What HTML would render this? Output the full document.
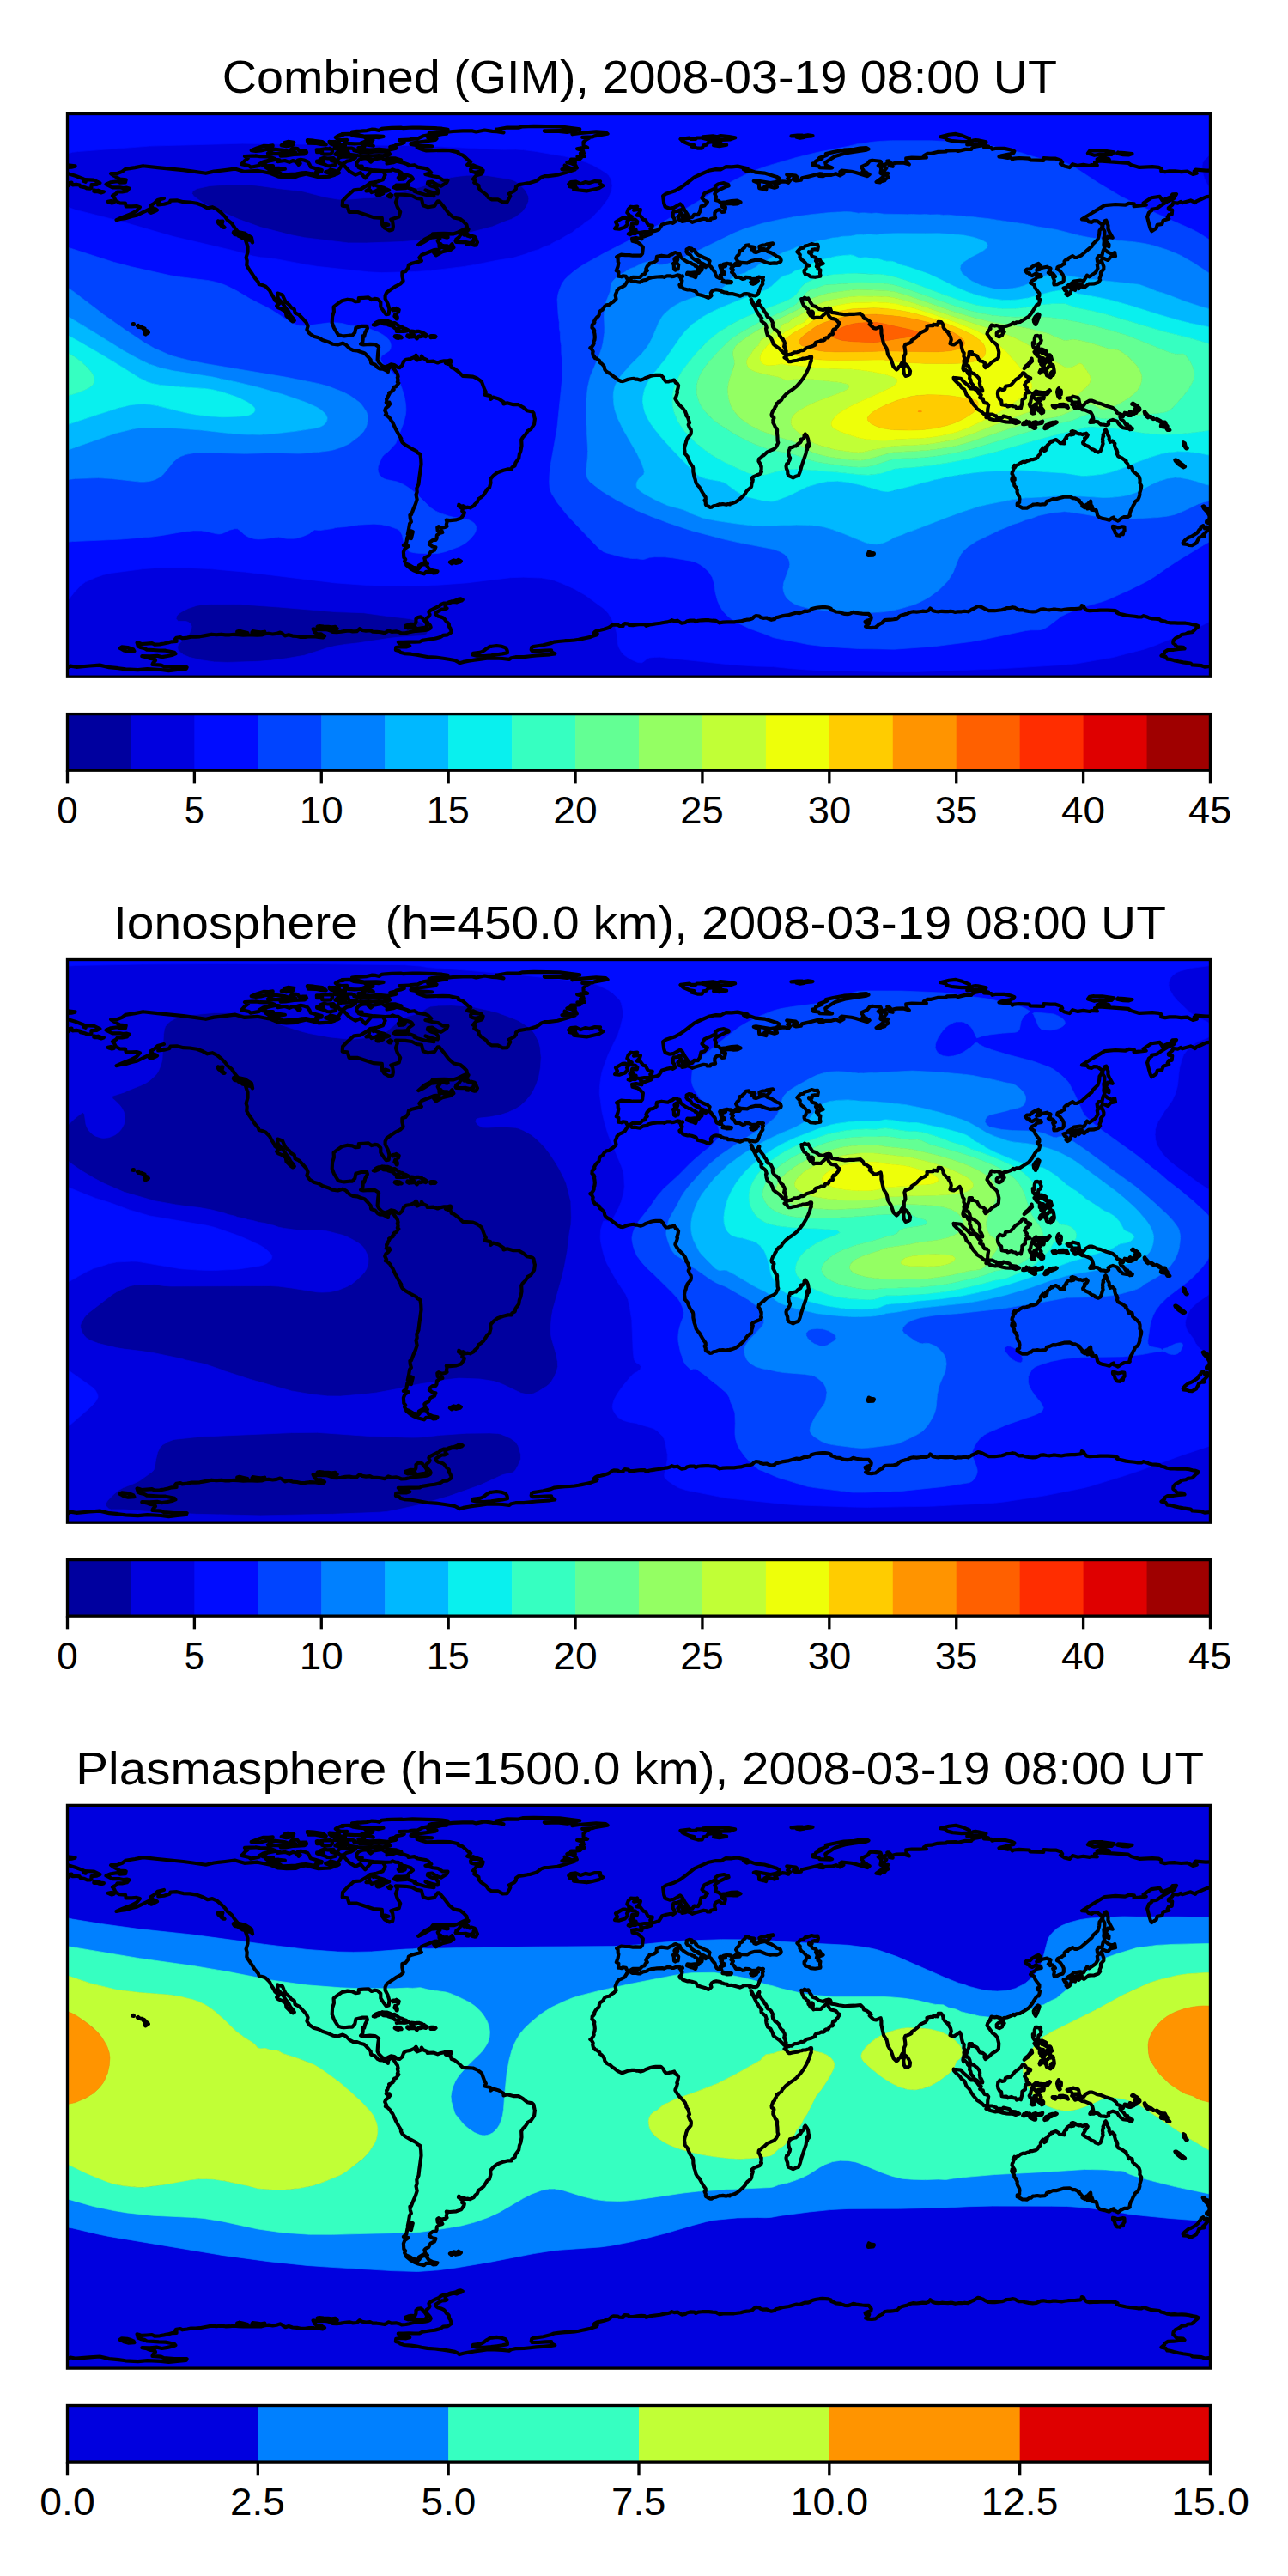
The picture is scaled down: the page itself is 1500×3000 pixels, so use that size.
<!DOCTYPE html><html><head><meta charset="utf-8"><title>TEC maps</title><style>html,body{margin:0;padding:0;background:#fff}svg{display:block}text{font-family:"Liberation Sans",sans-serif;fill:#000;font-kerning:none}</style></head><body>
<svg width="1500" height="3000" viewBox="0 0 1500 3000">
<rect width="1500" height="3000" fill="#fff"/>
<defs><clipPath id="mc"><rect x="0" y="0" width="1331" height="655.7"/></clipPath>
<path id="coast" d="M88.1 60.7L105 62.6L120 64.1L135 65.6L146.2 67.1L161.2 69.3L170.6 67.1L183.7 65.6L195 64.1L206.2 67.4L221.2 66.3L236.2 69.3L245.6 73.1L255 73.8L266.2 73.4L269.9 71.9L277.4 70.1L292.4 73.8L305.6 73.1L311.2 71.2L314.9 67.4L320.6 58.5L328.1 66.7L335.6 71.2L341.2 68.6L346.8 74.9L354.3 66.3L367.4 66.7L370.1 71.2L367.4 76.8L359.9 79.4L352.4 80.6L348.7 83.6L341.2 88.1L333.7 88.8L326.2 95.5L320.6 101.2L320.2 107.2L326.2 107.9L328.1 114.3L337.4 114.3L348.7 118L356.2 120.6L366.3 121.4L366.7 129.3L369.3 133L374.9 136L378.7 134.9L379.4 131.1L378.7 125.5L376.8 122.9L386.2 119.9L387.7 114.3L384.3 108.7L382.4 103L384.3 97.4L382.4 94L393.7 94.4L401.2 95.5L406.8 98.5L412.4 99.3L414.3 106.8L419.9 108.7L427.4 107.5L431.2 101.9L433 101.9L438.7 108.7L444.3 116.2L449.9 121L457.4 122.5L461.2 125.5L464.9 129.3L465.7 133L461.2 134.9L453.7 138.6L449.9 139.8L438.7 139.4L425.5 139.8L423.7 142.4L416.2 146.1L408.7 152.5L414.3 149.9L423.7 144.3L431.2 143.5L433.8 145.4L431.2 148L433 151.7L433 154.7L438.7 156.2L444.3 155.9L448 151.7L449.9 155.9L446.2 158.5L436.8 160.7L429.3 164.9L426.7 161.9L433 158.1L427.4 158.5L423.7 160L416.2 163L412.4 164.5L409.8 167.5L412.4 171.2L408.7 172.4L401.2 174.2L397.4 176.1L396.7 179.8L393.7 183.6L389.9 184.7L389.9 189.2L391.1 194.8L388.1 197.8L382.4 200.8L377.9 203.8L371.9 208L370.1 211.7L370.1 215.4L373.1 221.1L374.9 227.4L374.2 233.1L371.2 233.8L368.6 230.4L364.8 224.8L364.8 219.2L361.1 215.8L358.1 215.4L354.3 216.6L350.6 213.9L344.9 214.3L339.3 214.7L339.3 218.4L335.6 218.8L331.8 216.9L326.2 216.2L319.8 217.7L314.9 221.1L310.1 224.8L310.4 230.4L308.6 236.1L308.2 243.5L310.4 249.2L313.1 253.7L315.3 257.4L319.4 258.5L322.4 258.9L328.1 258.2L331.8 258.2L334.8 254.8L335.9 249.2L343.1 247.3L348.7 247.3L349.4 249.9L346.8 254.8L345.7 259.3L343.8 258.9L344.2 262.3L343.8 266L341.6 268.3L344.9 269L352.4 268.3L358.1 268.6L362.6 271.6L361.8 277.3L361.4 281.8L361.1 286.6L362.6 289.6L366.3 293.4L369.3 294.9L373.1 293.8L376.8 291.9L380.6 292.6L384.7 295.3L386.9 295.6L389.9 293L391.8 288.1L394.4 286.3L399.3 285.5L404.2 283.3L406 281.2L407.5 283.6L405.3 285.1L407.2 287L411.7 285.1L412.4 282.1L414.3 284.8L418.8 286.6L419.2 288.5L426.3 288.1L431.2 290L433.8 288.9L438.7 287.8L442.8 287.8L440.5 290.4L446.2 292.3L447.3 295.6L450.7 296.8L455.5 300.5L460.4 305.4L465.3 305.7L472.4 306.1L476.9 308L480.7 310.6L482.5 312.1L485.5 320.4L487.4 324.1L485.9 327.1L492.7 328.6L493 332.3L495.7 330.1L502.4 332L508 335.7L508 338L512.2 336.8L519.3 338.7L525.3 338.7L530.5 341.7L535.4 345.8L541.4 347L542.9 348.5L544 354.1L544.4 355.2L543.6 361.6L539.9 367.2L536.1 369.4L533.5 373.6L530.5 376.6L528.7 379.6L529 386.7L527.9 392.7L526.4 396.4L525.7 401.3L521.9 406.5L521.2 409.9L517.8 411.8L517.4 413.9L513.3 413.9L507.7 415.2L500.9 417.8L496.4 421.1L493 424.9L492.7 427.5L493 429.8L491.5 435.4L488.9 437.3L484.8 443.9L481.4 447L478.8 448.5L477.3 452.2L474.7 454.5L473.2 456.7L469 458.8L466 458.2L464.2 458.6L460.8 456.7L458.2 457.1L455.9 455.2L455.5 456.7L460.4 460.1L459.7 462.7L462.3 464.2L461.9 466.1L458.5 471L452.9 472.9L445.4 473.6L441.3 473.2L442 475.5L441.3 478.5L442 480.3L439.8 481.5L435.7 482.2L432.3 480.7L430.8 481.8L431.2 485.6L433.8 486.7L435.7 485.2L436.8 487.5L433.4 488.6L430.4 490.8L430 494.6L428.9 496.5L425.5 496.5L422.5 498.7L421.4 501.3L425.2 504L428.9 504.7L427.5 508.1L422.9 510.3L420.7 514.8L417.3 516.3L415.8 517.8L416.9 521.9L419.4 524L414.3 523.2L409.4 526.1L408.7 529.4L402.7 528.3L398.6 525.7L394.1 523.8L392.6 521.2L393.7 518.9L391.8 516.7L391.4 510.3L392.9 506.6L397.1 503.6L391.4 502.5L394.8 499.5L395.9 493.1L400.4 494.6L402.3 486.7L399.7 485.6L398.6 490.5L396.3 489.7L397.4 484.5L398.6 477.3L400.4 475.1L399.3 471.4L398.9 467.2L400.4 466.9L402.7 460.9L405.3 454.9L407.2 449.2L406 443.6L407.2 440.6L406.8 436.1L409 431.3L409.8 424.1L410.9 416.3L412 408L411.7 402L410.9 396.4L407.2 394.5L406.8 393L399.7 389.3L392.9 385.2L389.9 382.6L388.4 379.6L388.8 378.4L385.8 373.6L382.1 366.8L378.7 359.3L377.2 357.5L375.7 354.8L373.1 352.2L370.4 350.7L371.6 349.2L369.7 345.5L370.8 342.8L373.8 340.6L375.7 338L374.9 336.1L373.4 338L371.3 336.1L371.9 335.2L371.6 332L372.7 331.2L373.4 329L374.9 326.4L374.6 324.9L376.8 324.1L379.1 322.6L378.7 321.5L380.2 321.1L379.8 319.2L380.9 318.1L382.8 317.7L384.3 315.5L385.8 313.6L384.3 312.5L385.1 310.2L384.3 306.9L385.1 306.1L384.3 302.7L382.8 300.9L380.9 297.9L378.7 294.9L376.8 294.5L373.8 296.8L373.4 300.5L371.2 299L367.4 297.1L363.7 296.8L361.4 295.6L358.1 291.9L353.6 290.4L353.2 286.6L350.6 283.6L346.8 279.5L345.3 278.4L341.2 277.3L337.4 275.8L332.6 275.4L328.8 273.5L324.3 269L320.6 267.2L314.9 269L309.3 268.3L303.7 265.7L296.9 263.4L292.4 260.8L286.8 259.3L281.9 255.9L278.9 251.4L280.1 247.3L278.2 243.2L274.4 239L269.9 234.2L265.1 231.9L264.3 227.8L260.6 225.6L258.7 222.9L254.2 219.2L252 214.7L250.5 210.9L244.8 209.1L244.5 211.7L245.6 215.4L249.3 219.2L252 222.9L255 227.4L257.6 230.4L259.8 234.9L262.5 237.9L264.3 240.9L262.5 242L259.5 239.8L255 235.3L254.2 230.4L249.3 227.4L245.6 225.9L243.7 223.7L246.7 221.1L241.8 217.3L240 213.6L237.3 209.4L235.5 205.7L231 201.2L228.7 200.1L223.1 198.6L222.3 196L218.2 191.1L215.6 187L213.7 184.3L210.7 179.8L208.8 176.5L209.2 171.2L208.1 167.5L210 161.1L210 154.7L207.3 146.9L213.7 147.3L215.6 149.9L214.5 144.3L211.8 142.4L207 139.4L198.7 137.5L195 133L191.2 127.4L186.3 123.6L183.7 119.9L180 116.2L174.3 111.3L168.7 108.7L163.1 109.8L157.5 106.8L150.7 104.2L142.5 103L135 102.7L127.5 100.8L120 101.2L118.9 103.4L112.5 105.3L105.7 106L106.9 100L112.5 98.5L105 100.4L101.2 104.2L96.7 106.8L99.4 109.4L93.7 112L88.1 114.7L81.4 118L75 119.5L67.5 121.8L61.9 122.5L57 123.6L63.7 120.6L69.4 118.4L75 116.2L80.6 113.2L84.4 108.7L80.6 107.5L75 107.9L68.2 107.9L67.5 104.2L60.7 103.8L56.2 101.2L54.4 97.4L52.5 95.5L57 92.9L58.1 91L63.7 91L69.4 89.9L72 86.9L69.4 86.2L64.9 86.6L61.1 85.8L52.5 85.8L45 82.1L50.6 79.8L58.1 78.7L61.1 80.2L67.5 79.8L68.2 76.8L61.1 76.1L54.4 72.3L50.6 69.7L58.1 69.5L63.7 67.4L67.5 64.4L78.7 62.6L88.1 60.7M417.7 524.9L419 526.8L420.9 529.6L425.7 531.9L431 532.8L429.3 534.7L425.7 534.9L423.8 533.6L421.6 533.4L417.6 533.4L415.4 535.8L408.7 534.1L403.8 532.1L400 530L394.8 525.7L398.2 526.6L403.4 529.1L408.3 530.4L410.2 528.7L411.4 526.2L414.9 524.6L417.7 524.9M445.4 522.1L449.9 519.9L453.1 520.8L455.4 519.3L458.4 521L457.2 522.3L452.2 523.4L450.5 522.1L447.3 523.8L445.4 522.1M499.6 18.2L512.1 16L525.3 16.2L530.1 14.8L543.3 14.4L573.3 14.9L596.7 17.9L589.8 19.3L575.4 19.5L555.3 19.9L557.1 20.5L570.4 20.1L581.7 21.4L589 20.3L592.1 21.6L588 23.8L597.6 22.4L615.7 20.9L627 21.7L629.1 23.3L613.8 25.9L611.7 26.8L599.7 27.4L608.4 27.6L604 30.3L601 32.8L601.1 36.9L605.6 39.4L599.7 39.6L593.6 40.7L600.5 42.7L601.4 45.9L597.4 46.2L602.2 49.5L593.9 49.8L598.3 51.3L597 52.6L591.8 53.2L586.5 53.2L591.2 55.7L591.3 57.4L583.8 55.8L581.9 56.8L587 57.8L591.9 60.1L593.3 63.1L586.6 63.8L583.7 62.3L579.1 60.2L580.4 62.8L576 64.7L585.9 64.9L591.1 65.1L581 68.3L570.8 71.3L559.9 72.6L555.7 72.6L551.9 74L546.6 78L538.6 80.6L536 80.8L531 81.7L525.6 82.6L522.4 84.9L522.4 87.5L520.4 90L514.3 93L515.8 95.9L514.1 99L512.2 102.7L506.9 102.9L501.4 99.9L493.9 99.8L490.3 97.8L487.8 94.1L481.3 89.4L479.4 87L478.9 83.6L473.7 80.2L475 77.4L472.5 76.1L476.2 71.7L481.9 70.3L483.4 68.8L484.1 65.8L479.9 67.2L477.8 67.7L474.4 68.3L469.9 67L469.6 64.5L471.1 62.5L474.5 62.4L482.2 63.4L475.7 61.1L472.4 59.8L468.7 60.3L465.6 59.4L469.7 55.9L467.4 54.5L464.5 51.9L460 47.9L455.2 46.5L455.2 44.9L445.2 42.7L437.2 42.4L427.2 42.6L418 42.9L413.7 41.7L407.2 39.3L417 38.1L424.6 37.9L408.5 36.9L400 35.4L400.6 34L414.8 32.2L428.5 30.4L430 29L419.8 27.7L423.1 26.2L436.1 23.6L441.6 23.2L440 21.5L448.9 20.5L460.4 19.9L471.9 19.9L476 21L485.9 19L494.9 20.4L500.2 20.6L508 21.9L499 19.9L499.6 18.2M620.5 78.8L619.6 81.3L623.8 83.8L619 86.7L608.2 89.3L604.9 89.9L600 89.4L589.5 88.2L593.2 86.6L585 84.7L591.7 84L591.5 82.9L583.7 82L586.2 79.6L591.9 79L597.7 81.6L603.4 79.5L608.1 80.6L614.2 78.6L620.5 78.8M663.6 108.1L659.6 112.2L663.4 111.7L667.5 111.7L666.5 114.8L663.2 118.1L667 118.4L670.7 123.2L673.3 123.8L675.5 128L676.6 129.5L681.2 130.2L680.7 132.6L678.8 133.7L680.3 135.7L676.9 137.6L671.9 137.6L665.5 138.6L663.8 137.9L661.3 139.6L657.9 139.2L655.2 140.7L653.2 139.9L658.7 136L662.1 135.1L656.2 134.5L655.1 133.1L659.1 131.9L657 129.9L657.7 127.4L663.3 127.8L663.8 125.6L661.3 123.2L656.7 122.6L655.8 121.5L657.2 119.9L655.9 118.9L653.9 120.6L653.7 117L651.8 115.1L653.2 111.2L656.1 108.2L659.1 108.5L663.6 108.1M651.6 126L652.3 128.7L649.4 132L642.8 134.2L637.5 133.7L640.5 129.8L638.5 126L643.6 123L646.5 121.3L649.6 121.1L653.7 123.5L651.6 126M860.6 374.6L861.6 376.2L862.6 378.7L863.2 383.2L864.1 384.9L863.8 386.7L863.1 387.8L861.8 385.6L861.1 386.7L861.8 389.5L861.5 391.1L860.5 392L860.2 395.1L858.7 399.5L856.9 404.7L854.6 411.7L853.2 417L851.5 421.3L848.4 422.2L845.1 423.8L843 422.8L840 421.5L838.9 419.5L838.7 416.2L837.4 413.2L837 410.5L837.7 407.8L839.4 407.1L839.5 405.9L841.2 403L841.6 400.7L840.7 398.9L840 396.5L839.7 393.1L841 391L841.5 388.6L843.4 388.5L845.5 387.7L846.9 387L848.5 387L850.6 384.8L853.8 382.5L854.8 380.6L854.4 379L855.9 379.5L858 376.9L858.1 374.6L859.3 373L860.6 374.6M981.5 299.7L981 303.6L979.4 304.6L976.1 305.5L974.3 302.5L973.7 297.1L975.4 291.1L978 293.1L979.7 295.8L981.5 299.7M849.9 160.7L853.6 156.8L857.3 156.2L859 154L862.5 153.2L866.8 151.6L870 152.5L873.7 152.3L874.4 154.6L873.7 158.3L870.5 157.7L867.3 158.3L867.1 161.1L863.5 160.7L863.6 161.9L865.7 162.9L867.4 166.2L871.7 167.5L872.4 168.8L871.5 171.3L871.7 171.3L872.9 173.7L873.3 171L876.3 170L877.4 172.2L880.1 174.4L876.8 175.6L873.3 174.7L872.4 177.9L874.9 178.1L874 180.6L876.9 181.9L876.4 185.8L877 188.5L876.7 189.3L870.8 190.3L865.5 189.7L862.9 187.8L859.3 187L858.1 184.3L858.1 182.4L859.4 181.5L860.1 180.2L860.7 177.3L863.8 177L862.6 176L860.9 175.8L859 173.2L857 171.2L854.8 169.7L852.9 166.8L853.3 164.3L849.9 160.7M641.5 189.2L641.9 184.3L639.3 182.8L641.1 178L641.9 173.5L641.2 172.4L641.1 168.2L639.6 166.7L644.9 164.1L649.6 164.6L654.6 164.6L658.6 165.2L661.8 165L667.7 165.2L669.6 163L670.4 155.5L666.6 151.5L663.8 149.6L658 148.2L657.6 145.4L662.5 144.6L668.9 145.8L667.7 141.3L671.2 142.9L679.7 140.1L680.9 137.1L684.2 136.4L687.2 135.4L689.1 134.5L692.5 128.9L697.7 127.4L701.5 126.6L704.5 126.5L705.2 127.4L707.9 125.5L707.1 124L706.7 121.8L705.2 119.9L705.2 116.2L706 113.9L710.1 113.5L711.6 112.8L714.6 111.7L714.2 113.5L713.3 114.7L713.9 115.8L715.7 116.2L715 117.7L713.9 117.3L710.9 119.9L712 121.8L712 123.3L715.9 124.2L715.9 125.5L719.7 124.8L721.7 123.6L725.9 125.1L727.7 126.4L730.4 125.3L736.4 123.6L740.9 122.3L744.6 122.9L745 124L748.6 124L749.5 122.3L754.6 121.1L753.8 117.9L753.9 115.1L755.8 112.8L759.2 111.5L762.2 114.3L765.2 114.2L766 111.3L766.4 109L765.1 109.6L762.6 108.3L762.2 106L767.1 105L771.8 104.5L775.9 105.1L779.8 105L784 103L780.1 101.2L773.3 101.5L766.7 102.8L760.6 103.6L758.5 101.5L754.7 100.4L755.5 96.7L753.8 93.3L755.5 91L758.9 88.8L767.5 84.7L770.1 83.9L769.7 82.4L764.5 80.6L758.1 81.7L754.4 84.3L755.1 86.6L749.1 89.5L741.8 92.7L739 98.2L741.6 100.8L745.4 102.7L741.9 107L737.9 107.9L736.5 114.1L734.4 117.7L729.9 117.3L727.7 120.3L723.2 120.4L722.1 116.9L719.1 112.8L716.2 107.3L713.7 105L706.3 109.4L701.3 110.2L696.1 108.3L694.7 104.3L693.6 95.7L697 93.3L706.9 90.1L714.2 86.2L721.2 81L730.2 73.8L736.4 71L746.9 66.3L755.1 64.6L761.2 64.8L766.7 61.7L773.7 61.9L780.5 61.1L792.2 63.9L787.4 64.8L791.5 67.2L795.2 65.9L801.6 68.2L811.7 69.1L826 73.4L828.8 75.1L829 77.6L824.9 79.5L818.8 80.6L802 77.7L799.3 78.3L805.3 80.9L805.7 86.6L810.6 87.7L813.6 88.6L814.1 86.9L811.7 85.2L814.3 83.8L823.3 86.2L826.5 85.2L823.9 82.4L832.7 78.8L836.2 79.1L839.7 80.3L841.7 77.7L838.7 75.5L840.6 73.3L837.8 70.9L848.3 72.1L850.4 74.2L845.7 74.7L845.7 76.8L848.7 78L854.4 77.3L855.4 74.9L863.2 73.1L876.3 69.8L879.1 70L875.4 72.3L880.1 72.7L882.7 71.4L889.8 71.3L895.3 69.8L899.6 72L903.9 69.5L899.9 67.4L901.9 66.1L913 67.3L918.2 68.5L931.7 72.7L934.2 70.7L930.4 68.8L930.4 68L925.8 67.6L927.1 65.8L925 62.9L924.9 61.7L931.8 58.3L934.3 54.9L937.1 54.2L947 55.2L947.8 57.3L944.3 60.3L946.6 61.5L947.8 64.1L946.9 69.2L951.1 71.5L949.5 74L942.1 79.4L946.4 79.9L947.9 78.6L952 77.6L953 75.8L956.3 74L954.1 71.8L955.8 69.4L951.7 69.1L950.8 67L953.8 63.2L948.9 60.1L955.7 57.6L954.8 55L956.7 54.9L958.6 57L957.2 60.5L961.2 61.3L959.4 58.6L965.7 57.1L973.5 56.9L980.4 59L977.1 55.9L976.7 51.9L983.3 51.1L992.3 51.3L1000.4 50.8L997.4 48.9L1001.7 46.4L1006 46.3L1013.3 44.4L1023.2 44L1024.4 42.9L1034.3 42.6L1037.4 43.4L1045.8 41.4L1052.7 41.5L1053.7 39.9L1057.3 38.3L1066.1 36.7L1072.6 38L1067.4 38.9L1075.9 39.5L1076.9 41.3L1080.4 40.4L1091.3 40.4L1099.8 42.3L1102.8 43.7L1101.9 45.6L1097.7 46.7L1087.9 48.8L1085 49.9L1089.7 50.4L1095.2 51.4L1098.6 50.7L1100.5 53.1L1102.2 52.1L1108.2 51.5L1120.2 52.1L1121.1 53.9L1136.8 54.4L1137 51.6L1145 52.2L1151 52.2L1157 54.2L1158.7 56.6L1156.5 58.2L1161.2 61.1L1167.1 62.6L1170.7 58.7L1176.8 60.4L1183.1 59.4L1190.4 60.5L1193.1 59.5L1199.3 60L1196.6 56.5L1201.5 54.9L1235.4 57.3L1238.6 59.5L1248.4 62.4L1263.6 61.7L1271 62.3L1274.1 63.9L1273.7 66.6L1278.3 67.7L1283.3 66.9L1289.9 66.8L1297 67.6L1304.2 67.1L1310.7 70.5L1315.3 69.3L1312.3 66.9L1313.9 65.2L1325.9 66.2L1333.7 66L1344.5 67.8L1349.7 69.5M0 69.5L9.2 72.3L19 76L18.7 78.4L21.2 79.3L20.4 76.6L30.5 77.1L37.9 80.6L34.2 82.3L28 82.7L27.9 86.3L26.4 87.1L22.9 87L20.1 85.7L15.1 84.6L14.2 83L10.4 82.4L6.1 82.8L4.1 81.5L4.9 80.1L0.4 81L2.1 82.8L0 84.4M1349.7 84.4L1344.9 86.1L1340 85.8L1343.4 87.8L1345.7 90.9L1347.4 91.9L1347.8 93.4L1346.9 94.4L1339.8 93.6L1329.4 96.4L1326.1 96.9L1320.3 99.5L1314.9 101.8L1313.5 103.5L1308.1 100.9L1298.3 103.8L1296.7 102.4L1293.1 104.1L1288 103.5L1286.8 106L1282.3 109.6L1282.4 111.1L1286.7 112L1286.2 117.4L1282.7 117.6L1281.1 120.7L1282.7 122.3L1276.1 124.2L1274.8 128.5L1269.2 129.4L1268.1 133.2L1262.7 136.7L1261.3 134.1L1259.7 128.7L1257.6 120.3L1259.4 115.1L1262.6 112.9L1262.8 111.2L1268.6 110.3L1275.3 105.6L1281.8 101.8L1288.5 98.8L1291.5 93.5L1287 93.8L1284.7 96.9L1275.2 101L1272.1 96.4L1262.5 97.7L1253.1 103.9L1256.2 106.3L1247.8 107.2L1242 107.6L1242.3 104.9L1236.4 104.3L1231.8 106.2L1220.4 105.5L1208 106.6L1195.9 113.9L1181.5 122.8L1187.4 123.3L1189.2 125.6L1192.9 126.4L1195.3 124.6L1199.4 124.8L1204.8 128.9L1204.9 132.1L1202 135.9L1201.7 140.3L1200 146.3L1194.3 151.7L1193.1 154.3L1188 158.7L1183 163L1180.5 165.2L1175.6 167.4L1173.2 167.5L1170.8 165.7L1165.8 168.4L1165.2 169.7L1163.8 169.4L1162.2 170.7L1161 172L1161.2 174.7L1159.2 175.5L1158.6 176.1L1157.1 177.3L1154.7 177.9L1153 178.9L1152.9 180.5L1152.5 180.9L1154 181.5L1156.1 183.2L1159.3 187.6L1160.3 190L1160.3 194.3L1158.9 196.4L1155.5 197.1L1152.5 198.7L1149.1 199L1148.7 197L1149.4 194.2L1147.7 190.2L1150.5 189.6L1147.9 186.4L1146.1 185.7L1145.7 186.4L1144.6 186.7L1144.4 186L1143.5 185.7L1142.4 185.1L1143.5 183.4L1144.4 183L1144 182.3L1145 180.3L1144.7 179.7L1142.6 179.2L1140.8 178.2L1135.5 179.3L1132.8 181.1L1128.7 182.1L1130.8 180.4L1130 178.9L1132.9 176.4L1130.9 174.4L1127.7 175.8L1123.4 178.4L1121.1 180.8L1117.4 181L1115.5 182.7L1117.5 185.2L1120.6 185.8L1120.7 187.5L1123.7 188.6L1127.9 186L1131.2 187.4L1133.6 187.5L1134.2 189.5L1128.9 190.5L1127.2 192.6L1123.5 194.4L1121.6 197L1125.7 199.1L1127.1 202.8L1129.4 206.2L1131.9 209.1L1131.9 211.9L1129.5 212.9L1130.4 214.9L1132.6 216.1L1132.1 219.1L1131.1 222.1L1129 222.4L1126.3 226.5L1123.3 231.4L1119.8 235.9L1114.6 239.3L1109.4 242.5L1105.1 242.9L1102.9 244.6L1101.6 243.4L1099.4 245.2L1094.2 247.1L1090.3 247.7L1088.9 251.6L1086.9 251.9L1085.9 249.1L1086.8 247.7L1081.7 246.5L1080 247.1L1076.2 246.1L1074.4 249.8L1075 250.3L1071.8 253.8L1071 256.4L1073.9 260.4L1077.4 265.3L1080.8 267.6L1083.1 270.6L1084.8 277.5L1084.3 284.1L1081.2 286.6L1076.9 289L1073.8 292.1L1069.1 295.6L1067.8 293.2L1068.8 290.7L1066 288.5L1062.9 288L1061.4 286.1L1059.5 282.2L1056.1 280.5L1052.9 280.5L1053.5 277.6L1050.2 277.6L1049.9 281.7L1047.9 287.2L1046.6 290.5L1046.9 293.2L1049.3 293.3L1050.9 296.8L1051.5 300L1053.6 302.1L1055.9 302.6L1057.8 304.5L1058.7 304.9L1060.9 307.2L1062.5 309.6L1062.7 312.2L1062.3 313.9L1062.7 315.2L1062.9 317.4L1064.2 318.4L1065.7 321.7L1065.7 323L1063 323.2L1059.4 320.5L1055 317.5L1054.6 315.6L1052.4 313.1L1051.9 310L1050.6 308L1051 305.2L1050.1 303.6L1048.6 302.2L1048 300.3L1046 298.2L1044.2 296.5L1043.6 298.7L1042.9 296.6L1043.3 294.2L1044.4 290.6L1044 287.8L1045.2 285L1043.9 282.8L1044.2 278.7L1042.7 276.7L1041.5 272.2L1040.8 267.5L1039.2 264.4L1036.7 266.3L1032.4 269L1030.3 268.6L1028 267.8L1029.3 263.1L1028.5 259.6L1025.6 255.3L1026 253.9L1023.9 253.4L1021.2 250.4L1020.1 248.5L1019.9 246.5L1019.2 244.7L1017.6 242.5L1014.2 242.4L1014.5 244L1013.3 246L1011.7 245.3L1011.2 245.9L1010.1 245.5L1008.7 245.2L1008.1 246.6L1005.6 246.5L1001 247.3L1001.2 250.1L999.2 252.4L993.8 254.9L989.6 259.3L986.8 261.6L983 264.1L983 265.8L981.2 266.7L977.8 268.1L976 268.3L974.9 271.1L975.7 276L975.9 279.1L974.3 282.7L974.3 289L972.3 289.2L970.7 292.1L971.8 293.3L968.4 294.4L967.1 296.9L965.6 298L962 294.5L960.3 289.3L958.9 285.5L957.6 283.7L955.5 280.1L954.6 275.4L954 273.1L950.6 267.9L949 260.7L947.9 255.9L947.9 251.3L947.2 247.8L941.7 250.1L939.1 249.6L934.2 245.1L936 243.7L934.9 242.3L930.5 239.1L927.7 238.2L926.6 235.5L923.7 232.6L916.8 233.3L910.7 233.4L905.5 233.9L898.4 232.8L894.3 231.9L890.1 231.4L888.5 226.8L886.7 226.2L883.8 226.8L880 228.6L875.4 227.4L871.6 224.5L868 223.4L865.5 219.9L862.8 214.9L860.8 215.5L858.4 214.2L857 215.7L854.7 215.5L855.5 217.2L855.2 218L856.4 220.9L857.9 224.1L859.7 225L860.4 226.3L862.9 227.8L863.1 229.4L862.8 230.7L863.2 231.9L864.3 232.9L864.8 234.2L865.4 235.1L866.1 230.4L867.2 230L868.3 231.2L868.4 233.4L867.5 235.6L868.3 237L868.9 236.8L869 237.9L872 237.3L875.1 237.4L877.4 237.5L879.9 234.9L882.7 232.5L885.1 230.2L886.2 228.9L886.7 229.3L886.3 230.8L885.8 231.5L886.3 234.5L888 237L890.1 238.4L892.9 238.9L895.1 239.5L896.8 241.7L897.8 242.9L899.1 243.4L899.1 244.3L897.7 246.5L897.1 247.6L895.6 248.8L894.2 251.3L892.4 251.1L891.7 252L891.1 253.9L891.5 256.4L891.2 256.9L889.4 256.8L887.1 258.3L886.7 260.1L885.9 260.9L883.6 260.9L882.1 261.8L882.1 263.3L880.3 264.3L878.2 264L875.7 265.2L874 265.5L871.3 266.5L870.5 268.1L870.5 269.4L866.7 271L860.7 272.7L857.4 275.4L855.7 275.6L854.6 275.4L852.4 276.9L850 277.6L846.9 277.8L846 278.1L845.1 279L844.1 279.3L843.6 280.3L841.7 280.2L840.5 280.7L837.9 280.5L836.9 278.3L837 276.3L836.4 275.2L835.7 272.4L834.6 270.9L835.4 270.7L835 268.9L835.4 268.2L835.3 266.6L834.8 265L833.7 263.9L833.4 262.4L831.4 261L829.4 257.9L828.4 254.8L825.8 252.3L824.1 251.6L821.6 248.1L821.2 245.5L821.4 243.2L819.2 239.1L817.4 237.6L815.4 236.8L814.2 234.7L814.4 233.9L813.3 231.9L812.2 231.1L810.8 228.3L808.5 225.3L806.6 222.7L804.7 222.7L805.3 220.7L805.5 219.3L805.9 217.8L805.8 217.3L804.7 218.8L804 221.7L802.9 223.6L802 224.2L800.8 223.1L799.1 221.4L796.4 216L796.1 216.3L797.6 220.3L799.9 224.1L802.7 229.9L804.1 231.9L805.3 234.1L808.7 238.2L807.9 238.9L808.1 241.3L812.4 244.7L813.1 245.4L814.3 249.1L813.5 249.8L814 253.6L815.4 258.1L816.8 259L818.9 260.4L821.1 264.8L822.1 268.2L824.1 270L829.3 273.6L831.3 275.7L833.4 277.9L834.6 279.1L836.4 280.3L837.3 281.4L837.2 283L835 283.9L836.7 284.9L837.9 285.6L838.6 287.2L840.3 288.7L842.1 288.7L845.7 287.8L849.8 287.3L853.1 286.1L854.9 285.9L856.3 285.2L858.4 285.1L859.6 285L861.3 284.5L863.3 284.1L865.1 282.8L866.5 282.8L866.6 283.8L866.2 286L866.3 288L865.4 289.3L864.4 293.4L862.6 297.6L860.3 302.4L857.1 307.8L853.9 312L849.4 317.1L845.7 320.2L840.1 323.9L836.6 326.8L832.5 331.3L831.6 333.3L830.8 334.1L828.1 335.6L827.2 337.2L825.8 337.5L825.3 340.1L824.1 341.6L823.3 344.1L821.8 345.4L820.1 350L820.3 352.1L822.7 353.5L822.9 354.5L821.8 356.7L822 357.9L821.8 359.7L823.1 362L824.7 365.7L826 366.5L826.6 368.2L826.5 371.9L826.9 375.2L827.1 381.1L827.8 382.9L826.6 385.6L825.2 388.2L822.8 390.5L819.4 391.9L815.1 393.8L810.9 397.8L809.5 398.4L806.8 401.1L805.3 402L805 404.7L806.8 407.5L807.5 409.7L807.6 410.8L808.2 410.6L808.1 414.3L807.5 416.1L808.4 416.7L807.8 418.2L806.2 419.6L803.2 420.8L798.6 422.9L797 424.3L797.3 425.8L798.3 426.1L798 428L797 430.8L796.6 433.9L795.6 435.6L793.1 437.5L792.3 438L790.7 439.9L789.7 441.8L787.6 444.5L783.3 448.4L780.7 450.6L777.8 452.4L773.9 453.8L772 454L771.5 455L769.2 454.5L767.4 455.2L763.3 454.5L761.1 454.9L759.5 454.7L755.6 456.2L752.4 456.8L750.1 458.2L748.4 458.3L746.8 457L745.6 456.9L743.9 455.2L743.8 455.8L743.3 454.8L743.3 452.5L742.1 450L743.3 449.4L743.2 446.5L740.7 443L738.8 439.8L736.1 434.9L733.4 432.1L731.9 429.4L731.1 425.7L730.1 423L728.9 417.2L728.8 412.8L728.3 410.7L726.9 409.2L724.9 406L723 401.6L722.2 399.2L719.1 395.6L718.9 392.7L718.5 390.3L719 387L720.3 383.6L720.5 382L721.7 378.6L722.6 377.1L724.8 374.6L726 373L726.4 370.2L726.2 368.1L725.1 366.7L724.1 364.5L723.2 362.2L723.4 361.4L724.5 359.9L723.4 356.3L722.6 353.8L720.7 351.4L721.1 350.7L720.5 349.5L719.5 346.7L716.5 342.8L712.6 339L710.2 335.9L707.9 332L708 330.8L708.8 329.6L709.7 326.8L710.5 324.1L709.8 323.5L711.1 319.3L711.6 316.3L710.1 313.9L708.4 313.2L707.6 311.6L706.7 311L706.7 310L702.8 311.3L701.4 311.1L700 312L697 311.9L695 309.5L693.7 306.8L691.1 304.4L688.3 304.4L685 304.4L681.9 304.8L678.8 305.6L673 307.8L670.9 309.1L667.5 310.2L664.2 309.2L662.5 309.2L659.8 308.4L657.4 308.5L653 309.2L646.7 311.6L646 311.5L645 311.5L641.1 309.8L637.7 306.9L634.5 304.8L632 302.4L631 302.1L628.3 300.6L626.3 298.6L625.7 297.3L625.2 294.5L623.5 292.3L622.1 290.8L621.1 290.3L620.2 289.6L619.8 287.9L619.2 287.1L618.1 286.5L616.2 284.9L614.5 284.7L613.7 283.6L613.7 283L612.6 282.3L612.3 281.5L611.7 278.6L612.2 276.9L610.6 274L608.8 272.7L610.4 271.9L612.3 269.3L613.2 267.4L612.8 265.4L613.9 263.5L614.3 260L613.9 256.3L613.5 254.4L613.8 252.6L612.9 250.8L610.9 249.2L611.1 247.6L611.2 245.8L612.7 244.8L613.9 242.9L613.6 241.6L615 239L617 236.6L618.3 236L619.3 233.8L619.4 231.8L620.7 229.5L623.2 228.1L625.6 224.3L627.6 222.8L631 222.4L634 219.8L635.9 218.8L639 215.7L638.1 211L639.5 207.8L640 205.9L642.4 203.3L646.2 201.6L649 200L651.5 196.1L652.6 193.9L655.4 193.9L657.7 195.5L661.2 195.2L665.1 196L666.7 196.1L670.3 194L674.4 193.4L676.7 191.8L680.4 190.7L686.7 190L692.9 189.7L694.8 190.3L698.3 188.8L702.4 188.8L703.9 189.6L706.4 189.4L710.5 187.9L713.2 188.4L713 190.3L716.2 188.9L716.5 189.6L714.6 191.4L714.6 193.2L715.9 194.1L715.4 197.3L712.9 199.2L713.6 201.2L715.6 201.3L716.5 203.1L718 203.7L722.3 205L723.9 204.7L727.1 205.3L732 206.9L733.8 210.3L737.1 211L742.4 212.6L746.4 214.4L748.2 213.5L750 211.7L749.2 208.9L750.3 207.1L753 205.3L755.6 204.8L760.7 205.6L762 207.2L763.4 207.2L764.6 207.9L768.3 208.3L769.2 209.6L774.2 209.5L777.8 210.5L781.5 211.6L783.3 212.2L786.2 211L787.7 209.9L791 209.6L793.7 210.1L794.7 212L795.6 210.7L798.6 211.6L801.5 211.8L803.4 210.9L804.4 209.6L804.2 209.4L805.2 207.7L805.9 204.8L806.5 203.9L807.9 200.8L809.8 198.2L809.5 195.2L810.4 193.6L809 192L810.4 190.5L808.2 190.8L805 190L802.5 192.1L796.8 192.6L793.7 190.6L789.7 190.4L788.8 192L786.2 192.4L782.6 190.4L778.5 190.5L776.3 186.8L773.6 184.7L775.4 181.8L773 180L777.2 176.4L782.9 176.3L784.5 173.4L791.7 173.9L796.2 171.5L800.5 170.4L806.7 170.3L813.3 173L818.7 174.4L823 173.9L826.2 174.2L830.7 172.2L831.2 170.6L830.3 168L828.1 166.7L826 166.2L824.7 165.1L819.9 161.9L815.6 160.5L812.4 158.3L815.1 157.7L818.2 154.6L816.1 153.1L821.7 151.6L821.5 150.8L818.2 151.4L815.2 151.7L812.7 152.9L809.2 153.1L805.9 154.5L806.2 156.8L808 157.7L811.8 157.5L811.1 158.8L807 159.5L801.9 161.6L799.8 160.9L800.7 159.1L796.5 158L797.2 157.3L800.8 156.1L799.7 155.2L793.9 154.3L793.7 152.8L790.2 153.3L788.8 155.4L785.9 158.2L786 159.1L784.1 159.9L783 159.6L782 164.1L780 165.6L778.6 168.3L779.9 170.4L780.3 171.9L783.6 173.1L782.9 174L778.4 174.2L776.8 175.4L773.7 177.4L772.5 175.7L772.6 174.9L770.3 174.8L768.3 174.4L763.8 175.4L766.4 177.5L764.5 178.1L762.4 178.1L760.4 176.2L759.7 177L760.5 179.2L762.4 181L761 181.8L763.1 183.6L765 184.6L765 186.7L761.6 185.8L762.6 187.7L760.2 188.1L761.7 191.4L759.2 191.4L756.1 189.8L754.7 186.8L754.1 184.3L752.6 182.6L750.7 180.4L750.4 179.4L749.8 179.1L749.7 178.3L747.6 177L747.3 175.2L747.6 172.7L748.1 171.5L747.5 170.9L746.7 170.6L745.7 169.4L744 168.7L740.5 167.3L738.3 165.9L734.9 164.8L731.8 162.1L732.5 161.8L730.8 160.2L730.7 158.9L728.3 158.4L727.2 160L726.1 158.7L726.2 157.4L727.1 157L724.1 156.5L721.1 157.8L721.3 159.7L720.8 160.7L722.1 162.7L725.6 164.5L727.5 167.6L731.6 170.6L734.6 170.6L735.5 171.5L734.4 172.2L737.8 173.6L740.6 174.7L743.8 176.6L744.2 177.3L743.4 178.7L741.4 176.9L738.1 176.3L736.5 178.7L739.2 180.1L738.8 182.1L737.3 182.3L735.2 185.5L733.7 185.8L733.7 184.7L734.4 182.7L735.3 181.9L733.8 179.7L732.6 177.8L731.1 177.3L730 175.7L727.6 175L726 173.5L723.2 173.3L720.3 171.6L716.8 169.1L714.3 167L713.1 163.3L711.2 162.8L708.2 161.6L706.5 162.1L704.3 163.9L702.8 164.1L699.4 166.2L692 165.2L686.5 166.4L686.1 168.7L686.3 170.9L682.7 173.4L677.9 174.2L677.6 175.4L675.3 177.5L673.8 180.6L675.3 182.7L673.1 184.4L672.3 186.8L669.5 187.6L666.8 190.5L658.5 190.4L656.1 191.8L654.7 193.2L652.9 192.9L651.5 191.6L650.4 189.4L646.9 188.8L645.4 189.8L643.5 189.3L641.5 189.2M1213.1 379.4L1214.5 382.4L1216.9 380.9L1218.1 382.5L1219.9 384L1219.5 385.7L1220.4 388.9L1220.9 390.7L1221.9 391.2L1222.9 394.4L1222.5 396.3L1223.7 398.9L1227.8 400.8L1230.4 402.6L1233 404.2L1232.5 405.1L1234.6 407.5L1236.1 411.6L1237.6 410.7L1239.1 412.4L1240 411.8L1240.6 415.8L1243.3 418.1L1245 419.5L1248 422.5L1249 425.5L1249.1 427.7L1248.9 430L1250.7 433.2L1250.4 436.5L1249.8 438.2L1248.8 441.6L1248.9 443.7L1248.1 446.4L1246.5 449.8L1243.7 451.6L1242.3 454.6L1241.1 456.4L1239.9 459.6L1238.5 461.5L1237.6 464.3L1237.1 466.9L1237.3 468.1L1235.1 469.4L1230.9 469.5L1227.4 471.1L1225.7 472.5L1223.5 474.1L1220.4 472.4L1218.1 471.8L1218.6 469.9L1216.6 470.6L1213.3 473.3L1210.1 472.3L1207.9 471.7L1205.8 471.4L1202.2 470.3L1199.7 468L1199.1 465.1L1198.2 461.7L1196.3 461.7L1192.7 461.3L1194 459.5L1193.1 456.7L1191.2 459.3L1187.9 460L1189.8 457.9L1190.4 455.7L1191.9 453.9L1191.6 451.1L1188.5 454.3L1186.2 455.6L1184.7 458.6L1181.8 457L1181.9 455.1L1179.6 452.3L1177.6 450.9L1178.3 450.1L1173.5 447.8L1170.9 447.7L1167.3 445.9L1160.6 446.2L1155.7 447.6L1151.4 448.8L1147.8 448.6L1143.9 450.5L1140.6 451.3L1139.9 453.3L1138.5 454.8L1135.3 454.9L1133 455.2L1129.7 454.6L1127 455L1124.4 455.2L1122.2 457.2L1121.1 457L1119.2 458.1L1117.4 459.2L1114.7 459.1L1112.2 459.1L1108.1 456.7L1106.2 456L1106.2 453.8L1108.1 453.3L1108.7 452.5L1108.6 451.1L1109 448.5L1108.6 446.3L1106.6 442.5L1106 440.4L1106.2 438.2L1104.7 435.8L1104.6 434.7L1102.9 433.2L1102.5 430.3L1100.3 427.3L1099.8 425.7L1101.5 427.3L1100.2 423.8L1102.1 424.9L1103.2 426.4L1103.1 424.5L1101.2 421.5L1100.9 420.3L1100 419.2L1100.4 417.1L1101.2 416.1L1101.7 414.3L1101.3 412.1L1102.9 409.4L1103.2 412.2L1104.7 409.6L1107.8 408.4L1109.6 406.8L1112.5 405.4L1114.2 405.1L1115.2 405.6L1118.2 404.2L1120.4 403.8L1121 402.9L1122 402.6L1124.1 402.7L1128 401.6L1130 399.9L1131 398L1133.2 396L1133.4 394.5L1133.4 392.5L1136.1 389.3L1137.6 392.6L1139.3 391.8L1137.9 390L1139.1 388.2L1140.8 389L1141.2 386.2L1143.3 384.4L1144.2 382.9L1146 382.2L1146.1 381.2L1147.8 381.6L1147.8 380.7L1149.5 380.1L1151.3 379.6L1154 381.4L1156.1 383.6L1158.5 383.6L1160.9 383.9L1160.1 381.9L1161.9 378.9L1163.6 377.9L1163 377L1164.6 374.8L1166.9 373.5L1168.8 373.9L1172 373.2L1171.9 371.3L1169.1 370.1L1171.1 369.6L1173.6 370.5L1175.6 372L1178.7 373L1179.8 372.6L1182.2 373.7L1184.3 372.7L1185.8 373L1186.6 372.3L1188.3 374.1L1187.4 376.1L1185.9 377.6L1184.6 377.8L1185.1 379.3L1184 381.1L1182.6 383L1182.9 384.1L1185.9 386.1L1188.8 387.3L1190.7 388.6L1193.4 390.8L1194.5 390.8L1196.4 391.8L1197 392.9L1200.6 394.2L1203.1 392.9L1203.8 390.9L1204.5 389.3L1205 387.2L1206.1 384.2L1205.6 382.4L1205.9 381.3L1205.5 379.2L1206 376.3L1206.7 375.6L1206.1 374.3L1207 372.4L1207.7 370.3L1207.8 369.2L1209.2 367.8L1210.3 369.7L1210.5 372L1211.5 372.5L1211.6 374L1213 375.9L1213.3 378.1L1213.1 379.4M1220 480.7L1223.6 482L1225.7 481.5L1228.6 480.8L1230.9 481L1231.1 485.4L1229.8 486.8L1229.4 489.8L1228.1 488.7L1225.5 491.3L1224.7 491.1L1222.5 491L1220.1 487.8L1219.6 485.3L1217.5 482.1L1217.5 480.3L1220 480.7M1338.1 478L1336.7 480L1334.8 482.6L1331.9 484.1L1331.3 483.1L1329.7 482.5L1331.9 479.4L1330.6 477.4L1326.6 475.9L1326.7 474.5L1329.4 473.2L1330 470.3L1329.9 467.9L1328.3 465.4L1328.5 464.7L1326.7 463.2L1323.7 459.9L1322.2 457.2L1323.5 456.9L1325.6 459L1328.5 460L1329.5 463.3L1332.3 467.3L1332.3 464.7L1334 465.7L1334.6 468.6L1337.6 469.8L1340.1 470.1L1342.3 468.7L1344.2 469.1L1343.3 472.4L1342.1 474.6L1339.3 474.5L1338.3 475.7L1338.6 477.3L1338.1 478M1311 491.1L1314.2 489.1L1316.5 487.1L1318.1 484.4L1319.6 483.4L1320.1 481.3L1322.8 479.6L1323.6 481.2L1324.4 482.7L1327.1 481.2L1328.2 482.8L1328.2 484.4L1326.8 486.1L1324.3 488.9L1322.4 490.4L1323.8 492.1L1320.9 492.2L1317.7 493.6L1316.7 496.1L1314.6 499.9L1311.6 501.6L1309.7 502.6L1306.3 502.5L1303.9 501.3L1299.8 501L1299.2 499.6L1301.2 496.9L1305.9 493.2L1308.3 492.5L1311 491.1M1177.8 332.2L1178.9 338.2L1182.8 340.5L1185.9 336.5L1190.2 334.2L1193.5 334.2L1196.7 335.5L1199.5 336.9L1203.5 337.6L1210 340.2L1216.9 342.3L1219.5 344.2L1221.6 346.1L1222.2 348.3L1228.5 350.6L1229.4 352.6L1225.9 353L1226.7 355.5L1230.1 358L1232.5 361.9L1234.7 361.8L1234.5 363.5L1237.4 364.1L1236.3 364.8L1240.3 366.4L1239.9 367.5L1237.4 367.8L1236.4 366.8L1233.2 366.4L1229.4 365.8L1226.5 363.4L1224.4 361.3L1222.5 358.1L1217.5 356.4L1214.4 357.5L1212.1 358.8L1212.6 361.5L1209.6 362.8L1207.5 362.2L1203.6 362L1200.3 358.9L1196.5 358.2L1195.6 359.2L1190.8 359.4L1192.4 356.3L1194.8 355.3L1193.8 351.2L1192 348L1184.7 344.9L1181.6 344.6L1176 341.1L1174.9 342.9L1173.5 343.2L1172.6 341.9L1172.6 340.3L1169.7 338.4L1173.8 337.1L1176.5 337.1L1176.2 336.1L1170.6 336.1L1169.2 333.9L1165.8 333.2L1164.2 331.4L1169.3 330.5L1171.2 329.2L1177.2 330.8L1177.8 332.2M1116.8 312.3L1114.7 315.7L1117.5 319.3L1116.8 321L1121 324.5L1116.6 324.9L1115.3 327.5L1115.5 330.8L1111.9 333.4L1111.8 337.1L1110.4 342.9L1109.8 341.6L1105.5 343.2L1104.1 341L1101.4 340.7L1099.5 339.5L1095.1 340.9L1093.7 339.1L1091.2 339.3L1088.1 338.8L1087.6 333.8L1085.7 332.8L1083.9 329.6L1083.4 326.3L1083.8 322.8L1086 320.3L1088.8 321.6L1091.7 320.9L1092.4 317.7L1094 317L1098.5 316.2L1101.2 313.3L1103 310.9L1104.5 309.5L1107.7 307.4L1110.6 304.8L1112.5 301.9L1114 301.9L1115.9 303.8L1116.1 305.4L1118.6 306.5L1121.7 307.6L1121.5 309L1118.9 309.2L1119.6 311.1L1116.8 312.3M1032.1 307.3L1040.4 308.2L1043.7 311.9L1046.6 314.4L1048.6 316L1052.2 320L1056 320.1L1059.2 322.6L1061.4 325.8L1064.2 327.5L1062.7 330.5L1064.8 331.8L1066.2 331.9L1066.8 334.5L1068.1 336.6L1070.9 337L1072.7 339.3L1071.8 344L1071.6 349.8L1067.5 349.8L1064.3 346.7L1059.5 343.7L1057.9 341.4L1055.1 338.3L1053.2 335.5L1050.3 330.3L1047 327.2L1045.9 324L1044.6 321L1041.2 318.7L1039.2 315.4L1036.4 313.3L1032.5 309.2L1032.1 307.3M1069.9 353.5L1072.5 350L1077.1 350.1L1080.1 351.6L1081.6 351.9L1082.1 353.3L1089.3 353.6L1090.1 352.1L1097.1 353.9L1098.5 356.3L1104.1 357L1108.7 359.2L1104.4 360.6L1100.3 359.1L1096.9 359.2L1093 358.9L1089.5 358.3L1085.2 356.9L1082.4 356.5L1080.8 357L1074 355.4L1073.3 353.8L1069.9 353.5M1144.4 322.5L1141.4 326.2L1138.6 327L1135 326.2L1128.8 326.4L1125.5 327L1124.9 329.8L1128.3 333.1L1130.3 331.4L1137.3 330.2L1137 331.9L1135.4 331.3L1133.7 333.5L1130.5 335L1134 339.8L1133.3 341.1L1136.7 345.4L1136.6 347.9L1134.6 348.9L1133.2 347.6L1135 344.6L1131.3 346L1130.4 345L1130.9 343.5L1128.2 341.3L1128.4 337.7L1126 338.8L1126.3 343.2L1126.4 348.6L1124 349.1L1122.4 348L1123.5 344.6L1122.9 340.9L1121.3 340.9L1120.2 338.3L1121.7 335.9L1122.2 332.9L1124.2 327.3L1124.9 325.7L1128.1 322.9L1131.1 324.1L1135.8 324.6L1140.1 324.4L1143.8 321.7L1144.4 322.5M1129.7 258.5L1132.1 259.6L1133.2 258.6L1133.6 259.6L1132.9 261.1L1134.2 263.8L1133.2 266.9L1131 268.2L1130.5 271.2L1131.3 274.2L1133.3 274.6L1134.9 274.1L1139.6 276.2L1139.3 278.2L1140.5 279.1L1140.1 280.9L1137.2 279L1135.8 277.1L1134.8 278.4L1132.4 276.2L1129 276.7L1127.2 275.9L1127.3 274.4L1128.5 273.4L1127.4 272.5L1126.9 273.9L1125.1 271.8L1124.5 270.1L1124.3 266.6L1125.9 267.8L1126.3 261.9L1127.5 258.5L1129.7 258.5M1148.7 296.3L1149.1 298.8L1149.3 300.9L1148 304.4L1146.6 300.5L1144.9 302.4L1146.1 305.2L1145 306.9L1140.6 304.8L1139.6 302L1140.7 300.3L1138.3 298.5L1137.2 300L1135.4 299.9L1132.6 302L1132 300.9L1133.4 297.8L1135.8 296.7L1137.9 295.3L1139.2 297L1142 296L1142.6 294.3L1145.3 294.2L1145.1 291.3L1148.1 293L1148.4 295L1148.7 296.3M1123 285.2L1123.6 288.3L1121.2 290.4L1119.2 292.9L1114.2 296.5L1116 293.9L1118.8 291.6L1121 289L1123 285.2M1145.4 282.3L1146.5 286.4L1143.6 285.5L1143.6 286.7L1144.6 289L1142.8 289.9L1142.6 287.2L1141.5 287L1140.9 284.8L1143.1 285.1L1143.1 283.7L1140.8 280.8L1144.4 280.9L1145.4 282.3M1134.5 290.5L1135.4 289.4L1135.8 287.1L1137.9 286.9L1137.3 289.4L1140.1 285.8L1139.7 289.3L1138.4 290.6L1137.2 292.9L1136 294.1L1133.7 291.5L1134.5 290.5M1131.8 283.3L1134.1 284.5L1136.5 284.5L1136.4 286L1134.7 287.6L1132.3 288.7L1132.2 287L1132.4 285.1L1131.8 283.3M1126 277.4L1129.2 277.5L1130.5 278.9L1129.5 282.1L1127.9 280.3L1126 277.4M1203.4 188.7L1202 191.7L1202.7 193.6L1200.7 196.2L1196 197.9L1189.4 198.2L1184 202.5L1181.5 201L1181.3 198.2L1174.8 199L1170.4 200.8L1166 200.9L1169.8 203.6L1167.3 210L1164.9 211.6L1163 210.1L1164 206.8L1161.6 205.7L1160.1 203.1L1163.6 202L1165.6 199.6L1169.3 197.6L1172.1 195.1L1179.6 194L1183.6 194.7L1187.5 188.1L1190 189.9L1195.5 186.1L1197.6 184.6L1200 180.1L1199.3 175.9L1200.9 173.5L1204.9 172.8L1206.9 178L1206.8 181L1203.4 184.8L1203.4 188.7M1214.4 162.4L1217.1 163.1L1219.7 161.6L1220.5 165.8L1215 166.8L1211.7 170.5L1205.8 167.9L1203.8 172.1L1199.6 172.1L1199.1 168.4L1200.9 165.5L1204.9 165.3L1206 160.1L1207.2 157.2L1211.5 161.1L1214.4 162.4M1179.7 199.9L1180.2 201.2L1178 203.5L1176.5 202.3L1174.6 203.1L1173.6 205.3L1171.1 204.2L1171.2 202.5L1173.2 200.2L1175.4 200.7L1176.9 199.1L1179.7 199.9M1213.5 137.7L1217.2 144.3L1211.7 143.1L1209.4 148.5L1213 152.3L1212.9 155L1210.1 152.7L1207.6 155.6L1206.9 152.5L1207.3 148.8L1206.9 144.8L1207.8 141.9L1207.9 136.9L1205.7 133.2L1206.1 128.1L1209.6 126.4L1208.1 124.7L1209.7 124.1L1210.7 126.6L1212 130.2L1211.9 133.9L1213.5 137.7M1131.5 236.5L1129.2 242.5L1127.6 245.5L1125.6 242.4L1125.2 239.6L1127.4 235.9L1130.4 233.1L1132.1 234.2L1131.5 236.5M1088.6 257.9L1085.3 259.7L1082.3 258.5L1082.2 255.3L1084 253.6L1088.1 252.5L1090.3 252.6L1091.1 254L1089.4 255.7L1088.6 257.9M366.4 241L369.7 241.2L372.6 241.3L376.1 242.5L377.6 243.9L381.1 243.5L382.5 244.4L385.6 246.7L388 248.4L389.2 248.3L391.4 249.1L391.2 250.1L393.9 250.3L396.8 251.9L396.3 252.7L393.8 253.2L391.3 253.4L388.7 253.1L383.3 253.4L385.8 251.4L384.3 250.4L381.9 250.1L380.6 249.1L379.7 246.9L377.6 247.1L374.1 246.1L373 245.3L368.1 244.7L366.8 244L368.2 243L364.5 242.8L361.8 244.8L360.3 244.9L359.7 245.8L357.9 246.2L356.3 245.8L358.2 244.7L359.1 243.3L360.8 242.5L362.7 241.7L365.5 241.4L366.4 241M406 254L406.5 253.4L409.4 253.4L411.6 254.3L412.6 254.2L413.3 255.6L415.3 255.5L415.2 256.6L416.9 256.7L418.7 258.1L417.3 259.6L415.6 258.8L413.8 259L412.6 258.8L411.9 259.5L410.5 259.7L409.9 258.8L408.7 259.4L407.2 261.9L406.2 261.3L406 260.3L403.5 259.6L401.8 259.8L399.5 259.6L397.7 260.3L395.7 259.1L396 257.9L399.5 258.4L402.3 258.7L403.7 257.9L402 256.3L402 254.9L399.6 254.3L400.5 253.2L402.7 253.4L406 254M384 258.6L386.6 258.9L388.5 259.8L389.2 260.8L386.6 260.9L385.4 261.5L383.3 260.9L381.2 259.5L381.6 258.7L383.2 258.5L384 258.6M426.4 258.5L428.3 258.8L429 259.5L428 260.5L425.2 260.5L423 260.6L422.8 259L423.3 258.5L426.4 258.5M443.6 287.5L445.8 287L446.5 287.2L446.4 290L443.3 290.4L442.6 290L443.7 289L443.6 287.5M378.8 227.5L380.5 227.2L383 227.3L383.1 228.3L379 228.9L378.8 227.5M383.2 226.5L386.2 228.2L385.5 230.9L384.8 230.4L384.9 228.4L383.2 227.2L383.2 226.5M381.7 233.4L382.8 233.5L384.2 236.7L384.2 238.8L383.3 239L382.3 236.8L380.9 235.8L381.7 233.4M464.4 137.9L461.9 141.2L464.4 139.9L466.9 140.7L465.6 142L468.9 143.1L470.6 142.2L474.4 143.3L473.2 146.1L475.8 145.4L476.3 147.4L477.5 149.7L475.9 153L474.2 153.2L471.7 152.5L472.6 149.4L471.5 148.9L467.2 152.2L464.9 152L467.6 150.3L464 149.4L459.9 149.6L452.7 149.5L452.1 148.4L454.4 147.1L452.8 146.1L456 143.8L459.8 137.8L462.1 135.7L465.4 134.4L467.1 134.5L466.4 135.6L464.4 137.9M433 141L434.3 140.7L439.2 141.6L443 143.2L443.1 143.8L441.3 143.9L436.5 142.8L433 141M434.9 151.6L436.2 153.4L438.9 153.9L442.4 153.8L440.5 155.4L439.2 155.6L434.4 154L433.5 152.8L434.9 151.6M211.8 146.1L209.9 146.6L203.7 144.9L202.6 143.6L199.3 142.3L198.6 141.2L194.7 140.5L193.3 138.5L193.6 137.6L197.6 138.4L199.8 139L203.4 139.4L204.6 140.7L206.5 142.5L210.3 144L211.8 146.1M175.5 124.9L177.3 125.4L180.9 125.1L179.8 129.3L183 132.3L181.5 132.3L179.3 130.6L177.9 128.9L176 127.7L175.3 126.1L175.5 124.9M100.4 110.6L102.9 110.9L104.5 112.1L101.2 113.8L97.5 115.3L95.5 114.3L95 112.6L98.4 111.2L100.4 110.6M31 88.9L33.3 89.6L35.7 89.2L38.7 90.2L42.4 90.7L42.1 91.1L39.3 91.9L36.4 91.1L35 90.4L31.7 90.6L30.8 90.3L31 88.9M50.7 101.6L53.7 102L54.1 103.4L51.8 104L49.3 103.3L47 102.3L50.7 101.6M733.1 184.6L731.7 187.6L732.3 188.7L731.5 190.6L728.6 189.2L726.7 188.8L721.5 186.9L722 185L726.4 185.4L730.2 184.9L733.1 184.6M709.4 173.4L711.7 176.1L711.1 181L709.4 180.8L707.9 182.1L706.5 181.1L706.3 176.6L705.5 174.4L707.5 174.6L709.4 173.4M710.7 169.9L709.5 172.8L707.8 172.1L706.9 169.5L707.7 168.1L710.1 166.7L710.7 169.9M763.7 194L765.8 195.3L768.7 195.1L771.5 195.4L771.4 196L773.4 195.6L773 196.7L767.6 197L767.6 196.4L763 195.7L763.7 194M797.6 196.2L797.9 196.1L798.4 195.2L801.1 195.3L804.5 194.2L802 195.8L802.2 196.5L802.3 196.8L798.5 198.3L796.7 197.8L795.8 196.3L797.6 196.2M721.3 117.6L722.5 119.5L720.2 122.5L716.3 120.4L715.7 118.9L721.3 117.6M1143.4 361.2L1143.9 360.3L1147.1 359.4L1149.7 359.3L1150.9 358.8L1152.3 359.3L1150.9 360.3L1147 362L1143.9 363L1141.4 365.8L1138.2 366.7L1137.8 366.2L1138.1 364.9L1139.7 362.7L1143.4 361.2M1116.9 358.2L1118.3 359.2L1120.6 358.9L1121.5 360.5L1117.2 361.2L1114.6 361.7L1112.6 361.7L1113.8 359.5L1115.9 359.5L1116.9 358.2M1129.8 359.8L1132.3 359.5L1135.7 358.2L1135.1 360.3L1129.5 361.3L1124.5 360.9L1124.5 359.5L1127.5 358.7L1129.8 359.8M1120.9 363.7L1124.4 362.9L1126.4 364.1L1127.7 365.2L1127.5 366.2L1125.9 366.3L1120.9 363.7M1154.5 319.7L1154.8 321.7L1157 322.1L1157.4 323.6L1157.2 326.9L1155.2 326.5L1154.7 328.8L1156.2 330.8L1155.2 331.2L1153.7 328.9L1152.5 324.1L1153.3 321.1L1154.5 319.7M1164 339.4L1165.4 342.3L1162.2 340.8L1159.1 340.4L1157 340.7L1154.4 340.6L1155.3 338.5L1159.9 338.3L1164 339.4M1150.5 342.1L1148 341.4L1147.2 339.8L1151 339.6L1152 340.8L1150.5 342.1M1242.1 349.7L1240.1 350.6L1238.2 351.5L1236.2 351.5L1233.1 350.4L1231 349.4L1231.3 348.2L1234.6 348.8L1236.7 348.5L1237.3 346.7L1237.8 346.6L1238.2 348.6L1240.3 348.3L1241.4 347L1243.5 345.7L1243 343.5L1245.3 343.4L1246 344L1246 346.1L1244.7 348.4L1242.7 348.7L1242.1 349.7M1239.7 338.1L1240.8 337.2L1242.8 338.3L1244.1 339.1L1245.7 340L1247.2 341.6L1248.6 342.8L1249 344.7L1247.9 345.7L1247.2 343.5L1246.3 342.1L1244.6 340.8L1242.4 339.2L1239.7 338.1M1255.1 347.9L1256.2 348.7L1258.1 351.1L1259.8 352.4L1259.3 353.4L1258.3 353.8L1256.7 352.4L1255 350L1254.2 347.1L1254.7 346.7L1255.1 347.9M1261.8 352.6L1264 354.2L1265.5 355.4L1264.8 355.6L1263.1 354.8L1261.6 353.2L1261.8 352.6M1273.4 357.9L1274.3 359.1L1274.5 359.8L1271.5 358.2L1269.5 356.9L1268 355.7L1268.6 355.3L1270.3 356.2L1273.4 357.9M1277.9 364.8L1276.5 364.9L1274.2 364.5L1273.4 364L1273.6 362.5L1276.1 363.1L1277.3 363.9L1277.9 364.8M1281.1 363.8L1280.5 364.5L1277.7 361.3L1276.9 359L1278.2 359L1279.6 362L1281.1 363.8M1282.7 367.1L1283.8 368.4L1281.1 368.4L1279.7 366.1L1282 367L1282.7 367.1M1301.8 387.4L1304.2 389.6L1303 390L1301.7 388.4L1301.8 387.4M1300.2 386.6L1299.7 385.5L1299.6 382.7L1301.4 383.8L1302 386.8L1301 386.3L1300.2 386.6M1296.4 406.8L1299.5 409.2L1301.5 410.9L1300 411.8L1298 410.8L1295.3 409.1L1292.9 407.1L1290.4 404.4L1289.9 403.2L1291.5 403.2L1293.6 404.5L1295.2 405.8L1296.4 406.8M1343.6 392.8L1344.9 393.9L1344.3 395.9L1342 396.4L1339.9 395.9L1339.6 394.2L1341 393L1342.7 393.4L1343.6 392.8M91.7 256.4L91.1 257L90.2 256.4L90.3 255.4L89.7 254L89.9 253.6L90.5 253L90.3 252.3L90.5 251.9L92.2 252.6L93.5 253.4L94.4 254.7L92.9 255.8L91.7 256.4M89.7 250.5L88.4 250.8L87.3 249.4L89 249.5L90 250.1L89.7 250.5M83.8 248L82.4 248.3L81.5 247.1L82.4 246.5L83.6 248.2L83.8 248M77.4 245.5L75.7 245.2L75.9 244.9L76.5 244.5L77.3 244.6L77.4 245.5M87.1 248.5L85 248.8L85.3 248.3L87.1 248.5M933.3 510.1L935.7 511.2L939.3 511.7L939.4 512.4L938.4 514.1L932.6 514.4L932.5 512.3L933.1 510.8L933.3 510.1M731.6 29.3L733.1 28L738.6 27.9L743.3 29.2L755.6 32L746.2 33.5L744.1 36.2L740.8 36.9L739.1 40.1L734.5 40.2L726.5 37.9L729.9 36.6L724.3 35.5L716.9 32.3L714 29.4L724.3 28.1L726.3 29.4L731.6 29.3M777.6 27.9L772.1 29.9L761.2 30.3L750.2 29.7L749.5 28.7L744.1 28.6L740 26.9L751.6 25.9L757 26.8L760.8 25.6L770.3 26.6L777.6 27.9M767.6 36.2L759.2 37.7L752.6 36.8L755.2 35.8L752.9 34.7L760.7 33.9L762.2 35.3L767.6 36.2M867.8 58L871.6 57.2L871.5 55.2L878.9 52L875.5 51.5L884.5 48.2L883.4 46.5L891.8 44.6L904.2 42.2L916.7 41.4L923.1 40.1L930.4 39.6L933 41.1L930.5 42.2L917.2 44.1L905.8 45.9L894.1 49.4L888.5 53.1L882.7 56.7L883.4 59.8L890.6 62.9L888.4 63.2L876.1 62.7L875.1 61L868.3 60.1L867.8 58M1049.6 32.3L1041.4 32.7L1030.9 31.7L1024.7 30.2L1021.9 27.6L1016.7 26.8L1026.5 24.3L1034.6 23.4L1041.9 25.3L1050.5 28.9L1049.6 32.3M1068.8 34.4L1047.7 35.9L1054.5 31L1057.6 30.5L1060.5 30.8L1069.9 32.9L1068.8 34.4M1195.4 42.6L1205.3 42.8L1218.9 44.7L1215.9 47.5L1202.1 47.4L1195.9 48.3L1188.4 45.9L1190.4 43.3L1195.4 42.6M1223.6 45L1230.6 45.5L1240 46.5L1235.7 48L1229.7 47.7L1222.7 46.2L1223.6 45M1199.2 52.9L1202.8 51.4L1207.5 51.1L1212.8 52.5L1213.3 53.5L1207.6 53.5L1199.9 53.1L1199.2 52.9M1349.7 59.9L1345 61.4L1345.6 62.6L1349.7 62.5M0 59.9L9.1 60.8L8.8 61.3L4.9 62.2L0 62.5M850.3 25.2L856 25.2L856.8 26.2L859 25.3L862.5 24.7L868 25.5L866.6 26L861.6 26.5L858.2 26.8L857.7 27.4L853.3 28.1L849.2 27.2L851.4 26L843 25.9L850.3 25.2M350.3 53.7L353.3 56.1L356.7 53.1L366.2 51.5L372.7 55.4L372.1 57.9L379.5 56.8L383.1 55.3L391.4 57.2L396.6 58.9L397.1 60.6L404 59.7L407.9 62.1L417 63.6L420.3 65.1L423.8 68.6L416.9 70.4L425.7 72.8L431.7 73.6L437.1 77.1L443 77.3L441.8 80L435.2 84.3L430.6 82.7L424.7 79.1L419.8 79.6L419.4 81.7L423.3 83.9L428.4 85.6L430 86.6L432.4 90.3L431.1 93L426.4 92L417 89L422.3 92.2L426.2 94.5L426.8 95.8L416.6 94.3L408.6 92.1L404 90.3L405.3 89.3L399.7 87.3L394.3 85.5L394.4 86.6L383.5 87.2L380.3 85.9L382.8 83.1L389.9 83.1L397.6 82.6L396.3 81.3L397.7 79.4L402.5 75.8L401.4 74.1L400 72.8L394.3 71L386.7 69.7L389.1 68.8L385.1 66.4L381.8 66.2L378.8 64.9L376.8 66.1L370 66.5L356.4 65.7L348.5 64.6L342.4 64L339.3 62.7L343.2 61L337.8 61L336.6 57.2L339.5 53.8L343.4 52.3L353.1 51.3L350.3 53.7M246.8 53.9L244.9 55.6L253.3 54.5L258.5 56.4L262.8 54.5L266.2 55.7L269.2 59.4L271.1 57.8L268.4 54L271.7 53.4L275.5 54L279.7 55.6L282.1 59.2L283.2 61.9L289.5 63.7L296.3 65.5L295.9 67.1L289.7 67.4L292.1 68.9L290.8 70.3L284 69.7L277.6 68.6L273.2 68.9L266.2 70.1L256.7 70.7L250 71L248 69.3L242.9 68.3L239.5 68.7L234.9 65.7L237.4 65.3L243.2 64.7L248.5 64.9L253.4 64.2L246.1 63.3L238.1 63.6L232.8 63.5L230.8 62.2L239.5 60.7L233.7 60.7L227.2 59.7L230.4 56.9L232.9 55.4L243 53.2L246.8 53.9M219.2 48.9L224.5 49.7L234.1 49.9L237.8 51L241.8 52.5L237.1 53.5L227.9 56.1L223.2 58.8L223.2 60.4L213.4 62.2L211.4 60.5L202.7 58.6L204.3 57L206.9 54.3L210.2 51.8L206.5 49.5L219.2 48.9M233.5 46L238.6 42.3L242.2 41.3L252.7 42.6L259.4 44.8L265.9 45.1L260.6 41.5L264 40.1L267.9 40.5L269.2 42.3L270.6 43.7L274 43.1L277.9 43.2L278.6 45L276.3 46.8L263.6 47.4L254.1 49L248.4 49.1L247.9 47.9L255.7 46.2L238.8 46.7L233.5 46M225.3 42.9L219.3 43.5L214.2 42.6L220.6 39.9L228.3 37.4L234.1 37.5L239.2 36.9L238.7 39.8L235.8 41.1L232.3 41.3L225.3 42.9M305.6 40.4L308.4 42.1L308.6 44.1L306.8 46.8L300.7 47.2L296.6 46.6L296.7 44.4L290.6 44.7L290.3 41.8L294.4 41.9L300 40.7L305.3 40.9L305.6 40.4M323.9 46.9L321.8 48.4L316.4 48.1L311.9 47.1L313.9 45.4L319.3 44.4L322.5 45.7L323.9 46.9M298.6 51.2L303.1 52L309.8 51.5L310.7 52.6L307.3 54.4L312.9 56L312.2 59.4L306.1 60.8L302.5 60.5L299.9 59.1L290.6 56.2L290.6 55L298.3 55.4L294.2 53L298.6 51.2M325.4 55.2L321.4 58L317.2 57.9L314.8 54.6L314.9 52.7L316.8 51.1L320.6 50.1L328.4 50.2L335.5 51.1L329.9 54.4L325.4 55.2M316.3 68.9L313.9 70.2L308.9 69.1L305.8 69.5L300.7 67.8L304 66.7L306.6 65L310.6 66.1L312.8 66.8L314 67.5L316.3 68.9M375.7 47.1L367.6 48.9L362.8 48.5L352.1 49L344.4 49.1L338.3 48.6L328.4 47.4L327.1 45.4L326.6 43.5L322.9 41.9L315.1 41.4L310.7 40.3L312.1 38.7L319.9 39L324.1 40.2L331.4 40.2L334.7 41.4L333.8 42.8L338.1 43.7L340.5 44.6L345.5 44.7L351 45L357 44.2L364.6 43.9L370.7 44.2L374.7 45.6L375.7 47.1M348.6 29.4L353.1 30.6L348 31.7L341 34.5L334.4 34.8L326.6 34.3L322.6 32.8L322.7 31.4L325.6 30.4L318.8 30.5L314.6 29.2L312.3 27.5L314.9 25.9L317.5 24.7L321.3 24.4L319.7 23.6L328.4 23.4L333.2 25.4L339.5 26.2L345.6 26.9L348.6 29.4M418 16.4L428.1 16.7L436.1 17.2L443 18.2L442.8 19.3L433.7 20.9L424.6 21.6L421.2 22.5L429.4 22.4L420.5 24.7L414.4 25.8L408 28.9L400.3 29.5L397.9 30.2L386.5 30.6L391.7 31.1L389.1 31.8L392.2 33.6L388.7 34.9L382.8 36L381.1 37.4L375.8 38.6L376.4 39.4L382.8 39.3L382.8 40.2L372.8 42.4L363 41.4L352 42L346.4 41.5L339.3 41.3L338.9 39.5L345.8 38.7L344 36L346.2 35.7L356.3 37.3L351.2 34.9L345.1 34.2L348.1 32.7L354.8 31.8L355.8 30.5L350.5 29.1L348.9 27.2L359.2 27.3L362.1 27.7L368 26.4L359.6 25.9L346.4 26.2L339.8 24.9L336.7 23.4L332.3 22.3L331.5 21L337.1 20.3L341.4 20.2L348.8 19.6L354.3 18.2L359 18.4L363 19.4L365.9 17.4L370.8 16.8L377.5 16.4L389 16.2L391 16.6L401.8 16L409.9 16.2L418 16.4M355.6 81.8L356.3 83.5L358.2 82.9L360.4 83.9L364.5 85.2L368.8 86.3L369.1 88.1L371.9 87.8L374.6 89.1L371.2 90.3L365.4 89.4L363.3 87.7L359.6 89.7L354.2 91.6L352.9 89.4L347.9 89.8L351.1 87.9L351.6 85L352.9 81.5L355.6 81.8M388.7 54L389 55L385 54.9L381 54.8L376.8 55.3L375.8 55.1L371.6 53.1L371.8 51.7L373.6 51.5L382.2 51.9L388.7 54M299.7 34.4L301.2 35.9L295.1 35.5L288.9 34.3L280.5 34.2L284.2 33L279.6 32.1L279.4 30.7L286.7 31.2L296.8 32.6L299.7 34.4M323 37.4L321.3 37.5L314.3 37.2L313.3 36.2L320.9 36.3L323.5 37L323 37.4M305.1 32.3L309.9 32.5L312.1 32.7L316.6 34L315.6 35.4L310 36.2L307 35.3L305.4 33.9L305.1 32.3M258.9 32.6L263.7 33.3L259.2 34.1L252.9 34.1L253 33.5L256.8 32.4L258.9 32.6M257.7 35L263 35.6L261.7 36.7L254.8 37.8L249.2 36.6L252.3 35.4L257.7 35M362.7 92.1L367.9 92.2L367.8 92.9L363.4 94.9L360.8 94.9L360 93.9L362.7 92.1M375.8 94L377.7 94.9L376.2 96.9L374.6 96.6L373.6 95.5L375.8 94M390.4 76.2L386.2 76.4L385.3 74.6L386.9 72.5L390.3 72L393.3 73L393.3 74.6L392.9 75.2L390.4 76.2M367.8 128.9L371.2 129.8L373.8 129.3L370.1 128.1L367.8 128.9M0 645.2L3.5 643.1L10.3 644.3L25.9 643L37.7 642.1L48.7 644.7L59.3 645.7L67.7 646.9L82.2 647.7L93 646.7L109 647.5L118 648.6L127.9 647.5L138.3 646.5L139.1 644.7L124.4 644.6L112.3 643.7L109.1 642.2L99 641.4L99.7 639.7L101.1 638.2L102.5 636.8L101.8 635.2L95.5 634.2L92.6 632.9L86.8 631.7L95.9 631.9L104.6 631.3L110 632.6L116.7 631.5L122.9 630.1L125.9 628.9L124.6 627.3L119.8 626.3L114.2 625.2L106.5 625L99.8 624.5L92.5 624.1L90.1 622.7L85.2 621.5L82.3 620.2L81.1 615.9L82.9 616.3L86.3 617.5L92.5 617.1L98.5 616.6L101.5 618.2L107.5 617.9L112.5 617L117.2 616L121.4 614.8L127.1 614.4L127 613L125.6 611.6L126.7 610.3L131.6 609.6L133.8 610.9L139.5 610.1L143.8 609.2L149.2 609.1L154.2 608.8L159.3 607.9L163.4 607.1L167.9 606.2L170.9 606.5L173.4 606.8L179 606.2L184 606.9L189.2 606.8L194.1 606.3L199.1 606.7L204.7 607.1L209.9 606.9L215.4 607L220.9 607.1L226.1 606.9L229.9 605.8L234.4 605.2L239.1 606L243.6 605.4L247.7 604L250.1 605.2L251.4 606.5L253.8 607.8L257.7 606.7L262.2 608.1L267.3 608.5L271.6 609.5L276.9 609.4L281.6 608.7L287.3 608.8L292.4 609.4L297.5 610L299.5 608.4L297.1 607.1L295.3 605.8L290.4 605.5L288.3 604.1L287.5 602.7L286.1 599.9L289 600.4L293.9 600.7L298.8 600.4L303.2 601L307 602.2L308.6 603.5L313.7 603.7L318.5 603.2L323.7 602.4L328.3 602L332.1 602.9L337.1 602.6L340.3 599.7L343.4 601.4L347.7 602.1L352.4 601.7L355.5 603.2L360.4 603.3L364.9 603.8L369.4 604.6L372.3 603.2L373.8 601.9L377.6 603.3L382.7 602.9L386.5 603.8L389.1 605L394.1 604.6L398 603.8L401.8 602.9L406.3 602.3L411.6 601.9L416.4 601.4L420.1 600.6L422.3 599.4L423.2 597.8L422.7 596.3L421.6 594.8L420.2 593.3L419.1 591.9L418.1 590.5L417.9 589.1L418.2 587.6L420 586.2L421.5 584.7L422.1 583.2L421.3 581.6L420.9 580.1L422.7 578.4L424.8 577.3L427.2 576L429.8 574.8L432.8 573.6L434.2 572L436.3 571L438.7 570L442.3 569.8L444.6 568.7L447.3 567.9L450.3 567.5L453.1 566.5L455.2 565.4L458.1 564.9L460.3 565.9L458.9 567.1L455.1 568.2L453.5 569L450.7 568.4L447.6 568.8L445 569.7L442.3 570.6L440.5 571.7L440 573.2L440.2 574.6L442 575.9L439.4 576.8L435.9 577L433.8 578.3L431.6 579.5L429.3 581.1L428.7 582.4L430 584L432 585.2L435.1 586L437.9 587.2L439.5 588.7L440.3 590.1L441.4 591.6L443.1 592.8L444.3 594.2L444.7 597.7L445.9 599L446.2 600.5L447.3 602L446.8 604L444.7 605.5L442.6 606.8L437.5 607.3L435.9 608.6L433.6 609.8L427.9 611.3L423 611.8L418.2 612.6L413.2 613.4L410.2 615L404.1 615.1L397.5 615L391.6 615.3L385.3 615.3L386.4 616.7L392.2 617.4L396.4 618.5L398.7 619.8L394.5 620.9L388.1 620.6L382.7 621.5L382.4 624.5L386.7 625.8L387.6 627.2L392.3 628.6L400.3 629.2L407 630.2L412.4 631.3L419.2 632.5L428.5 633.1L437.7 634.2L444.1 635.2L451.1 636.5L454.8 638.3L456.6 639.7L461.1 638.4L467.3 637.2L473.8 636.1L481.6 635.1L488.3 634.1L497.6 634L506.8 634.5L514.4 635.4L516.8 633.8L522 632.7L531.5 632.6L538.9 631.8L545.9 631L553.7 630.5L562 629.8L567.8 628.9L565.2 627.6L563.6 626.2L563.6 624.8L556.3 625L548.6 625.6L541.2 625.6L540.2 624.2L540.7 621.4L542.4 620.6L547.8 619.7L554.1 618.8L563.2 616.6L566.6 615.1L571.7 614.5L576.8 614L579.4 613.7L585.2 613.5L590.7 613L595.3 612.3L599.8 611.4L604 610.5L609.2 609.4L612.5 608.1L616 607L617.1 605.5L613.1 604.6L614.5 603.1L616.9 601.9L620.8 601.2L625 600.3L628.8 599.1L631.7 597.7L633.6 595.9L636.3 594.9L640.8 595.1L642.6 596.3L647.1 596.5L647.2 595.1L649.1 593.6L653.2 594L654.1 595.4L658.6 595.6L663.4 595L668.1 594.5L672.4 594.7L674 596.3L678.1 595L682 594.4L686.2 593.8L690.4 593.3L694.2 592.5L698.4 591.9L701.6 591.1L703.9 589.7L706.7 590.7L710.6 590.2L713.3 591.9L715.4 593.2L719.7 592.5L721.4 591.1L725.2 590L730.1 590.2L731.6 591.6L734.7 590.2L738.7 589.8L743.1 589.6L747.1 589.7L751.3 590.2L755.3 590.4L757.1 591.6L759.5 592.8L763.6 592.1L768 591.9L772.3 591.9L776.4 591.9L780.2 591.3L784.2 590.9L787.5 589.9L791 589.2L794.8 588.9L797.7 587.8L799.7 585.8L801.9 584.5L805.8 585.1L807.2 586.4L810.4 587.3L814.3 587L817 588.3L819.8 589.3L823.6 588.4L824.9 586.8L828.3 586.1L832.2 584.9L840.3 583.6L849.2 581.1L852.7 581.6L858.6 579.2L862.1 579.3L865.1 578.4L865.9 577.1L869 576.1L872.1 575.3L875.9 574.8L879.3 574.5L882.6 574.7L886.2 575L889.2 576.1L889.6 577.7L892.9 578.9L895.1 580L899.6 580.4L902.1 581.4L905.2 582.4L908.8 582.7L911.8 582L915 580.4L918.5 581.2L922.2 581.7L925.7 582.1L929.4 582.4L933.2 582.4L936.2 586.3L936.1 587.2L935.7 588.9L932.1 589.9L929.1 591.3L929.6 592.8L933.8 592.7L933.3 594.1L931.4 595.5L929.6 597.1L932.5 598.3L936.8 598.6L941.1 598L943.2 596.5L944.5 595.1L946.5 593.9L948.9 592.8L949.8 591.5L951.8 589.6L954.2 589.3L958.4 589.2L962.2 588.7L966 588.1L967.8 586.6L968.9 585.3L971.5 583.9L975.2 582.9L978.3 582.2L980.4 580.9L982.5 580.3L985.2 579.7L989 580.1L992.4 579.7L996 579.2L1000.1 579.5L1002.9 578.4L1004.8 575.9L1006.2 576.9L1007.9 578.7L1011.1 579.5L1014.7 579.8L1018.3 579.3L1022.1 579.6L1025.6 579.7L1028 579.3L1031.1 579.5L1034 580.4L1037.4 579.8L1041.4 579.8L1044.9 579.3L1048.8 579.8L1051.2 578.6L1053.1 577.3L1055.7 576.3L1060.4 573.5L1062.9 574L1065.7 575L1068.2 576.4L1073 578.6L1076.6 578.7L1080.1 578.7L1084.1 578.3L1088.2 577.8L1091.3 576.8L1093.8 575.6L1098 575.5L1100.8 574.7L1103.8 575.4L1105.7 576.6L1108.3 577.8L1112.4 577.6L1115 578.6L1119.5 579.5L1124.2 579.9L1128.1 579.6L1131 578.4L1133.5 577.2L1136.9 576.9L1140.2 577.5L1144.1 577.8L1147.7 577.2L1151 577.2L1154.3 577.6L1157.8 578L1161.2 577.3L1165.2 576.8L1169 576.6L1173.3 576.6L1176.8 576.2L1180.1 575.9L1181.1 574.1L1181.3 572.6L1183.7 573.6L1184.3 575.3L1185.6 576.8L1187.1 578.1L1190.3 578.7L1194.5 578.5L1199.4 578.4L1202.8 578.2L1207.7 578.2L1211.2 578.1L1216.2 578.3L1220.4 578.6L1223 579.8L1222.3 581.1L1224.7 582.3L1228.7 583.1L1232.9 584.1L1237.8 584.7L1242.8 585.3L1246.6 585.9L1250.9 586L1253.3 584.7L1256.7 585.8L1259.5 586.9L1262.8 587.8L1267.4 588.2L1271.7 588.6L1273.5 590.1L1277.8 591L1280.6 592.3L1284.8 592.9L1289.2 592.8L1293.2 593.1L1297.7 593L1302.2 593.2L1306.4 593.8L1310.2 594.7L1314.1 595.4L1316.8 596.5L1316.3 598L1314.4 599.3L1312.7 601L1311.4 602.3L1309.6 603.8L1304.7 604.4L1302.5 605.8L1297.6 606.5L1295.9 608L1293.4 609.4L1290.6 610.6L1289.1 612.1L1288.1 613.5L1287.8 615.2L1287.8 616.6L1290 618.1L1290.8 619.5L1292.5 620.8L1299.5 621.3L1301 622.9L1294.2 623.5L1288.5 624.3L1281.4 624.5L1278.2 626.6L1277.6 628.3L1274 631.2L1279 632.4L1280.9 635.1L1284.1 635.3L1288.7 636.6L1293.9 637.8L1299.5 638.9L1308.1 640.1L1310 641.9L1320.8 642.7L1324.3 644.1L1334.7 643.2L1343.3 644.3L1349.7 645.2M418.2 593.7L418.7 595.4L418 596.9L417 598.3L412.6 598.8L408.4 599.5L403.5 599.4L405.3 598L396.7 599L393.9 597.9L393.6 596.3L397.7 594.9L400.3 594.4L404.7 594.6L405.7 592.7L406 591.3L405.9 588.3L408 586.5L411.5 585.9L413.5 587.3L414.3 588.7L415.9 590.4L417.2 592L418.2 593.7M291.2 597.2L293.6 596.6L298.3 597.1L303.8 597.4L307.9 597.9L312 597.4L314.2 599.6L311.3 599.3L306.7 599.4L302.1 599.3L297 599.5L293.2 598.8L291.2 597.2M512.4 627.7L506.6 628.9L500.5 629.8L493.4 630.7L485.6 631.5L476.7 631.2L471.8 630L472.4 628.4L480.5 627.4L483.7 626.1L486.1 624.5L487.7 623.1L490 621.8L492.4 620.3L494.3 620.3L499.9 619.5L505.6 620.3L510.2 621.9L511.8 624.2L512.3 625.8L512.4 627.7M61.1 622.4L63.3 620.9L70.3 621.5L74 622.7L76.9 624L77.9 625.7L70.7 626.2L65.8 624.9L63.6 623.6L61.1 622.4M200.4 602.3L204.1 603.2L209.8 604.6L207.6 604.5L202.8 604.1L197.7 603.1L200.4 602.3M215.1 603.8L215.9 602.6L220.4 603.2L225.3 603.8L229.8 603.2L227.6 604.5L224.1 605.5L218.9 605.2L215.1 603.8" fill="none" stroke="#000" stroke-width="4.17" stroke-linejoin="round" stroke-linecap="round"/>
</defs>
<text transform="translate(258.85,108.30) scale(1.0513,1)" font-size="53.0">Combined (GIM), 2008-03-19 08:00 UT</text>
<g transform="translate(78.5,132.5)"><g clip-path="url(#mc)">
<rect width="1331.0" height="655.7" fill="#00009f"/><path fill="#00009f" stroke="#00009f" stroke-width="0.7" d="M462.3 72L477 71.3L489 72L513 75.8L519 77.3L522 78.7L525.1 81L531.4 87L534 90L536.9 96L537.3 99L537 101.8L535.9 105L534 108.7L530.1 114L522 120.2L516.6 123L510 125.3L495 131.4L469.9 138L457.1 141L450 142.2L402 148L390 149L348 150.5L327 150.4L276 144.2L261 141.3L225 132.1L199.9 123L165 107.7L160.1 105L151.1 99L147.2 96L145.2 93L145.9 90L150 87.8L152 87L165.7 84L177 83.2L210 82.5L222 83.7L249 87.5L273 90.1L300 97L315 99.6L324 100L345 98.2L354 98L366 96.7L375 94.7L408 86.2L444 74.8L453 73.1ZM149.7 573L156 571.8L168 571.2L201 571.3L246 574.5L312 580.1L345 581.2L369 584.6L397.9 588L405 589.5L409.1 591L414.1 594L417.3 597L418.9 600L419.6 603L418.3 606L417 606.7L411 608L387 609.5L375 610.8L339 616.3L324 617.9L312 619.8L303 622L276 630.7L255 634.3L237 636.6L222 637.8L186 638.9L171 638.4L156 636.2L142.3 633L135.1 630L131.2 627L128.7 624L128.1 621L129.3 618L132.6 615L138 610.9L141 607.6L144 601.1L144.7 597L143.5 594L141 592.1L138 591L128.9 591L126.6 588L127.3 585L129.7 582L134.9 579L140.8 576Z"/>
<path fill="#0000df" stroke="#0000df" stroke-width="0.7" d="M148.1 36L210 34.7L411 37.2L495 41.3L507 41.7L519 41.4L531 42.1L558 45.8L582 50.1L594 53.1L606 57.3L623 66L627.5 69L630 71.4L632.3 75L633.6 78L634.5 84L634.3 87L632.5 93L629.7 99L620.6 111L614.5 117L612 120L609 122.6L603 126.5L600.4 129L597 131.5L591 135.4L588 138.1L579 143L573 146.8L567 149.4L561 152.9L555 154.9L549 157.9L540 160.7L534 163.3L519 167.8L501 170.6L471 176.4L456 178.7L423 182.7L408 183.9L372 185L360 185L351 184.3L291 177.8L279 175.9L243 169.2L234.5 168L225 167.2L216 165.6L192 159L123 142.8L60 124.6L9 111.7L3 109.6L0 108L0 46.5L6 44.8L12 44.1L93 37.8ZM465 71.8L456 72.7L447 74.1L441 75.7L408 86.2L390 90.9L369 96.1L354 98L345 98.2L324 100L315 99.6L300 97L273 90.1L249 87.5L222 83.7L210 82.5L177 83.2L165.7 84L152 87L150 87.8L145.9 90L145.2 93L147.2 96L151.1 99L160.1 105L165 107.7L199.9 123L225 132.1L261 141.3L276 144.2L327 150.4L348 150.5L390 149L402 148L450 142.2L457.1 141L469.9 138L495 131.4L510 125.3L516.6 123L522 120.2L530.1 114L534 108.7L535.9 105L537 101.8L537.3 99L536.9 96L534 90L531.4 87L525.1 81L522 78.7L519 77.3L513 75.8L489 72L477 71.3ZM1330.1 48L1331 47.2L1331 87.3L1326.9 81L1324.1 75L1322.4 69L1321.6 63L1321.6 60L1322.3 57L1323 55.7L1326 51.9ZM80.8 531L96 529.4L105 528.9L138 528.8L156 529.3L204 533.4L312 546.4L351 549.2L366 549.8L408 550L423 549.4L465 546.4L510 540.7L522 539.8L546 540.2L558 541.4L564 542.7L570 544.6L594 555.2L608.1 564L620.3 573L627 578.6L630 582L631.9 585L635.1 591L637.5 597L639.9 606L641.1 618L642 621.2L645 626.5L648 630L651 632.3L657.2 636L663 638.6L666 639.4L669 639.4L669.9 639L675 634.7L678 633.5L684 632.9L690 632.8L771 641.5L801 643.5L822 644.1L843 646.2L867 647.9L972 650.2L993 649.9L1080 646.8L1164 641.5L1176 640.3L1197 636.4L1215 633.6L1227 630.9L1251 624.7L1266 619.5L1302 604.8L1311 601L1331 591.3L1331 655.7L0 655.7L0 567.4L7.5 558L15 549.7L19.7 546L25.7 543L39 537.9L45 536.1L54 534.5ZM150 572.9L140.8 576L134.9 579L129.7 582L127.3 585L126.6 588L128.9 591L138 591L141 592.1L143.5 594L144.7 597L144 601.1L141 607.6L138 610.9L132.6 615L129.3 618L128.1 621L128.7 624L131.2 627L135.1 630L142.3 633L156 636.2L171 638.4L186 638.9L222 637.8L237 636.6L255 634.3L276 630.7L303 622L312 619.8L324 617.9L339 616.3L375 610.8L387 609.5L411 608L417 606.7L418.3 606L419.6 603L418.9 600L417.3 597L414.1 594L409.1 591L405 589.5L397.9 588L369 584.6L345 581.2L312 580.1L246 574.5L201 571.3L168 571.2L156 571.8Z"/>
<path fill="#000cff" stroke="#000cff" stroke-width="0.7" d="M0 0L1331 0L1331 47.2L1324.1 54L1322.3 57L1321.6 60L1321.6 63L1322.4 69L1324.1 75L1326.9 81L1331 87.3L1331 147.2L1317 138.3L1308 133.7L1276.7 120L1238.5 102L1226.7 96L1201.5 81L1173 62.3L1164 57.7L1155 55.4L1134 52.4L1118.5 48L1113 45.9L1104 43.8L1098 41.8L1086 39.1L1077 37.7L1071 36.3L1056 34L1041 32.6L1011 31.3L963 31.1L942 32.3L927 34.4L921 34.9L909 37.9L870 45.7L843 52.4L822 58.5L810 62.4L798 67.1L786 72.5L771 80.3L750 92.4L688.8 129L660.9 144L627 161.3L604 174L597 178.3L590.4 183L583.2 189L577.7 195L575.9 198L573.3 204L571.4 210L570.5 216L571.6 234L572.8 243L572.8 249L573.8 255L574.2 264L575.2 270L575.1 276L576 285L576.5 300L576.3 309L570.3 366L562.8 408L561.7 417L561.2 426L561.6 435L563.3 441L567 447.7L572.7 456L587.9 474L602.7 489L616.7 504L624 510L627 511.2L642 515.3L657 518L663 518.1L669 519.1L672 518.8L678 516.8L681 516.4L687 516.1L696 516.3L708 517.7L723 520.1L732 522.5L736.7 525L740.9 528L747 533.8L749.4 537L752.2 543L755.4 561L758.2 570L761.3 576L763.3 579L768.9 585L772.6 588L777.2 591L795.4 600L812.5 606L822 610.1L828 611.1L834 612.7L840 613.5L864 618.3L882 620.5L921 623L951 623.8L966 623.6L1008 620.5L1050 615.2L1068.3 612L1116 602L1122 601.3L1134 600.9L1137.1 600L1142.2 597L1155 587L1158 584.9L1164.1 582L1182 574.8L1209.1 567L1229.6 558L1254.5 546L1263 541.2L1282 528L1300.5 516L1323 502.4L1331 498L1331 591.3L1311 601L1266 619.5L1254 623.7L1218 633L1176 640.3L1161 641.8L1083 646.6L990 650L963 650.1L879 648.4L864 647.7L843 646.2L822 644.1L801 643.5L771 641.5L690 632.8L684 632.9L678 633.5L675 634.7L672 637.4L669 639.4L664.1 639L657.2 636L651 632.3L648 630L645 626.5L642 621.2L641.1 618L639.9 606L638.5 600L636.4 594L633.6 588L630 582L627.4 579L624.1 576L603.7 561L591 553.7L576 547L567 543.6L561 542L552 540.6L531 539.7L516 540.2L465 546.4L417 549.8L405 550L366 549.8L351 549.2L312 546.4L207 533.7L165 530L141 528.8L102 529L87 530.3L51 534.9L42 536.9L33.2 540L21 545.3L15.8 549L7.5 558L0 567.4L0 498.7L6 498.1L60 495.7L99 492.6L111 490.9L135 486.8L147 485.4L156 485.5L162 486.5L174 489.3L177 489.4L180 488.9L183 487.8L189 484.7L195 483.2L198 483.3L201 485.3L204.7 489L209.1 492L213 493.7L217.8 495L222 495.4L228 495.2L246 492.8L255 494.7L264 494.7L267 494.3L274.7 492L281.8 489L285 486.2L288 484.5L294 485.1L309 483.1L312 482.1L315 481.7L324 481L339 478.7L357 477.7L366 478.4L375 480.3L384 483.6L387 485.3L390 490.9L391.5 498L393.6 504L395.3 507L398.6 510L402 510.9L408 511.8L426 512.3L432 511.9L441 509.8L456 504.2L462 501.1L466.1 498L472.2 492L474.3 489L475.6 486L476.2 483L475.9 480L474 477L469.7 474L465 472.4L450 469.9L444 468.4L435 465.4L427.7 462L423.3 459L420 456.2L405 441.2L396 434.5L390 430.9L384 428.5L372 426.1L369 425.1L366 423.2L363 419.7L362.1 417L361.6 414L361.9 411L363 407.6L366 400.8L367.2 399L369 397.1L374.1 393L382.4 384L391.5 360L393.8 351L394.4 345L394.1 339L392.7 330L389 318L386.6 312L384 307.3L381 303.7L373.5 297L367.5 291L365.3 288L364.8 285L366 282L375 276L376.5 273L376.9 270L376.3 267L375 264L372 260.8L368.4 258L363.4 255L351 250.1L336 247.3L330 246.8L324 245L318 243.8L312 243.2L306 243.4L276 247.2L270 246.8L267 246L258 241.5L237 227.8L213 215.6L198 206.6L186 200.5L180 198.1L174 196.2L165 194.2L132 190.2L120 188.3L75 178.3L54 172.8L0 155.5L0 108L3 109.6L9 111.7L60 124.6L123 142.8L192 159L216 165.6L225 167.2L234.5 168L243 169.2L279 175.9L291 177.8L351 184.3L366 185.1L405 184L423 182.7L462 177.9L474 175.9L501 170.6L519 167.8L534 163.3L540 160.7L549 157.9L555 154.9L561 152.9L567 149.4L573 146.8L579 143L588 138.1L591 135.4L600 129.3L603 126.5L608.5 123L612 120L614.5 117L620.6 111L629.7 99L633.6 90L634.5 84L633.6 78L632.3 75L630.5 72L627.5 69L621 64.9L611.9 60L605.3 57L594 53.1L579 49.6L546 44L531 42.1L522 41.5L507 41.7L495 41.3L414 37.3L204 34.7L96 37.6L12 44.1L6 44.8L0 46.5Z"/>
<path fill="#0044ff" stroke="#0044ff" stroke-width="0.7" d="M935.5 33L945 32L960 31.2L1005 31.2L1041 32.6L1056 34L1071 36.3L1077 37.7L1086 39.1L1098 41.8L1104 43.8L1113 45.9L1118.5 48L1134 52.4L1155 55.4L1164 57.7L1173 62.3L1201.5 81L1226.7 96L1238.5 102L1276.7 120L1308 133.7L1317 138.3L1331 147.2L1331 186.5L1312.2 174L1296 164.7L1281 158.5L1263 152.9L1254 151L1242 149.2L1206 146.2L1191 144.3L1179 141.9L1152 135L1128 131.2L1118.7 129L1083 123.5L1056 120.2L1047 119.8L1041 118.8L1035 118.7L1026 117.7L1020 117.9L1014 117.3L1005 117.6L999 117.1L993 117.4L984 117L963 117.1L951 116.7L942 115.6L936 115.9L927 115.3L921 115.7L909 114.1L900 114.3L876 116.1L858 118.2L843 120.5L813 126.8L789 133.8L777 138.6L726 163.5L705 172.8L699 174.6L693 175.8L690 175.9L687 175L681 171.9L678 171.7L669 174.3L660 178.9L656.3 180L654 181.1L642 188.3L635 195L633.1 198L632.1 207L627 219.9L625.4 228L624.9 234L625.5 249L625.4 255L623.7 267L622.2 273L619.1 282L608.8 306L606.6 315L604.8 327L604.2 336L604.2 351L604.5 363L606.1 393L604.3 417L605.1 423L606.4 426L608.8 429L612.4 432L624.7 441L636 447.8L645.4 453L666 463.4L696 475.1L726 485.2L735 487.3L759 494L783 499.6L821.9 507L831 510.4L835.2 513L838.1 516L840 519L841 522L841.2 525L840.8 528L840 531L835.1 543L833.6 549L833.4 552L834 556.2L835.8 561L837 562.9L840 566.1L843 568.4L846 570.4L852 573L863.8 576L876 577.6L921 581.1L942 580.9L954 579.6L966 577.3L981 573.3L990 570.1L999 565.6L1006.3 561L1014.5 555L1023.7 546L1028.2 540L1031.6 534L1037.4 519L1041 512.3L1045.4 507L1053.5 501L1059 497.6L1071 491.6L1086 484.6L1095 481L1101 478.2L1107 476.5L1116 473L1122 471.4L1131 468L1146 464.7L1158 463.3L1164 463.3L1185 466.5L1206 470.3L1218 471.7L1239 471.7L1266 470.3L1281 468.7L1290 466.7L1299 463.1L1317 454.4L1323 452.4L1331 450.7L1331 498L1323 502.4L1295.7 519L1282 528L1266 539.2L1257 544.7L1236.1 555L1212 565.8L1206 568L1182 574.8L1164.1 582L1157.9 585L1142.2 597L1137 600L1134 600.9L1131 601.2L1122 601.3L1116 602L1068.3 612L1051.7 615L1008 620.5L963 623.7L921 623L885 620.7L864 618.3L822 610.1L812.5 606L795 599.8L782.9 594L774 589L768.9 585L763.3 579L759.6 573L757.1 567L754.7 558L752.9 546L751 540L747.2 534L744.3 531L740.9 528L736.7 525L732 522.5L726 520.7L705 517.3L696 516.3L684 516.2L678 516.8L672 518.8L669 519.1L663 518.1L657 518L645 516.1L627 511.2L624 510L618 505.3L582.5 468L570.5 453L564 442.5L562.2 438L561.6 435L561.2 429L561.5 420L562.8 408L570.3 366L576.5 306L576 285L575.3 279L575.2 270L574.2 264L573.8 255L572.8 249L572.8 243L571.6 234L570.5 216L571.4 210L573.3 204L575.9 198L579 193.3L583.2 189L590.4 183L597 178.3L604 174L627 161.3L660.9 144L688.8 129L762 85.4L777 77.1L792 69.7L804 64.7L816 60.4L848.5 51L873 45L909 37.9L921 34.9L927 34.4ZM0 156L0 155.5L54 172.8L75 178.3L120 188.3L132 190.2L165 194.2L174 196.2L180 198.1L186 200.5L198 206.6L213 215.6L237 227.8L258 241.5L267 246L270 246.8L276 247.2L303 243.6L309 243.2L315 243.4L321 244.3L330 246.8L336 247.3L351 250.1L363.4 255L368.4 258L372.3 261L375 264L376.3 267L376.9 270L376.5 273L375 276L366 282L364.8 285L365.3 288L367.5 291L373.5 297L381 303.7L384 307.3L386.6 312L389 318L392.7 330L394.1 339L394.4 345L393.8 351L391.5 360L382.4 384L374.1 393L369 397.1L367.2 399L366 400.8L363 407.6L361.9 411L361.6 414L362.1 417L363 419.7L366 423.2L369 425.1L372 426.1L384 428.5L390 430.9L396 434.5L405 441.2L423 458.8L429 462.7L435 465.4L444 468.4L450 469.9L465 472.4L468 473.3L471 474.7L474 477L475.9 480L476.2 483L475.6 486L474 489.4L469.4 495L466.1 498L462.1 501L456.5 504L440.3 510L432 511.9L426 512.3L408 511.8L402 510.9L398.6 510L395.3 507L393.6 504L391.5 498L390 490.9L387 485.3L384 483.6L375 480.3L366 478.4L357 477.7L339 478.7L324 481L315 481.7L312 482.1L309 483.1L294 485.1L288 484.5L285 486.2L281.8 489L274.7 492L267 494.3L264 494.7L255 494.7L246 492.8L228 495.2L222 495.4L217.8 495L213 493.7L209.1 492L204.7 489L201 485.3L198 483.3L195 483.2L189 484.7L183 487.8L180 488.9L177 489.4L174 489.3L162 486.5L156 485.5L147 485.4L135 486.8L111 490.9L99 492.6L60 495.7L6 498.1L0 498.7L0 426.6L3 425.7L9 424.9L36 424.1L51 424.9L84 428.6L90 428.6L96 427.9L102.4 426L108 423L111 420.7L123.8 405L129 400.7L132 399L138 396.8L147 395.1L159 394.5L207 395.8L240 394.7L270 395.6L291 394.1L306 392.2L315 389.9L327 384.9L333 381.1L339 376.4L343.5 372L345.7 369L347.3 366L349.3 360L349.9 354L349.6 351L348 346.6L342.9 339L339 335L327 326.9L318 322.8L303 317.1L291 313.9L264 308.4L160.6 291L145.7 288L133.2 285L120 281.1L107.4 276L95.3 270L72.4 255L46.6 237L34.3 228L15 212.7L0 202.2Z"/>
<path fill="#0080ff" stroke="#0080ff" stroke-width="0.7" d="M868.2 117L888 115L906 114.1L912 114.3L921 115.7L927 115.3L936 115.9L942 115.6L951 116.7L978 117.2L984 117L993 117.4L999 117.1L1005 117.6L1014 117.3L1020 117.9L1026 117.7L1035 118.7L1041 118.8L1047 119.8L1056 120.2L1062 121.1L1071 121.9L1118.7 129L1128 131.2L1152 135L1179 141.9L1191 144.3L1206 146.2L1242 149.2L1254 151L1263 152.9L1281 158.5L1296 164.7L1312.2 174L1331 186.5L1331 227.4L1320 224.5L1303 219L1281 210.5L1275 208.4L1269 206.9L1260 203L1248 198.8L1185 192L1161 188.1L1146 187.4L1140 188.3L1134 190.7L1119.3 198L1113 200.5L1107 202.2L1098 203.7L1089 204.3L1080 204.1L1067.2 201L1053.7 195L1049.1 192L1042.3 186L1040.3 183L1039.7 180L1040.2 177L1041 175.6L1044 172.4L1053 166.7L1062.2 162L1067.2 159L1070.8 156L1071.6 153L1071 151.4L1070.2 150L1064.8 147L1056 144L1044 141.6L1017 139.5L999 139.1L960 139.5L951 139.8L942 140.9L933 140.2L927 141.1L921 140.8L918 141.1L912 142.5L903 142.8L897 144.1L891 144.6L882 146.8L876 147.4L870 149.4L861 151.3L855 153.9L846 156.5L841.1 159L834 161.3L828 164.7L822 166.5L819 167.9L814.3 171L807.5 174L801 179L795 181.8L789 185.4L777 189.5L772.9 192L769.4 195L765.5 201L761.3 204L754.1 207L732 213.2L720 217.2L711 221.2L704.7 225L700.6 228L696 232.3L692.1 237L690.1 240L687.2 246L681 261.1L678 267L674.2 273L669.2 279L651 297.4L646.2 303L642 308.9L639 314.2L637.4 318L636 324L635.7 333L636.9 342L639.5 351L644.7 363L663.5 396L670.3 411L671.8 417L671.2 420L666 424.3L664.8 426L663.1 429L662.6 432L663 435L665.3 438L669.3 441L674.1 444L685.3 450L698.6 456L717 461L723 463.6L725.1 465L740.7 471L756 474L780 477.5L798 479.6L810 480.1L849 478.7L864 479L876 480.2L882 481.5L891 484.1L904.2 489L930 499.6L933 500.4L939 501.2L945 501L951 499.5L957 496.9L963 493.2L972 490.2L978 487.5L984 485.6L1026 469.4L1053 460L1071 455L1101 449.1L1116 447.3L1134 446.4L1155 444.7L1167 444.6L1206 447L1215 446.8L1227 445.6L1236 443.9L1242 442L1250.9 438L1263 431.4L1269 428.7L1278 425.6L1287 423.7L1293 423.5L1302 424.7L1314 427.8L1326.7 432L1331 432.8L1331 450.7L1323 452.4L1317 454.4L1299 463.1L1290 466.7L1281 468.7L1269 470.1L1239 471.7L1218 471.7L1209 470.8L1185 466.5L1167 463.7L1161 463.2L1146 464.7L1130.9 468L1122 471.4L1116 473L1107 476.5L1101 478.2L1095 481L1086 484.6L1059 497.6L1049.2 504L1044 508.4L1040.5 513L1037.4 519L1031.6 534L1026 543.2L1023 546.7L1014.5 555L1005 561.9L999 565.6L990.1 570L984 572.3L972 575.8L963 578L954 579.6L945 580.6L924 581.2L876 577.6L864 576L852 573L846 570.4L841 567L837.8 564L835.8 561L834 556.2L833.4 552L834.2 546L840.8 528L841.2 525L841 522L840 519L838.1 516L835.2 513L830.1 510L821.9 507L783 499.6L765 495.6L726 485.2L699 476.2L681 469.4L662.9 462L639.8 450L624.7 441L621 438.4L608.8 429L606 425.2L605.1 423L604.4 420L604.4 414L605.6 402L606.1 393L604.4 360L604.1 342L604.3 333L606 318L608.8 306L619.1 282L622.2 273L623.7 267L625.4 255L625.5 249L624.9 234L625.9 225L627.3 219L632.1 207L633.1 198L635 195L641.1 189L645.6 186L648 185L654 181.1L656.3 180L660 178.9L669.7 174L678 171.7L681 171.9L687 175L690 175.9L693 175.8L699 174.6L705 172.8L726 163.5L777 138.6L789 133.8L810 127.6L828 123.4L849 119.5ZM0 204L0 202.2L9 208.4L42.4 234L68 252L90.4 267L101.1 273L117 280L122.5 282L133.2 285L145.7 288L160.6 291L255 306.8L291 313.9L303 317.1L318 322.8L324 325.5L330 328.8L340.2 336L342.9 339L348 346.6L349.6 351L349.8 357L348.5 363L347.3 366L345 370L340.6 375L330 383.1L327 384.9L318 388.8L312 390.8L306 392.2L291 394.1L270 395.6L240 394.7L207 395.8L159 394.5L147 395.1L138 396.8L132 399L129 400.7L123.8 405L111 420.7L108 423L102.4 426L96 427.9L90 428.6L84 428.6L51 424.9L36 424.1L9 424.9L3 425.7L0 426.6L0 391.7L21 384.6L51 373.7L57 371.8L68.4 369L84 365.8L93 365.4L111 365.5L126 366.2L153 368.3L192 372.5L216 373.7L228 373.7L270 369.2L291 365.6L297 363.5L300 361L300.9 360L302.3 357L302.6 354L301.4 351L299.1 348L295.7 345L290.9 342L277.7 336L251.8 327L213 316.2L180 308.7L162 305.3L129 300.4L114 297.3L99 292.8L87 287.7L60.5 273L27 251.9L0 235.7Z"/>
<path fill="#00b8ff" stroke="#00b8ff" stroke-width="0.7" d="M918.8 141L921 140.8L927 141.1L933 140.2L942 140.9L951 139.8L966 139.3L1014 139.3L1029 140.2L1044 141.6L1056 144L1064.8 147L1070.2 150L1071.6 153L1070.8 156L1067.2 159L1062.2 162L1053 166.7L1044 172.4L1041 175.6L1040.2 177L1039.7 180L1040.3 183L1042.3 186L1049.1 192L1053.7 195L1065 200.2L1080 204.1L1092 204.2L1101 203.3L1107 202.2L1113 200.5L1119.3 198L1137 189.3L1140 188.3L1146 187.4L1161 188.1L1185 192L1248 198.8L1260 203L1269 206.9L1275 208.4L1281 210.5L1303 219L1320 224.5L1331 227.4L1331 248.7L1308 244L1292.2 240L1271.7 234L1236 222.8L1218 217.7L1200 213.7L1176 209.4L1164 205.2L1161 204.9L1146 207.3L1122 213.8L1110 216.2L1098 217L1089 216.9L1083 216.3L1074 215L1062 212.1L1047 207L1032 200.5L1011 190.1L1002 186.1L978 177.8L972 176.5L963 172.6L960 171.8L954 171.7L950.5 171L945 169.1L936 168.6L930 167.2L924 168.1L921 167.5L915.4 165L912 164.4L900 165.3L885 168.1L873 171.9L862.2 177L858 179.7L849 182.4L843 186L840 187.3L834 189L829.4 192L819.7 201L813 205.2L807 207.8L786 215.5L759 226.7L747 232.5L734.4 240L726 246.5L723 249.3L718 255L696.8 285L681 304.7L676.2 312L673.2 318L671.2 324L670.1 330L669.9 333L670.3 339L671.6 345L673.8 351L676.8 357L680.5 363L685 369L697.9 384L729 416.5L735 421.6L738 423.1L744 425.1L759 427.7L763.7 429L768 431.5L777 438.3L783 442.3L792 446.2L810 450.4L819 451.4L822 451.3L825 450.6L840 444.9L861 434.6L876 430L885 428.2L891 427.8L900 428L912 429.6L922.5 432L945 438.5L954 440L957 439.9L963 438.7L981 433.7L990 431.6L996 429.4L1002 428.4L1010.2 426L1017 424.8L1023.2 423L1053 418.4L1071 416.5L1095 415.4L1122 415.4L1134 416.8L1161 418.4L1182 421.7L1194 421.1L1206 419.6L1216.6 417L1233 411.1L1255.1 402L1272 396.5L1287 393.6L1299 393.2L1314 394.5L1331 397.8L1331 432.8L1326 431.8L1314 427.8L1305 425.4L1296 423.8L1290 423.5L1281 424.8L1272 427.6L1263 431.4L1251 437.9L1244.5 441L1236 443.9L1227 445.6L1215 446.8L1206 447L1170 444.7L1158 444.6L1134 446.4L1116 447.3L1101 449.1L1071 455L1059 458.1L1044 463L1026 469.4L984 485.6L978 487.5L972 490.2L963 493.2L957 496.9L951 499.5L945 501L942 501.3L936 500.9L930 499.6L904.2 489L891 484.1L882 481.5L876 480.2L864 479L849 478.7L810 480.1L798 479.6L780 477.5L756 474L740.7 471L725.1 465L723 463.6L717 461L698.6 456L685.3 450L674.1 444L669.3 441L665.3 438L663 435L662.6 432L663.1 429L664.8 426L666 424.3L671.2 420L671.8 417L671.2 414L669.1 408L663.5 396L646.2 366L640.6 354L637.6 345L636.4 339L635.7 330L636 324L637.4 318L638.6 315L641.9 309L645 304.6L654.2 294L669.2 279L675 271.8L678 267L681 261.1L688.6 243L692.1 237L694.4 234L697.3 231L702 226.9L708 222.9L714 219.7L726 215.1L753 207.3L761.3 204L765.5 201L769.4 195L774 191.3L780 188.3L789 185.4L795 181.8L801 179L807.5 174L814.3 171L819 167.9L822 166.5L828 164.7L834 161.3L841.1 159L849 155.4L855 153.9L861 151.3L870 149.4L876 147.4L882 146.8L891 144.6L897 144.1L903 142.8L912 142.5ZM0 237L0 235.7L27 251.9L65.6 276L87 287.7L96 291.7L108 295.7L123 299.3L168 306.3L198 312.7L220 318L251.8 327L277.7 336L291 342L295.7 345L300 349.1L301.4 351L302.6 354L302.3 357L300.9 360L297.8 363L294 364.7L289.5 366L267 369.6L237 372.9L225 373.8L207 373.4L192 372.5L156 368.5L126 366.2L102 365.4L84 365.8L75 367.5L56.4 372L0 391.7L0 362.1L39 349L69 340L78 338.5L84 338L90 338L96 338.5L105 340.1L137.2 348L150 350.4L165 352.2L180 353.2L198 352.7L210 351.4L213 350.4L217.1 348L218.7 345L217.6 342L214.6 339L210.2 336L197.9 330L180.1 324L168 321.1L159 319.9L132 318.3L108 315.9L99 314.2L90 310.9L84 307.8L62.2 294L37.4 279L9 262.6L0 258Z"/>
<path fill="#09f0ee" stroke="#09f0ee" stroke-width="0.7" d="M904.6 165L912 164.4L915.4 165L921 167.5L923.5 168L930 167.2L936 168.6L945 169.1L950.5 171L954 171.7L960 171.8L963 172.6L972 176.5L978 177.8L1002 186.1L1011 190.1L1032 200.5L1047 207L1059 211.2L1074 215L1089 216.9L1098 217L1107 216.5L1119 214.5L1146 207.3L1161 204.9L1164 205.2L1176 209.4L1200 213.7L1215 216.9L1236 222.8L1271.7 234L1292.2 240L1308 244L1331 248.7L1331 268.6L1326 266.8L1308 261.4L1278 254L1215 235L1197 230.5L1173 225.5L1164 222L1161 221.3L1146 221.4L1131 223.1L1116 225.8L1104 227.1L1089 227.2L1074 225.8L1059 223L1044.1 219L1018.4 210L978 194.6L963 190.1L954 188.1L948 187.2L921 186.1L903 186.7L885 188.3L870 192.5L861 196.5L858 198.6L855 201.6L849 210.3L845.9 213L840 216.5L834 219.3L810 228.5L786 238.6L774 244.8L765 250.2L753 258.8L741 269.6L732.2 279L724.7 288L713.8 303L710.5 309L708.1 315L705.5 324L704.7 330L704.6 336L705.2 342L706.7 348L709 354L712 360L715.9 366L720.6 372L726.4 378L735 385.7L744 392.8L753 398.9L758.5 402L777 411.3L789.9 417L798 420.1L804 421.4L810 420.9L825 416.8L834 414.8L846 413.6L855 413.9L894 417.1L924 420.3L936 420.4L945 419.1L960 414.2L966 413L987 411.5L1005 409.6L1026 406.3L1044 402.8L1080 393.9L1124.8 381L1158 372L1173 368.9L1185 365.3L1191 364.4L1217.6 366L1227 367.1L1251 371.4L1263 372.8L1275 373.4L1287 373.3L1302 372.3L1323 369.7L1331 368.3L1331 397.8L1317 394.9L1305 393.5L1293 393.2L1284 394L1273.9 396L1260 400.3L1245 406L1233 411.1L1216.6 417L1206 419.6L1191 421.3L1182 421.7L1161 418.4L1134 416.8L1122 415.4L1107 415.2L1086 415.7L1071 416.5L1056 418L1038 420.5L1023 423L1017 424.8L1010.2 426L1002 428.4L996 429.4L990 431.6L957 439.9L954 440L948 439.2L922.5 432L908.4 429L897 427.8L885 428.2L876 430L861 434.6L840 444.9L825 450.6L822 451.3L819 451.4L810 450.4L792 446.2L783 442.3L777 438.3L768 431.5L763.7 429L759 427.7L744 425.1L738 423.1L735 421.6L729 416.5L703.4 390L692.5 378L682.7 366L678.6 360L675.2 354L672.6 348L670.9 342L670 336L670.1 330L672.1 321L674.6 315L678 309L682.3 303L696.8 285L714 260.3L720 252.6L726.5 246L738 237.7L747 232.5L759 226.7L786 215.5L807 207.8L813 205.2L819.7 201L829.4 192L833.9 189L840 187.3L843 186L847.5 183L858 179.7L862.2 177L870 173.2L882 169L897 165.7ZM0 258L9 262.6L37.4 279L62.2 294L84 307.8L93 312.2L99 314.2L108 315.9L132 318.3L159 319.9L168 321.1L180.1 324L197.9 330L210.2 336L214.6 339L217.6 342L218.7 345L217.1 348L213 350.4L210 351.4L198 352.7L180 353.2L165 352.2L150 350.4L137.2 348L105 340.1L96 338.5L90 338L81 338.2L72 339.4L60 342.5L36 350L0 362.1L0 328.5L14.8 324L24 319.8L26.9 318L29.9 315L31.2 312L31.3 309L30.6 306L29.2 303L27.2 300L21.8 294L11.1 285L6 281.6L0 278.5Z"/>
<path fill="#36ffc1" stroke="#36ffc1" stroke-width="0.7" d="M882.2 189L891 187.6L906 186.5L918 186.1L948 187.2L954 188.1L963 190.1L978 194.6L1018.4 210L1044.1 219L1059 223L1077 226.1L1089 227.2L1104 227.1L1116 225.8L1131 223.1L1146 221.4L1161 221.3L1164 222L1173 225.5L1194 229.8L1212 234.2L1278 254L1308 261.4L1329 267.8L1331 268.6L1331 368.3L1323 369.7L1302 372.3L1287 373.3L1275 373.4L1263 372.8L1251 371.4L1227 367.1L1217.6 366L1191 364.4L1185 365.3L1173 368.9L1158 372L1124.8 381L1080 393.9L1044 402.8L1026 406.3L1005 409.6L987 411.5L969 412.7L963 413.5L948 418.4L939 420.1L933 420.6L924 420.3L894 417.1L849 413.6L840 413.9L834 414.8L825 416.8L813 420.2L807 421.3L804 421.4L801 420.9L792 417.9L777 411.3L764.1 405L753.2 399L748.6 396L741 390.6L732 383.2L723.4 375L718.2 369L713.9 363L710.4 357L706.7 348L705.2 342L704.6 336L705 327L706.2 321L709.2 312L712.1 306L715.7 300L724.7 288L732.2 279L744 266.6L753 258.8L759 254.2L771 246.5L786 238.6L810 228.5L834 219.3L840 216.5L845.9 213L849 210.3L855 201.6L858 198.6L861 196.5L870 192.5ZM906 197.7L882 199.6L873 202.9L867 204.4L864 205.7L861 207.9L849 221.4L843 225.6L807 242.2L783 255.4L770.8 264L756 279L745.4 291L740.9 297L737.3 303L734.7 309L733.1 315L732.6 321L733.1 327L734.7 333L737.4 339L741 344.5L744 348.3L749.6 354L756.8 360L765 365.6L777 372.9L789 379.5L801 385.1L816 390.4L828 393.1L846 396.5L864 403.1L876 406.1L903 409.9L921 411.5L930 411.2L939 409.6L957 403.4L963 401.8L984 401L999 399.9L1014 398.2L1026 396.3L1038 394L1056 389.4L1131 366.8L1161 359.1L1170 357.2L1182 352.1L1188 350.1L1191 350L1200 353.7L1203 354.6L1209 355.1L1215 354.6L1239 351.4L1269 348.9L1278 347.6L1281 346.6L1284 345L1287 342.5L1298.3 330L1303.2 324L1307.4 318L1310.5 312L1311.6 309L1312.2 306L1312.3 303L1312 300L1311 295.9L1308 289.6L1305.1 285L1302 281.1L1299 279.5L1293 280L1290 279.8L1284 278.2L1233.8 258L1212 251.4L1191.4 246L1179 243.1L1164 240.3L1146 237.5L1128 236.3L1104 236.7L1092 236.3L1077 234.7L1062 232L1050 229.1L1036.6 225L972 202L963 199.6L957 198.4L948 197.3L924 196.6L915 196.9ZM0 279L0 278.5L3 279.9L9 283.6L14.9 288L21.8 294L27.2 300L29.2 303L30.6 306L31.3 309L31.2 312L29.9 315L26.9 318L24 319.8L14.8 324L0 328.5Z"/>
<path fill="#63ff94" stroke="#63ff94" stroke-width="0.7" d="M903.9 198L915 196.9L924 196.6L948 197.3L957 198.4L963 199.6L972 202L1036.6 225L1050 229.1L1062 232L1077 234.7L1092 236.3L1104 236.7L1128 236.3L1146 237.5L1164 240.3L1179 243.1L1191.4 246L1212 251.4L1233.8 258L1284 278.2L1290 279.8L1293 280L1299 279.5L1302 281.1L1305.1 285L1308 289.6L1311 295.9L1312 300L1312.3 303L1312.2 306L1311.6 309L1310.5 312L1307.4 318L1303.2 324L1298.3 330L1287 342.5L1284 345L1281 346.6L1278 347.6L1269 348.9L1239 351.4L1215 354.6L1209 355.1L1203 354.6L1200 353.7L1191 350L1188 350.1L1182 352.1L1170 357.2L1161 359.1L1131 366.8L1056 389.4L1038 394L1026 396.3L1014 398.2L999 399.9L984 401L963 401.8L957 403.4L939 409.6L930 411.2L921 411.5L903 409.9L876 406.1L864 403.1L846 396.5L828 393.1L816 390.4L801 385.1L789 379.5L777 372.9L759 361.6L753 357L746.6 351L741.3 345L738 340L735.9 336L733.8 330L732.7 324L732.7 318L733.8 312L735.9 306L739 300L743.1 294L747.9 288L756 279L770.8 264L783 255.4L807 242.2L843 225.6L849 221.4L861 207.9L864 205.7L867 204.4L873 202.9L882 199.6ZM903 206.7L885 209.3L870 214L864 216.4L861 218.5L855.8 225L852 227.5L814.1 246L803.9 252L790 261L781.9 267L778.7 270L776.7 273L775.5 276L775.2 279L775.4 282L777 288L777 291L770.4 312L769.3 318L769.2 324L770.5 333L772.4 339L774 342.5L777.7 348L783 353.9L786.8 357L795 362.6L801.3 366L810 370.1L822 374.5L843 380.7L849 382.9L861 390.7L867 393.7L873 395.9L885 399L897 401.1L915 403.3L924 403.5L933 402L954 395.9L963 394L984 393.1L1002 391.8L1014 390.3L1032 387.2L1041 385L1053 381.5L1098 366.3L1125 358L1137 355.2L1152 352.9L1155 352.1L1170 346L1179 341.5L1185 339.2L1188 338.6L1191 338.5L1194 339L1197 340.1L1203 343.5L1206 344.3L1212 343.2L1222.2 339L1227.8 336L1237.4 330L1244.4 324L1246.8 321L1250 315L1251.3 309L1251.3 306L1250.6 303L1248 297L1245 292.9L1236 283.4L1227 276.8L1224 275.3L1212 273.6L1191 266.8L1179 263.9L1173 263L1170 263L1164 264L1161 264L1149 259.2L1143 256.2L1122 250.7L1113 248.7L1080 243.4L1059 238.6L1035 231.4L978 211.5L963 207.2L951 205.7L924 205.1L915 205.2Z"/>
<path fill="#94ff63" stroke="#94ff63" stroke-width="0.7" d="M900.4 207L912 205.5L921 205L951 205.7L963 207.2L978 211.5L1035 231.4L1059 238.6L1080 243.4L1113 248.7L1122 250.7L1143 256.2L1149 259.2L1161 264L1164 264L1170 263L1173 263L1179 263.9L1191 266.8L1212 273.6L1224 275.3L1227 276.8L1236 283.4L1245 292.9L1248 297L1250.6 303L1251.3 306L1251.3 309L1250 315L1246.8 321L1244.4 324L1237.4 330L1227.8 336L1222.2 339L1212 343.2L1206 344.3L1203 343.5L1197 340.1L1194 339L1191 338.5L1188 338.6L1185 339.2L1179 341.5L1170 346L1155 352.1L1152 352.9L1137 355.2L1125 358L1098 366.3L1053 381.5L1041 385L1032 387.2L1014 390.3L1002 391.8L984 393.1L963 394L954 395.9L933 402L924 403.5L915 403.3L897 401.1L885 399L873 395.9L867 393.7L861 390.7L849 382.9L843 380.7L822 374.5L807.4 369L795.6 363L786.8 357L783 353.9L777.7 348L774 342.5L772.4 339L770.5 333L769.5 327L769.1 321L769.7 315L771.2 309L776.3 294L777 291L777 288L775.4 282L775.2 279L775.5 276L776.7 273L778.7 270L781.9 267L790 261L799.2 255L814.1 246L849 229.1L855 225.7L861 218.5L864 216.4L870 214L885 209.3ZM915 212.8L891 216.4L888 217.1L873 222.3L864 226.7L852 235.6L846 237.7L843.1 240L840 243.3L834 244.8L832.4 246L828.9 252L828 252.6L822 253.9L819 256.8L816 260.8L810 261.7L807.5 264L804.5 270L800.4 273L795 281.8L792.2 285L791.1 288L791.2 291L792.3 294L795 297.2L798 299L807 302L828 306.5L837 310.2L840 310.4L846 309.1L852 308.5L861 308.5L900 312.8L909.1 315L910.6 318L908.2 321L902.5 324L873 335.1L861 340.5L853.2 345L848.8 348L845.7 351L843.8 354L842.8 357L842.7 360L843.6 363L845.5 366L855.9 375L867 382.3L873 385L879 387.1L894 390.9L909 393.3L921 394.5L927 393.8L939 391.1L963 386.8L987 385.8L1002 384.7L1014 383.1L1029 380.3L1041 377.1L1053 373L1089 358.7L1113 349.4L1119 347.5L1125 346.1L1131 345.2L1137 344.8L1149 344.9L1152 344.1L1161.8 339L1173.7 330L1186.9 318L1189.5 315L1191.2 312L1191.7 309L1191 305.5L1188 300.4L1183.5 294L1182 292L1180.2 291L1179 290.6L1172.4 294L1170 295L1167 295.7L1164 295.8L1161 294.8L1149 287.8L1140.5 282L1115.1 267L1103.2 261L1087.9 255L1044 240.6L993 222.9L978 218.2L966 214.9L957 213.3L948 212.7Z"/>
<path fill="#c1ff36" stroke="#c1ff36" stroke-width="0.7" d="M912.8 213L921 212.5L948 212.7L957 213.3L966 214.9L978 218.2L993 222.9L1044 240.6L1087.9 255L1103.2 261L1115.1 267L1140.5 282L1149 287.8L1161 294.8L1164 295.8L1167 295.7L1170 295L1172.4 294L1179 290.6L1180.2 291L1182 292L1183.5 294L1188 300.4L1191 305.5L1191.7 309L1191.2 312L1189.5 315L1186.9 318L1173.7 330L1161.8 339L1152 344.1L1149 344.9L1137 344.8L1131 345.2L1125 346.1L1119 347.5L1113 349.4L1089 358.7L1053 373L1041 377.1L1032 379.6L1014 383.1L1002 384.7L987 385.8L963 386.8L939 391.1L927 393.8L921 394.5L909 393.3L894 390.9L876 386.1L870 383.8L864.8 381L855.9 375L845.5 366L843.6 363L842.7 360L842.8 357L843.8 354L845.7 351L848.8 348L853.2 345L861 340.5L873 335.1L902.5 324L908.2 321L910.6 318L909.1 315L900 312.8L861 308.5L852 308.5L846 309.1L840 310.4L837 310.2L828 306.5L807 302L798 299L795 297.2L792.3 294L791.2 291L791.1 288L792.2 285L795 281.8L800.4 273L804.5 270L807.5 264L810 261.7L816 260.8L819 256.8L822 253.9L828 252.6L828.9 252L832.4 246L834 244.8L840 243.3L843.1 240L846 237.7L852 235.6L864 226.7L873 222.3L888 217.1L891 216.4ZM903 222L891 224.4L870 232.4L864 236.2L857.8 243L855 244.4L852 245.2L849 246.8L846 249.1L837 253.2L834 255.7L825.6 261L815 270L808.1 279L806.9 282L806.6 285L807.3 288L809.7 291L813 292.5L816 293L825 292.4L831 291.3L834 291.5L840 292.8L849 293.2L867 295.2L885 296.4L912 297.2L921 298L935.6 300L950.8 303L960.5 306L966 309L966.6 312L964.5 315L960.7 318L948.4 324L921.6 336L909.4 342L899.5 348L895.7 351L890.8 357L889.6 360L889.8 363L892 366L897.7 369L904.8 372L921 377.3L930 378.9L948 380.5L954 380.4L966 378.9L990 378L1002 377.2L1011 376L1023 373.8L1035 370.8L1048.1 366L1067 357L1084.1 348L1093.8 342L1115.8 327L1119.7 324L1122.3 321L1123.4 318L1123 315L1119.8 309L1113.1 300L1095.1 279L1089 273L1074.4 261L1059 252.7L1038 244.2L1008 233.5L984 226.1L969 222.4L954 220L942 219.4L918 219.9L912 220.5Z"/>
<path fill="#eeff09" stroke="#eeff09" stroke-width="0.7" d="M902.8 222L912 220.5L918 219.9L942 219.4L954 220L966 221.8L984 226.1L1008 233.5L1038 244.2L1059 252.7L1074.4 261L1089 273L1095.1 279L1113.1 300L1119.8 309L1123 315L1123.4 318L1122.3 321L1119.7 324L1115.8 327L1093.8 342L1084.1 348L1067 357L1048.1 366L1035 370.8L1023 373.8L1011 376L1002 377.2L990 378L966 378.9L954 380.4L948 380.5L930 378.9L921 377.3L904.8 372L897.7 369L892 366L889.8 363L889.6 360L890.8 357L895.7 351L899.5 348L909.4 342L921.6 336L948.4 324L960.7 318L964.5 315L966.6 312L966 309L960.5 306L950.8 303L935.6 300L921 298L912 297.2L885 296.4L867 295.2L849 293.2L840 292.8L834 291.5L831 291.3L825 292.4L816 293L813 292.5L809.7 291L807.3 288L806.6 285L806.9 282L808.1 279L815 270L825.6 261L834 255.7L837 253.2L846 249.1L849 246.8L852 245.2L855 244.4L857.8 243L864 236.2L870 232.4L891 224.4ZM912 227.6L894 231.1L873 238.4L870 240.1L858 248.6L846 255.1L833.6 264L831 267L830.2 270L831.6 273L836.4 276L843.1 279L851.2 282L864 285.1L879 286.6L897 287L951 286.4L966 288.8L981 289.9L999 290.7L1026 290.9L1041 290.4L1050 289.5L1056 288.4L1062 286.5L1065 284.9L1067.8 282L1069 279L1069.3 276L1068.8 273L1067.8 270L1066 267L1062.8 264L1054.5 258L1042.6 252L1035.6 249L1020.4 243L1008 238.7L993 234.3L981 231.3L969 229L957 227.4L948 226.5L939 226.3L921 226.8ZM981 329.6L966 333.9L953.2 339L941.7 345L937.1 348L933.8 351L931.9 354L932.2 357L934.8 360L940 363L945 365L951 366.6L957 367.6L963 368.2L978 368.5L996 368L1011 366.1L1024.4 363L1033.4 360L1040 357L1045.7 354L1054.9 348L1058.3 345L1059.9 342L1060.7 339L1060.4 336L1059 333.9L1057 333L1050 332.3L1041 330.4L1029 328.6L1014 327.4L1002 327.2L990 328.1Z"/>
<path fill="#ffcc00" stroke="#ffcc00" stroke-width="0.7" d="M909.2 228L918 227L936 226.4L945 226.4L954 227L966 228.6L978 230.7L990 233.5L1005 237.7L1020.4 243L1035.6 249L1042.6 252L1054.5 258L1062.8 264L1066 267L1067.8 270L1068.8 273L1069.3 276L1069 279L1067.8 282L1065 284.9L1062 286.5L1056 288.4L1050 289.5L1041 290.4L1026 290.9L999 290.7L981 289.9L966 288.8L951 286.4L897 287L879 286.6L864 285.1L851.2 282L843.1 279L836.4 276L831.6 273L830.2 270L831 267L833.6 264L846 255.1L858 248.6L870 240.1L873 238.4L894 231.1ZM927 234L912 235L900 237.5L882 243L875 246L870 248.9L857.8 258L854.6 261L852.4 264L852.2 267L855 269.8L863.4 273L876 276.1L882 276.7L894 277.3L927 277.1L954 276.2L993 277.1L1014 277.2L1029 276L1038 273.8L1041 272.5L1044 270.1L1045 267L1043.9 264L1041 261L1037.1 258L1032.2 255L1019.4 249L1002.4 243L990 239.9L975 237.1L963 235.6L942 233.7ZM979.5 330L987 328.5L1002 327.2L1014 327.4L1029 328.6L1041 330.4L1050 332.3L1057 333L1059 333.9L1060.4 336L1060.7 339L1059.9 342L1058.3 345L1054.9 348L1045.7 354L1040 357L1033.4 360L1024.4 363L1011 366.1L996 368L981 368.5L960 368L948.1 366L940 363L934.8 360L933 358L932.2 357L931.9 354L933.8 351L937.1 348L941.7 345L951 340.1L966 333.9Z"/>
<path fill="#ff9400" stroke="#ff9400" stroke-width="0.7" d="M926.7 234L942 233.7L963 235.6L975 237.1L990 239.9L1002.4 243L1019.4 249L1032.2 255L1037.1 258L1041 261L1043.9 264L1045 267L1044 270.1L1041 272.5L1038 273.8L1029 276L1014 277.2L993 277.1L954 276.2L927 277.1L894 277.3L882 276.7L876 276.1L863.4 273L855 269.8L852.2 267L852.4 264L854.6 261L857.8 258L870 248.9L875 246L882 243L897 238.3L912 235ZM936 242.9L921 243.8L915 244.7L909.9 246L901.9 249L896.2 252L892.4 255L891 258L893.5 261L900 263.2L903.1 264L912 265L939 266.2L948 265.2L966 261.9L993.5 258L992.5 255L983.8 252L948 244L942 243.1Z"/>
<path fill="#ff6000" stroke="#ff6000" stroke-width="0.7" d="M933.5 243L942 243.1L948 244L983.8 252L992.5 255L993.5 258L966 261.9L948 265.2L939 266.2L915 265.2L903 264L893.5 261L891 258L892.4 255L896.2 252L901.9 249L909.9 246L915 244.7L921 243.8Z"/>
<ellipse cx="992.8" cy="346.7" rx="2.6" ry="1.1" fill="#ff9400"/>
<use href="#coast"/>
</g><rect x="0" y="0" width="1331" height="655.7" fill="none" stroke="#000" stroke-width="3.33"/></g>
<rect x="78.50" y="831.60" width="74.54" height="65.60" fill="#00009f"/>
<rect x="152.44" y="831.60" width="74.54" height="65.60" fill="#0000df"/>
<rect x="226.39" y="831.60" width="74.54" height="65.60" fill="#000cff"/>
<rect x="300.33" y="831.60" width="74.54" height="65.60" fill="#0044ff"/>
<rect x="374.28" y="831.60" width="74.54" height="65.60" fill="#0080ff"/>
<rect x="448.22" y="831.60" width="74.54" height="65.60" fill="#00b8ff"/>
<rect x="522.17" y="831.60" width="74.54" height="65.60" fill="#09f0ee"/>
<rect x="596.11" y="831.60" width="74.54" height="65.60" fill="#36ffc1"/>
<rect x="670.06" y="831.60" width="74.54" height="65.60" fill="#63ff94"/>
<rect x="744.00" y="831.60" width="74.54" height="65.60" fill="#94ff63"/>
<rect x="817.94" y="831.60" width="74.54" height="65.60" fill="#c1ff36"/>
<rect x="891.89" y="831.60" width="74.54" height="65.60" fill="#eeff09"/>
<rect x="965.83" y="831.60" width="74.54" height="65.60" fill="#ffcc00"/>
<rect x="1039.78" y="831.60" width="74.54" height="65.60" fill="#ff9400"/>
<rect x="1113.72" y="831.60" width="74.54" height="65.60" fill="#ff6000"/>
<rect x="1187.67" y="831.60" width="74.54" height="65.60" fill="#ff2d00"/>
<rect x="1261.61" y="831.60" width="74.54" height="65.60" fill="#df0000"/>
<rect x="1335.56" y="831.60" width="73.94" height="65.60" fill="#9f0000"/>
<rect x="78.5" y="831.60" width="1331" height="65.6" fill="none" stroke="#000" stroke-width="3.33"/>
<path d="M78.50 897.20v15.2" stroke="#000" stroke-width="3.33"/>
<text transform="translate(66.28,958.60) scale(0.9937,1)" font-size="44.2">0</text>
<path d="M226.39 897.20v15.2" stroke="#000" stroke-width="3.33"/>
<text transform="translate(214.70,958.60) scale(0.9379,1)" font-size="44.2">5</text>
<path d="M374.28 897.20v15.2" stroke="#000" stroke-width="3.33"/>
<text transform="translate(348.87,958.60) scale(1.0364,1)" font-size="44.2">10</text>
<path d="M522.17 897.20v15.2" stroke="#000" stroke-width="3.33"/>
<text transform="translate(496.81,958.60) scale(1.0196,1)" font-size="44.2">15</text>
<path d="M670.06 897.20v15.2" stroke="#000" stroke-width="3.33"/>
<text transform="translate(644.35,958.60) scale(1.0439,1)" font-size="44.2">20</text>
<path d="M817.94 897.20v15.2" stroke="#000" stroke-width="3.33"/>
<text transform="translate(792.28,958.60) scale(1.0276,1)" font-size="44.2">25</text>
<path d="M965.83 897.20v15.2" stroke="#000" stroke-width="3.33"/>
<text transform="translate(940.72,958.60) scale(1.0289,1)" font-size="44.2">30</text>
<path d="M1113.72 897.20v15.2" stroke="#000" stroke-width="3.33"/>
<text transform="translate(1088.63,958.60) scale(1.0127,1)" font-size="44.2">35</text>
<path d="M1261.61 897.20v15.2" stroke="#000" stroke-width="3.33"/>
<text transform="translate(1236.10,958.60) scale(1.0386,1)" font-size="44.2">40</text>
<path d="M1409.50 897.20v15.2" stroke="#000" stroke-width="3.33"/>
<text transform="translate(1384.00,958.60) scale(1.0227,1)" font-size="44.2">45</text>
<text transform="translate(132.03,1093.25) scale(1.0741,1)" font-size="53.0">Ionosphere&#160;&#160;(h=450.0 km), 2008-03-19 08:00 UT</text>
<g transform="translate(78.5,1117.5)"><g clip-path="url(#mc)">
<rect width="1331.0" height="655.7" fill="#00009f"/><path fill="#00009f" stroke="#00009f" stroke-width="0.7" d="M426.6 54L447 53.2L468 54.8L483 57.3L495 60.1L504.6 63L519 68.4L525 71L531.6 75L537 78.9L542.4 84L544.5 87L547.7 93L549.9 99L551.3 108L551.7 117L550.9 126L549.5 135L547.7 141L543 152.2L540 157.1L537 161.1L534 164.4L528 170.1L522 173.9L513 178.1L501 181.8L489 183.7L480 184.6L477 185.4L476.1 186L475.6 189L477.5 192L480 193.8L483 195.3L489 195.6L507 194.5L522 195.8L525 196.5L531 198.9L540 203.9L546 208.7L552 214.6L558 221.3L562.9 228L568.8 237L573.9 246L579.8 258L581.9 264L586.3 282L586.7 288L586.7 306L584.7 318L582.2 339L578.3 360L576 369.6L565.9 405L564.1 414L562.9 426L562.8 435L564 442.5L566.5 450L569 459L570.8 468L571.1 474L570 478.6L567 485.8L564 490.8L561 494.6L552 500.8L546 504.1L540 506.3L537 506.5L528 504.7L507.7 495L500.1 492L495 490.8L484.9 489L477 488.3L459 487.6L453 487.8L443.1 489L405 495.3L384 500.1L372 502.1L369 503L351 505.6L315 508.7L306 508.5L294 507.6L267 503.7L255 500.8L213.3 489L183 479.2L180 477.9L159.8 471L138 466.4L133.6 465L102 458.4L60 452.7L42 448.6L36 447L27 443.6L24 442.1L21 439.6L18 435.5L16.3 432L15.3 429L15.2 426L16.1 423L17.6 420L22.1 414L32.8 405L52.5 390L57.4 387L63.3 384L70.4 381L75 379.5L78 379.1L90 379L102 378.3L111 379.8L120 380.4L237 380L246 380.6L261 382.5L291 387.3L297 387.5L306 387.1L312 386L318 384.1L325.4 381L331 378L338.3 372L344.4 366L348 360.7L349.5 357L350.6 351L350.5 348L348.5 342L345 335.6L342.8 333L338.7 330L328.1 324L321.1 321L303 316.4L297 315.4L267 315L252 312.9L246 311.7L240 309.6L236.5 309L231 307.2L223.1 306L216 304L210.2 303L207 301.8L198 300L195 298.7L187.3 297L183 295.4L168 291.5L153 288.8L141 287.6L126 285.4L102 281.2L66 270.8L43.3 261L31.9 255L16.7 246L3.6 237L0 233.6L0 193.3L7.6 186L15 180L18 178.3L19.8 180L20.9 189L22.6 195L24.2 198L26.5 201L30 204L33 205.7L39 207.6L42 207.9L48 207.3L51 206.4L55.8 204L59.8 201L62.5 198L64.4 195L66.7 189L67 183L66.6 180L65.6 177L63 172.2L60 168.5L57 165.5L54 162.8L52.6 162L52.2 159L66 154.7L90 144.7L95.7 141L99.4 138L102.5 135L104.8 132L108.8 123L110.4 117L111.8 90L113 81L114.1 78L117 74.2L120 71.7L126 68.5L135 66.3L144 64.6L158.8 63L174 61.9L198 62.7L216 65.6L228 68.4L255 78.1L273 83.8L282 86.1L306 90.4L324 92.3L333 92.7L354 90.5L360 89L366 86.7L372 83.6L384 73.6L393 67.8L396.9 66L408 63.1L411 61.9L420 55.7L423 54.6ZM238.2 552L261 551.1L291 550.8L351 555L402 556.6L411 556.3L435 553.8L465 551.7L492 551.4L501 551.9L504 552.4L510 554.7L516 557.6L522 561.7L525 566.3L526.2 570L527.9 576L528 580.6L527.8 582L525 588.8L522 594.3L519 597.4L507 600.1L480.9 612L444 625.1L408 635.4L381 641.3L372 642.9L363 643.7L309 645.8L225 647.4L150 645.8L90 642.5L66 640.5L51 640.4L48 639.5L45 636.3L44.9 633L46.9 630L52.6 624L59.6 618L65.2 615L78 610L84 607.1L99 596.3L100.8 594L101.7 591L103.1 582L105 574L108 568L111 565.1L117 561.6L123 559.2L126 558.7L156 555.6Z"/>
<path fill="#0000df" stroke="#0000df" stroke-width="0.7" d="M67 6L183 5L222 5.2L276 4.9L393 6.2L411 7.6L419.4 9L426 9.6L471 13.1L531 18.5L606 26.4L612 27.6L625.1 33L630.5 36L638.1 42L641.3 45L643.7 48L645.1 51L647 60L647 66L644.1 78L641.2 87L630 110.1L623 129L621.6 135L620.7 141L619.8 150L619.7 156L622.5 177L625.3 189L628.8 201L630.9 207L645 240.3L647 246L648.1 252L648.7 264L648 270.5L645 281.8L642 289.1L636 300.4L633 304L630 305.3L627 304.3L624 304.7L621 314.8L620.6 324L621.3 330L624.1 342L625.9 348L628.2 354L638.4 372L650.2 390L652.9 396L654.8 405L657.2 420L658.7 456L659.7 465L661 468L663 469.9L666 471.6L668 474L667.1 477L666 478.3L663 480.3L660 481.7L657 484.3L645.7 498L641.5 504L637.9 510L636.5 513L634.8 519L634.7 522L636 525.8L639 530.5L642 533.8L645 535.6L648 537L654 538.7L662.5 540L666 541.4L682.2 546L686.9 549L693 555L694.7 558L696 561.6L698.7 576L698.7 582L697.2 591L695.1 600L695.4 603L697.9 606L701.7 609L711.4 615L720.6 618L768 627.3L837 634.4L852 635.5L918 637.7L933 637.9L1005 636.8L1080 632.8L1092 631.4L1137 624.6L1182 615.7L1191 613.5L1230 601.5L1251 594.5L1299 576.9L1331 566.4L1331 655.7L0 655.7L0 544.1L5.5 540L26.2 522L33 514.9L35.6 510L35.4 507L34.1 504L32.2 501L30 498.7L3.5 480L0 478.1L0 376.1L21 364.3L27 361.4L42 356.1L54 352.9L72 351.6L81 351.6L132 360.2L159 361.9L174 362L201 360.4L225 356.5L231 354.6L235.8 351L238 348L238.3 345L236.5 342L229.6 336L224.8 333L218.9 330L197.7 321L172 312L162 309.6L96 298.5L72 291.4L51 283.6L33 277.9L24 274.6L0 264.7L0 233.6L3.6 237L16.7 246L31.9 255L43.3 261L66 270.8L102 281.2L126 285.4L141 287.6L153 288.8L168 291.5L183 295.4L187.3 297L195 298.7L198 300L207 301.8L210.2 303L216 304L223.1 306L231 307.2L236.5 309L240 309.6L246 311.7L252 312.9L267 315L297 315.4L303 316.4L321 321L327 323.5L333.6 327L338.7 330L342.8 333L345.3 336L348 340.9L349.8 345L350.5 348L350.2 354L348.4 360L346.7 363L344.4 366L338.3 372L331 378L325.4 381L315 385.1L306 387.1L297 387.5L291 387.3L261 382.5L246 380.6L237 380L120 380.4L111 379.8L102 378.3L90 379L78 379.1L72 380.4L63 384.2L57.4 387L52.5 390L25.3 411L22.1 414L19.6 417L16.1 423L15.2 426L15.3 429L17.7 435L19.7 438L22.5 441L27 443.6L36 447L57 452.1L66 453.6L87 456.1L102 458.4L133.6 465L138 466.4L159.8 471L180 477.9L183 479.2L213.3 489L261 502.4L285 506.5L303 508.4L318 508.6L345 506.3L360 504.5L384 500.1L405 495.3L443.1 489L456 487.6L480 488.5L495 490.8L500.1 492L507.7 495L528 504.7L534 506.1L537 506.5L540 506.3L543 505.4L549 502.6L558 496.9L561 494.6L564 490.8L567 485.8L570 478.6L571.1 474L570.8 468L569 459L563.7 441L562.8 435L562.7 429L563.7 417L565.2 408L576 369.6L578.9 357L582.2 339L584.7 318L586.4 309L586.8 300L586.3 282L581 261L578.5 255L572.3 243L568.8 237L561 225.3L556.1 219L552 214.6L546 208.7L540 203.9L531 198.9L525 196.5L522 195.8L507 194.5L489 195.6L483 195.3L480 193.8L477.5 192L475.6 189L476.1 186L477 185.4L480 184.6L492 183.3L504 181.1L513 178.1L522 173.9L528 170.1L534 164.4L540 157.1L542.6 153L546 145.5L549 137L550.9 126L551.7 114L550.5 102L549 96L544.5 87L542.4 84L539.5 81L531.6 75L525 71L519 68.4L501 61.8L492 59.4L474 55.6L462 54.2L447 53.2L432 53.6L423 54.6L417.9 57L411 61.9L408 63.1L396.9 66L393 67.8L384 73.6L372 83.6L366 86.7L360 89L354 90.5L333 92.7L324 92.3L306 90.4L282 86.1L273 83.8L255 78.1L228 68.4L218.2 66L201 63L186 62.1L171 62L147 64.2L138 65.7L129 67.6L124.8 69L120 71.7L116.2 75L114 78.1L113 81L112 87L110.4 117L108.8 123L106.4 129L104.8 132L102.5 135L95.7 141L91.2 144L87 146.1L72 151.9L66 154.7L52.2 159L52.6 162L54 162.8L60 168.5L63 172.2L65.6 177L67 183L66.7 189L65.8 192L63 197.2L60 200.8L57 203.2L54 205.1L48 207.3L42 207.9L39 207.6L33 205.7L30 204L26.5 201L24.2 198L22.6 195L21.5 192L19.8 180L18 178.3L15 180L7.6 186L0 193.3L0 7.7L9 7ZM240 552L156 555.6L126 558.7L123 559.2L117 561.6L111 565.1L108 568L105 574L103.1 582L101.7 591L100.8 594L99 596.3L84 607.1L78 610L65.2 615L59.6 618L52.6 624L46.9 630L44.9 633L45 636.3L48 639.5L51 640.4L66 640.5L90 642.5L150 645.8L225 647.4L309 645.8L363 643.7L372 642.9L381 641.3L408 635.4L444 625.1L480.9 612L507 600.1L519 597.4L522 594.3L525 588.8L527.8 582L528 580.6L527.9 576L526.2 570L525 566.3L522 561.7L516 557.6L510 554.7L504 552.4L501 551.9L492 551.4L465 551.7L435 553.8L411 556.3L402 556.6L351 555L291 550.8L261 551.1ZM1315.4 9L1331 7L1331 74.7L1326.5 72L1317 67.9L1314 66.2L1305 59.5L1299 54L1290.1 45L1285.9 39L1283.3 33L1282.7 30L1282.8 27L1283.6 24L1285.1 21L1287 18.6L1290 16.1L1293 14.6L1302 11.5L1308 10.1ZM1330.1 90L1331 89.1L1331 268L1328.4 267L1318.8 261L1290 239.8L1284 234.9L1279.9 231L1274.7 225L1269 216L1267.3 210L1266.7 204L1267.1 198L1267.8 195L1270.2 189L1277.6 177L1286.3 165L1290.5 156L1293 146.8L1294.5 132L1295.4 126L1297.7 117L1300.1 111L1305 104.3L1311 99L1317 95.3L1326 92ZM1329.9 390L1331 389.2L1331 461.7L1320 453.8L1317 450.9L1314.1 447L1311 441L1304.2 432L1302.9 429L1302.2 426L1302.1 423L1302.4 420L1304.2 414L1307.6 408L1310 405L1317 398.8Z"/>
<path fill="#000cff" stroke="#000cff" stroke-width="0.7" d="M0 0L1331 0L1331 7L1308 10.1L1296 13.5L1292.1 15L1287.6 18L1285.1 21L1283.6 24L1282.8 27L1282.7 30L1283.3 33L1284.4 36L1287.8 42L1292.9 48L1305 59.5L1311 64.2L1317 67.9L1326.5 72L1331 74.7L1331 89.1L1330.1 90L1326 92L1317 95.3L1311 99L1305 104.3L1300.1 111L1297.7 117L1295.4 126L1294.5 132L1293 146.8L1290.5 156L1286.3 165L1277.6 177L1270.2 189L1267.8 195L1267.1 198L1266.7 204L1267.3 210L1269 216L1274.7 225L1279.9 231L1284 234.9L1290 239.8L1318.8 261L1328.4 267L1331 268L1331 301.1L1329 298.2L1325 294L1312.1 282L1296 268.6L1281 257L1272 248.9L1263 242.1L1245.6 228L1200 195.2L1188 184.5L1185 181.4L1182.1 177L1174.3 159L1166.6 144L1164 140.7L1158 135L1149 128L1143 125.1L1125 118.5L1096.5 111L1076.4 105L1068.3 102L1062.3 99L1059 96.4L1056 97.9L1055.5 99L1053 100.8L1052.1 102L1043.2 108L1036.6 111L1032 112.3L1026 113L1020 112.2L1017 111L1013.3 108L1011.5 105L1010.8 102L1011 99L1011.7 96L1014 91.1L1017 86.2L1020 82.3L1023 79.1L1026 76.7L1032 73.5L1035 72.6L1041 72.4L1044 73.1L1047.9 75L1051.6 78L1054 81L1059 91.4L1065 89.4L1074 87.5L1089 85.7L1104 84.7L1107 83.8L1108.9 81L1110.6 72L1113 67.1L1116 63.9L1118.1 63L1121 60L1119 59.1L1116 57L1108.1 54L1082.8 48L1065 44.4L1024.2 39L1011 38L972 36.6L924 36.7L918 37.5L912.6 39L894 45.7L882 49.2L870 51.6L843 55.1L831 57.1L822 59.4L810 64.1L792 72.8L783 78.1L765 91.8L749.1 105L738 113.5L732 119.2L729 124.2L727.7 129L726.7 141L728 147L732 154.8L738 163.6L747 176.2L755 186L756 187.7L759 198.8L759 204.8L758.2 207L756 210L753.2 213L747 219L738 226L726 236.5L711 251.7L696 265.3L691.4 270L687 275.4L678.4 288L663 308.1L659.6 315L657.8 321L657.4 324L658 330L659.5 336L661.8 342L665.2 348L675 359.4L682.3 366L706.5 390L711 395.1L714 399.4L717 406.8L717.7 411L717.6 414L716.9 417L714 424.3L712 432L711.3 438L711.3 444L714 457.7L715.7 462L717 467L720 471.9L725.3 477L726 478.3L729 476.8L732 476.7L741 482.9L753 492.9L756.1 495L766.7 504L769.2 507L771 510.4L772.5 516L774 518.7L777.4 528L777.7 540L777.4 552L778.8 561L780 564.6L783 570.5L791.7 582L801 591L805 594L810 595.7L826.7 603L855.2 612L861 613.6L868.9 615L909 620.1L918 620.8L963 619.5L981 618.1L1023 613.6L1047 609.9L1050.9 609L1053 607.9L1055.3 606L1057.5 603L1058.9 600L1059.7 597L1059.6 594L1058.8 591L1054.3 579L1053.8 576L1053.9 573L1056.3 567L1059 562.5L1062.5 558L1068 553.5L1074 550.3L1095 541.4L1128 530L1134 526.9L1135.7 525L1136.8 522L1135.5 519L1134 516.4L1126.3 507L1122.3 501L1119.6 495L1118.9 492L1119.1 486L1120.2 483L1123.6 477L1127.8 474L1135.9 471L1149 467.2L1161 465L1176 463.5L1194 462.8L1230 462.4L1251 460.1L1266 457.3L1275 456.2L1278 456.7L1282.1 459L1287 460.1L1290 460L1293 459L1296 456.4L1299 450.7L1299 448.3L1298.5 447L1296 446.3L1291 447L1284.4 450L1281 452.1L1276.7 453L1275 454.5L1273.3 453L1263 451L1260 450L1258.4 447L1258.3 444L1260.3 429L1262.5 420L1266.2 411L1270 405L1272.5 402L1281.5 393L1305 375L1314.8 366L1320.4 360L1325.3 354L1329 348.1L1331 343.7L1331 389.2L1317 398.8L1310 405L1307.6 408L1304.2 414L1302.4 420L1302.1 423L1302.2 426L1302.9 429L1304.2 432L1311 441L1314.1 447L1317 450.9L1320 453.8L1331 461.7L1331 566.4L1299 576.9L1251 594.5L1230 601.5L1191 613.5L1182 615.7L1137 624.6L1092 631.4L1080 632.8L1005 636.8L933 637.9L918 637.7L852 635.5L837 634.4L768 627.3L720.6 618L711.4 615L701.7 609L697.9 606L695.4 603L695.1 600L697.2 591L698.7 582L698.7 576L696 561.6L694.7 558L693 555L686.9 549L682.2 546L666 541.4L662.5 540L654 538.7L648 537L645 535.6L642 533.8L639 530.5L636 525.8L634.7 522L634.8 519L636.5 513L637.9 510L641.5 504L645.7 498L657 484.3L660 481.7L663 480.3L666 478.3L667.1 477L668 474L666 471.6L663 469.9L661 468L659.7 465L658.7 456L657.2 420L654.8 405L652.9 396L650.2 390L638.4 372L628.2 354L625.9 348L624.1 342L621.3 330L620.6 324L621 314.8L624 304.7L627 304.3L630 305.3L633 304L636 300.4L642 289.1L645 281.8L648 270.5L648.7 264L648.1 252L647 246L645 240.3L630.9 207L628.8 201L625.3 189L622.5 177L619.7 156L619.8 150L620.7 141L621.6 135L623 129L630 110.1L641.2 87L644.1 78L647 66L647 60L645 50.9L643.7 48L641.3 45L634.7 39L630 35.7L621 31.2L612 27.6L606 26.4L531 18.5L471 13.1L426 9.6L419.4 9L411 7.6L393 6.2L285 5L222 5.2L186 4.9L87 5.6L9 7L0 7.7ZM1125 62.3L1124 63L1125 63.6L1131 78L1134 81.1L1137 81.9L1143 82.3L1146 82.3L1149 81.7L1155 80.1L1158.9 78L1162 75L1161.6 72L1159.4 69L1154.8 66L1149 63.4L1128 61.5ZM0 267L0 264.7L24 274.6L33 277.9L51 283.6L72 291.4L96 298.5L162 309.6L172 312L198 321.1L212.1 327L224.8 333L229.6 336L236.5 342L238.3 345L238 348L235.8 351L232.1 354L228 355.7L222.8 357L198 360.7L171 362.1L156 361.8L132 360.2L81 351.6L75 351.5L57 352.5L48 354.3L30 360.1L21 364.3L0 376.1ZM1094.8 450L1098 450.4L1101 451.6L1103.7 453L1107.3 456L1109.7 459L1111.4 462L1112.4 465L1112 468L1110 469.4L1107 469.1L1104 467.8L1101 465.9L1096.6 462L1092 456.1L1091.3 453L1092 451.5ZM0 480L0 478.1L3.5 480L30 498.7L32.2 501L34.1 504L35.4 507L35.6 510L33 514.9L26.2 522L5.5 540L0 544.1Z"/>
<path fill="#0044ff" stroke="#0044ff" stroke-width="0.7" d="M912.6 39L921 36.9L930 36.5L972 36.6L1020 38.6L1071 45.5L1096.2 51L1108.1 54L1116 57L1119 59.1L1121 60L1118.1 63L1116 63.9L1113 67.1L1110.6 72L1108.9 81L1107 83.8L1104 84.7L1089 85.7L1074 87.5L1065 89.4L1059 91.4L1054 81L1051.6 78L1047.9 75L1044 73.1L1041 72.4L1035 72.6L1032 73.5L1026 76.7L1023 79.1L1020 82.3L1017 86.2L1014 91.1L1011.7 96L1011 99L1010.8 102L1011.5 105L1013.3 108L1017 111L1020 112.2L1026 113L1032 112.3L1036.6 111L1043.2 108L1052.1 102L1053 100.8L1055.5 99L1056 97.9L1059 96.4L1062.3 99L1068.3 102L1076.4 105L1096.5 111L1125 118.5L1143 125.1L1149 128L1158 135L1164 140.7L1166.6 144L1174.3 159L1182.1 177L1185 181.4L1188 184.5L1200 195.2L1245.6 228L1263 242.1L1272 248.9L1281 257L1296 268.6L1312.1 282L1325 294L1329 298.2L1331 301.1L1331 343.7L1327.4 351L1320.4 360L1311 369.7L1305 375L1281.5 393L1272.5 402L1267.9 408L1264.7 414L1262.5 420L1260.9 426L1258.3 444L1258.4 447L1260 450L1263 451L1273.3 453L1275 454.5L1276.7 453L1281 452.1L1284.4 450L1291 447L1296 446.3L1298.5 447L1299.2 450L1296 456.4L1293 459L1290 460L1287 460.1L1284 459.5L1282.1 459L1278 456.7L1275 456.2L1266 457.3L1251 460.1L1230 462.4L1185 463L1170 464.1L1161 465L1146 467.9L1135.9 471L1127.8 474L1123.6 477L1120.2 483L1119.1 486L1118.9 492L1119.6 495L1122.3 501L1126.3 507L1134 516.4L1135.5 519L1136.8 522L1135.7 525L1134 526.9L1128 530L1095 541.4L1074 550.3L1068 553.5L1062.5 558L1059 562.5L1056.3 567L1053.9 573L1053.8 576L1054.3 579L1058.8 591L1059.6 594L1059.7 597L1058.9 600L1057.5 603L1055.3 606L1053 607.9L1050 609.3L1020 614L972 618.9L927 620.6L915 620.6L870 615.1L861 613.6L826.7 603L810 595.7L805 594L797.6 588L789.1 579L783 570.5L780 564.6L778.1 558L777.4 552L777.7 540L777.4 528L774 518.7L772.5 516L771 510.4L768 505.3L756.1 495L753 492.9L741 482.9L732 476.7L729 476.8L726 478.3L725.3 477L720 471.9L717 467L715.7 462L714 457.7L711.3 444L711.3 438L712 432L714 424.3L716.9 417L717.6 414L717.7 411L717 406.8L714 399.4L711 395.1L705 388.5L682.3 366L675 359.4L669 352.7L663.2 345L660.6 339L658.7 333L657.6 327L657.4 324L658.6 318L660.9 312L663 308.1L666.6 303L678.4 288L687 275.4L694.2 267L711 251.7L726 236.5L738 226L747 219L753.2 213L756 210L758.2 207L759 204.8L759 198.8L756 187.7L755 186L747 176.2L738 163.6L732 154.8L728 147L726.7 141L727.7 129L729 124.2L732 119.2L738 113.5L749.1 105L765 91.8L783 78.1L792 72.8L807 65.4L822 59.4L831 57.1L843 55.1L870 51.6L882 49.2L894 45.7ZM882 131.8L876 133.4L867 137.3L846 148.9L840 153L836.7 156L834 159.3L832.7 162L830.4 171L828.2 177L826.8 180L824.7 183L821.7 186L814.6 192L810.4 195L780 214.3L759.9 228L741 244.4L733.9 252L723.5 264L718.9 270L715 276L710.5 285L703.5 297L700.5 303L698 312L697.3 318L697.5 321L699 326.7L702 335L705 340.3L708 343.9L714 347.6L729 359L731 360L750 373.3L756 376.7L766.8 381L792.8 396L800.8 402L807.1 408L809.9 414L811.1 420L811 423L809.7 426L807.3 429L795.7 441L792 445.7L789.3 450L788.4 453L788.2 456L789 460.7L790.7 465L792 467.1L795 470.1L801.4 474L810 476.6L819 478.1L825 479.6L834 481L858 482.9L867 484.2L870 485.2L873 487L879 492L881.4 495L883 498L884.5 504L883.2 513L882 516.4L880.5 519L873.7 528L869.9 534L865.7 543L864.9 546L864.6 549L866 552L868.7 555L878 561L885 563.8L891 565.1L915 568.2L924 569L933 568.6L960 565.2L969 563.3L990 553.1L996 549.2L1001.6 543L1005.5 537L1008.8 531L1010.9 525L1011.6 522L1013 507L1014.8 498L1017 492L1022.3 480L1023.6 471L1023 465.6L1021.9 462L1020 458.7L1014.8 453L1010.9 450L1003.5 447L999 446.7L996 447.3L993 446.9L990 445.6L986.9 444L974.3 435L972.5 432L973.1 429L975.3 426L978.6 423L984.2 420L993.5 417L1011 414.3L1038 412.2L1089 406.6L1122 400.9L1134 399.3L1164 393.7L1200 392.9L1218 391.1L1227 389.3L1242 385.1L1248 382.8L1251 381L1254.5 378L1269 369.7L1275 365.8L1278.4 363L1284 357.5L1288.7 351L1291.8 345L1294 339L1295.2 333L1296.1 324L1296 321L1294.7 315L1293.4 312L1287 303.4L1280.9 297L1264.7 282L1245 265L1215 243.4L1188 223.2L1170 211L1164 207.9L1161 206.8L1158 206.1L1155 206.3L1152 207.3L1148.3 207L1137 202.3L1125 199.7L1101 199.1L1088.3 198L1074 195L1070.4 192L1068.6 189L1069.1 186L1071 183.2L1074 180.9L1095 175.9L1098 174.8L1102.7 174L1110 171.8L1113 170.1L1114.6 168L1116 163.8L1115.9 159L1114.3 156L1112.1 153L1109.1 150L1104 146.2L1101 144.7L1092 143.3L1083 140.9L1054.5 135L1044 133.7L1017 131.3L984 129.6L924 132.5L906 130.8L897 130.3L888 130.8ZM1095 450L1092 451.5L1091.3 453L1092 456.1L1096.6 462L1101 465.9L1104 467.8L1107 469.1L1110 469.4L1112 468L1112.4 465L1111.4 462L1109.7 459L1107.3 456L1103.7 453L1101 451.6L1098 450.4ZM1124 63L1125 62.3L1128 61.5L1149 63.4L1154.8 66L1159.4 69L1161.6 72L1162 75L1158.9 78L1155 80.1L1149 81.7L1146 82.3L1143 82.3L1137 81.9L1134 81.1L1131 78L1125 63.6ZM862.9 432L867 430.4L870 429.9L876 429.8L882 430.9L885.6 432L891.2 435L894.6 438L895.3 441L893.1 444L885 449.1L882 450L879 450.3L876 449.8L870 447.5L867 445.6L862.2 441L860.5 438L860.4 435Z"/>
<path fill="#0080ff" stroke="#0080ff" stroke-width="0.7" d="M881.2 132L888 130.8L897 130.3L906 130.8L921 132.4L927 132.4L984 129.6L1017 131.3L1044 133.7L1054.5 135L1083 140.9L1092 143.3L1101 144.7L1104 146.2L1109.1 150L1112.1 153L1114.3 156L1115.9 159L1116 163.8L1114.6 168L1113 170.1L1110 171.8L1102.7 174L1098 174.8L1095 175.9L1074 180.9L1071 183.2L1069.1 186L1068.6 189L1070.4 192L1074 195L1088.3 198L1101 199.1L1125 199.7L1137 202.3L1148.3 207L1152 207.3L1155 206.3L1158 206.1L1161 206.8L1164 207.9L1170 211L1188 223.2L1215 243.4L1245 265L1264.7 282L1280.9 297L1287 303.4L1293.4 312L1294.7 315L1296 321L1296.1 324L1295.2 333L1294 339L1291.8 345L1288.7 351L1284 357.5L1278.4 363L1275 365.8L1269 369.7L1254.5 378L1251 381L1248 382.8L1242 385.1L1227 389.3L1218 391.1L1200 392.9L1164 393.7L1134 399.3L1122 400.9L1089 406.6L1038 412.2L1011 414.3L993.5 417L984.2 420L978.6 423L975.3 426L973.1 429L972.5 432L974.3 435L986.9 444L990 445.6L993 446.9L996 447.3L999 446.7L1003.5 447L1010.9 450L1014.8 453L1020 458.7L1021.9 462L1023 465.6L1023.6 471L1022.3 480L1017 492L1014.8 498L1013 507L1011.6 522L1010.9 525L1008.8 531L1005.5 537L1001.6 543L996 549.2L990 553.1L969 563.3L960 565.2L933 568.6L924 569L915 568.2L891 565.1L885 563.8L878 561L868.7 555L866 552L864.6 549L864.9 546L865.7 543L869.9 534L873.7 528L880.5 519L882 516.4L883.2 513L884.5 504L883 498L881.4 495L879 492L873 487L870 485.2L867 484.2L858 482.9L834 481L825 479.6L819 478.1L810 476.6L801.4 474L795 470.1L792 467.1L790.7 465L789 460.7L788.2 456L788.4 453L789.3 450L792 445.7L795.7 441L807.3 429L809.7 426L811 423L811.1 420L809.9 414L807.1 408L800.8 402L792.8 396L766.8 381L756 376.7L750 373.3L731 360L729 359L714 347.6L708 343.9L705 340.3L702 335L699 326.7L697.5 321L697.3 318L698 312L700.5 303L703.5 297L710.5 285L715 276L718.9 270L723.5 264L739.4 246L747 238.9L759.9 228L780 214.3L810.4 195L814.6 192L821.7 186L824.7 183L826.8 180L828.2 177L830.4 171L832.7 162L834 159.3L836.7 156L840 153L846 148.9L867 137.3L873 134.6ZM891 164.5L885 165.9L882 167.1L879 168.6L876 170.8L873 173.8L862.6 186L858.8 189L854 192L848.3 195L825 204.9L809.1 213L789 225L780.4 231L768.5 240L753 255.1L739.1 273L735.5 279L732 286.2L728 297L726.4 306L726.2 312L726.7 318L729 326.6L735 338.6L737.3 342L748.8 354L754.9 360L756 360.6L759 362.1L765 361.5L768 362.1L777 366.8L801 381.1L813 387L819 390.9L823.6 396L828 399L831 400.6L840 403.9L849 406.5L873 412.2L897 414.9L912 415.9L921 416.1L936 415.5L942 414.9L954 412L966 410.5L993 405.8L1047 400.1L1071 395.8L1092 390.9L1122 382L1146 373.4L1164 368.2L1173 366.1L1218 358.6L1233 355.1L1242 352.2L1251 348.5L1254 346.4L1259.2 342L1261.4 339L1262.8 336L1264.5 330L1265.1 324L1264.9 321L1263.1 315L1260 309L1255.9 303L1245.4 291L1233 279.6L1221.5 270L1179 238.5L1172.6 234L1155.9 225L1152 223.2L1143 220.1L1127.7 216L1119 214.4L1101 212.4L1095 211L1080 205.9L1071 202.1L1056 193L1050 189.7L1044 187.1L1026 180.9L1017 178.2L1002 174.4L981 169.9L948 166L909 163.4L900 163.7ZM864 431.5L862.9 432L860.4 435L860.5 438L862.2 441L867 445.6L870 447.5L876 449.8L879 450.3L882 450L885 449.1L893.1 444L895.3 441L894.6 438L891.2 435L885.6 432L882 430.9L879 430.2L873 429.8L867 430.4Z"/>
<path fill="#00b8ff" stroke="#00b8ff" stroke-width="0.7" d="M888.3 165L897 163.9L909 163.4L921 164.5L942 165.6L957 166.9L978 169.4L996 173.1L1017 178.2L1044 187.1L1050 189.7L1056 193L1071 202.1L1080 205.9L1095 211L1101 212.4L1119 214.4L1127.7 216L1143 220.1L1152 223.2L1158 226L1167.3 231L1173 234.3L1179 238.5L1221.5 270L1233 279.6L1245.4 291L1255.9 303L1260 309L1263.1 315L1264.9 321L1265.1 324L1264.5 330L1262.8 336L1261.4 339L1259.2 342L1254 346.4L1251 348.5L1242 352.2L1233 355.1L1218 358.6L1173 366.1L1164 368.2L1146 373.4L1122 382L1092 390.9L1071 395.8L1047 400.1L993 405.8L966 410.5L954 412L942 414.9L936 415.5L921 416.1L912 415.9L897 414.9L873 412.2L849 406.5L840 403.9L831 400.6L828 399L823.6 396L819 390.9L813 387L801 381.1L777 366.8L768 362.1L765 361.5L759 362.1L756 360.6L754.9 360L748.8 354L737.3 342L735 338.6L729 326.6L726.7 318L726.2 312L726.4 306L728 297L732 286.2L735.5 279L739.1 273L753 255.1L768.5 240L780.4 231L789 225L809.1 213L825 204.9L848.3 195L858.8 189L862.6 186L865.5 183L873 173.8L876 170.8L879 168.6L882 167.1ZM912 188.8L903 189.9L891 192.2L885 193.6L876 196.6L846 208.2L834 213.9L822 220.6L813 226.7L803.5 234L796.4 240L790.1 246L784.9 252L778.2 261L773 270L768.9 279L765.6 291L764.5 300L764.7 306L765.3 309L766.2 312L768 315.8L771 319.2L774 321.4L780 323.5L786 324.3L798 327.7L802.7 330L806.5 333L811.3 339L813 342.5L816 351L819.3 366L820.6 369L825.6 378L828 381.4L831 384.6L837 388.4L843 391.2L866.8 399L885 403.4L906 406.6L915 407.1L924 407.2L933 407.1L942 406.1L946.2 405L951 402.7L954 401.7L960 400.9L972 400.2L981 399.2L990 397.7L1017 395.2L1041 391.8L1059 388.1L1074 384.4L1095 378.7L1116 371.9L1125 368.7L1146 360L1167 352.3L1194 344.3L1203 341L1212.8 339L1221 333.8L1223.2 333L1224 332.1L1227 330.8L1233 330L1239 327.5L1242.3 324L1241.6 321L1239 319L1233 316.2L1230 314L1225.8 306L1221 300.1L1215 296.1L1206 291.9L1200.8 288L1186.6 279L1175.9 270L1170 266.7L1166.8 264L1164 262.5L1152 252L1143 246.1L1137 242.8L1134 242L1122 240.4L1111.3 237L1101 233.2L1081.6 225L1069.6 219L1068 217.5L1065.1 216L1062 213.7L1059.7 213L1056 211.1L1051.5 207L1046.1 204L1038 201.3L1023 197.2L990 190L981 190L971.1 189L960 186.9L954 186.5L951 186.6L945 188.2L942 188.4L924 188.2Z"/>
<path fill="#09f0ee" stroke="#09f0ee" stroke-width="0.7" d="M910.5 189L921 188.3L942 188.4L945 188.2L951 186.6L954 186.5L960 186.9L971.1 189L981 190L990 190L1023 197.2L1038 201.3L1046.1 204L1051.5 207L1056 211.1L1059.7 213L1062 213.7L1065.1 216L1068 217.5L1069.6 219L1081.6 225L1101 233.2L1111.3 237L1122 240.4L1134 242L1137 242.8L1143 246.1L1152 252L1164 262.5L1166.8 264L1170 266.7L1175.9 270L1186.6 279L1200.8 288L1206 291.9L1215 296.1L1221 300.1L1225.8 306L1230 314L1233 316.2L1239 319L1241.6 321L1242.3 324L1239 327.5L1233 330L1227 330.8L1224 332.1L1223.2 333L1221 333.8L1212.8 339L1203 341L1194 344.3L1167 352.3L1146 360L1125 368.7L1116 371.9L1095 378.7L1074 384.4L1059 388.1L1041 391.8L1017 395.2L990 397.7L981 399.2L972 400.2L960 400.9L954 401.7L951 402.7L946.2 405L942 406.1L933 407.1L924 407.2L915 407.1L906 406.6L885 403.4L866.8 399L843 391.2L837 388.4L831 384.6L828 381.4L825.6 378L820.6 369L819.3 366L816 351L813 342.5L811.3 339L806.5 333L802.7 330L798 327.7L786 324.3L780 323.5L774 321.4L771 319.2L768 315.8L766.2 312L765.3 309L764.7 306L764.5 300L765.6 291L768.9 279L773 270L778.2 261L784.9 252L790.1 246L796.4 240L803.5 234L813 226.7L822 220.6L834 213.9L846 208.2L876 196.6L888 192.8L897 190.9ZM921 197.9L906 199.2L885 203.4L858.5 213L846 218.2L838.3 222L828.4 228L822 232.4L816.3 237L809.8 243L804.5 249L800.5 255L797.3 261L795 267L794 273L793.8 279L794.9 285L797.1 291L800.9 297L803.7 300L807.3 303L812.4 306L816 307.3L825 309.7L834 311.1L849 312.4L876 313.5L896 315L900 317.9L894.5 321L882 325.8L873 329.9L864 335.7L858 340.4L854.1 345L850.4 351L849 354L847.9 360L848.1 363L848.9 366L850.6 369L856.7 375L860.5 378L864.8 381L870.2 384L882 388.8L894 392.3L912 395.1L933 396L939 395.7L942 395.1L951 391.7L954 391.3L966 391.2L999 389.4L1020 387.1L1037.3 384L1063.9 378L1080 373.5L1092 371.7L1107 365.5L1122 358.1L1128 354L1134 347.7L1143.4 339L1145.5 336L1146 334.1L1149 328.8L1152 328L1158 330.5L1161 331.4L1164 331.4L1167 330.9L1170 329.5L1173 327L1174.6 324L1175.1 321L1174.5 318L1172.8 315L1170 312.3L1167 310.6L1164 309.6L1158 308.8L1155 307.2L1152 303.8L1145.3 294L1143 292.2L1140 291L1136.7 288L1135.1 285L1132.7 276L1130 270L1125.1 261L1120.5 255L1114.1 249L1110.2 246L1105.4 243L1095 237.4L1080 230.8L1065 224.9L1053 220.9L1044 217L1029 212.6L1020 208.8L1011 205.7L996 201.3L987 200.1L981 200.4L954 196.5L951 196.5L942 197.7L930 197.5Z"/>
<path fill="#36ffc1" stroke="#36ffc1" stroke-width="0.7" d="M919.1 198L930 197.5L942 197.7L951 196.5L954 196.5L981 200.4L987 200.1L996 201.3L1011 205.7L1020 208.8L1029 212.6L1044 217L1053 220.9L1065 224.9L1080 230.8L1095 237.4L1105.4 243L1110.2 246L1114.1 249L1120.5 255L1125.1 261L1130 270L1132.7 276L1135.1 285L1136.7 288L1140 291L1143 292.2L1145.3 294L1152 303.8L1155 307.2L1158 308.8L1164 309.6L1167 310.6L1170 312.3L1172.8 315L1174.5 318L1175.1 321L1174.6 324L1173 327L1170 329.5L1167 330.9L1164 331.4L1161 331.4L1158 330.5L1152 328L1149 328.8L1146 334.1L1145.5 336L1143.4 339L1134 347.7L1128 354L1122 358.1L1107 365.5L1092 371.7L1080 373.5L1063.9 378L1037.3 384L1020 387.1L999 389.4L966 391.2L954 391.3L951 391.7L942 395.1L939 395.7L933 396L912 395.1L894 392.3L882 388.8L870.2 384L864.8 381L860.5 378L856.7 375L850.6 369L848.9 366L848.1 363L847.9 360L849 354L850.4 351L854.1 345L858 340.4L864 335.7L873 329.9L882 325.8L894.5 321L900 317.9L896 315L876 313.5L849 312.4L834 311.1L825 309.7L816 307.3L812.4 306L807.3 303L803.7 300L800.9 297L797.1 291L794.9 285L793.8 279L794 273L795 267L797.3 261L800.5 255L804.5 249L809.8 243L816.3 237L822 232.4L828.4 228L838.3 222L846 218.2L858.5 213L885 203.4L906 199.2ZM918 206.9L909 207.8L900 209.4L888 212.2L882 214.1L864 221.3L848.8 228L840 232.9L829.8 240L823.1 246L817.9 252L814 258L810.5 267L809.3 273L809.7 276L812.5 282L816 286.9L819 289.6L822 291.5L826.3 294L831 296L843 299L852 300.3L870 301.1L891 301L915 299.6L951 296.7L981 296.5L983 297L987 299.2L998.9 303L1001.5 306L998.7 309L993 310.2L978 312.4L972 314L969 315.6L966 318.7L961.9 321L954 322.4L950 324L940.1 327L918 332.7L903 338.3L895.3 342L886.6 348L882 352.6L879.1 357L878.3 360L878.6 363L880 366L882.5 369L886.3 372L891.8 375L897 377.3L906 380.1L921 383.1L930 383.9L939 384.1L954 382.6L966 382.6L981 381.6L993 381.6L1017 379L1029 376.9L1062 369.3L1068 367.5L1080 362.7L1095.2 360L1104.2 357L1114.7 351L1119.2 348L1125 342.6L1131 335.9L1134.3 330L1135.9 324L1136.3 321L1135 315L1133.4 312L1126.6 303L1123 297L1120.3 291L1114.6 273L1110 263.7L1107 259.4L1103 255L1095.8 249L1091.3 246L1079.8 240L1057.4 231L1039.2 225L1005 215.6L992.8 210L990 209.5L981 209.8L975 209.3L960 206.8L951 206L942 206.5L927 206.4Z"/>
<path fill="#63ff94" stroke="#63ff94" stroke-width="0.7" d="M917.3 207L927 206.4L942 206.5L951 206L960 206.8L975 209.3L981 209.8L990 209.5L992.8 210L1005 215.6L1039.2 225L1057.4 231L1079.8 240L1091.3 246L1095.8 249L1103 255L1107 259.4L1110 263.7L1114.6 273L1120.3 291L1123 297L1126.6 303L1133.4 312L1135 315L1136.3 321L1135.9 324L1134.3 330L1131 335.9L1125 342.6L1119.2 348L1114.7 351L1104.2 357L1095.2 360L1080 362.7L1068 367.5L1062 369.3L1029 376.9L1017 379L993 381.6L981 381.6L966 382.6L954 382.6L939 384.1L930 383.9L921 383.1L906 380.1L897 377.3L891.8 375L886.3 372L882.5 369L880 366L878.6 363L878.3 360L879.1 357L882 352.6L886.6 348L895.3 342L903 338.3L918 332.7L940.1 327L950 324L954 322.4L961.9 321L966 318.7L969 315.6L972 314L978 312.4L993 310.2L998.7 309L1001.5 306L998.9 303L987 299.2L983 297L981 296.5L951 296.7L915 299.6L891 301L870 301.1L852 300.3L843 299L831 296L826.3 294L822 291.5L819 289.6L816 286.9L812.5 282L809.7 276L809.3 273L810.5 267L814 258L817.9 252L823.1 246L829.8 240L840 232.9L848.8 228L864 221.3L882 214.1L888 212.2L900 209.4L909 207.8ZM927 216L912 217.2L903 218.4L885 223.1L876 226.5L864 231.8L852 238.3L846 242L836.7 249L831 254.8L828.8 258L826.1 264L825.5 267L825.6 270L826.8 273L829.1 276L832.6 279L840 283.3L846 285.6L852 287.3L867 289.6L885 290.7L894 291L918 290L942 288.2L954 286.1L978 285.1L999 285.7L1014 287L1019.7 288L1029 290.8L1035 294L1038.5 297L1040.9 300L1042.5 303L1043.3 306L1043.3 309L1042.4 312L1040.7 315L1037.8 318L1032.7 321L1025.5 324L1012.1 327L990 329.8L981 331.8L954 335.7L951 336.5L945 339.2L927 345L918 349.3L915.4 351L912.5 354L911.2 357L911.3 360L913.3 363L918 365.9L921 366.9L930 369.4L939 370.8L951 372.1L960 372.3L969 372.3L981 371.6L987 372.1L993 372.2L1002 371.4L1020 369L1029 367.4L1050 362.6L1062 361.1L1065 359.9L1068.7 357L1073.7 351L1077 345L1081.6 339L1082.9 336L1083.2 333L1083 330L1080 324.7L1077 323L1074 320.5L1072.5 318L1071 314.8L1069.8 309L1069.9 306L1071.5 300L1080.1 282L1081.3 279L1082.3 273L1081.7 267L1080.7 264L1077.3 258L1074.7 255L1071.2 252L1062 246L1050 240.3L1033.2 234L1014 228.3L987 221.8L981 220.7L954 218L945 216.6Z"/>
<path fill="#94ff63" stroke="#94ff63" stroke-width="0.7" d="M926.6 216L945 216.6L954 218L981 220.7L987 221.8L1014 228.3L1033.2 234L1050 240.3L1062 246L1071.2 252L1074.7 255L1077.3 258L1080.7 264L1081.7 267L1082.3 273L1081.3 279L1080.1 282L1071.5 300L1069.9 306L1069.8 309L1071 314.8L1072.5 318L1074 320.5L1077 323L1080 324.7L1083 330L1083.2 333L1082.9 336L1081.6 339L1077 345L1073.7 351L1068.7 357L1065 359.9L1062 361.1L1050 362.6L1029 367.4L1020 369L1002 371.4L993 372.2L987 372.1L981 371.6L969 372.3L960 372.3L951 372.1L939 370.8L930 369.4L921 366.9L918 365.9L913.3 363L911.3 360L911.2 357L912.5 354L915.4 351L918 349.3L927 345L945 339.2L951 336.5L954 335.7L981 331.8L990 329.8L1012.1 327L1025.5 324L1032.7 321L1037.8 318L1040.7 315L1042.4 312L1043.3 309L1043.3 306L1042.5 303L1040.9 300L1038.5 297L1035 294L1029 290.8L1019.7 288L1014 287L999 285.7L978 285.1L954 286.1L942 288.2L918 290L894 291L885 290.7L867 289.6L852 287.3L846 285.6L840 283.3L832.6 279L829.1 276L826.8 273L825.6 270L825.5 267L826.1 264L828.8 258L831 254.8L836.7 249L846 242L852 238.3L864 231.8L876 226.5L885 223.1L903 218.4L912 217.2ZM987 344.8L984 345.2L975 347.8L971 351L970.9 354L972 354.7L975 355.8L981 357L1002 357.5L1017 356.4L1027.2 354L1032.5 351L1033.9 348L1032 345.8L1030.8 345L1023 343.8L1011 343.3L1002 343.4ZM906 227.6L897 229.5L888 232L882 234.2L870 239.7L859.6 246L855.7 249L849.7 255L847.8 258L846.9 261L847.4 264L849.2 267L852 269.4L855 271.1L859.5 273L869.3 276L885 278.6L906 280.3L918 280.4L936 279.8L943 279L951 276.9L954 276.5L984 275.1L1014 274.5L1026 273.8L1032.6 273L1041 271.7L1047.5 270L1053 267L1054.8 264L1054.6 261L1053.2 258L1049.8 255L1044.9 252L1032.6 246L1025.3 243L1011 238L996.6 234L981 230.3L939 225.6L924 225.6Z"/>
<path fill="#c1ff36" stroke="#c1ff36" stroke-width="0.7" d="M903.9 228L924 225.6L939 225.6L981 230.3L996.6 234L1011 238L1025.3 243L1032.6 246L1044.9 252L1049.8 255L1053.2 258L1054.6 261L1054.8 264L1053 267L1047.5 270L1041 271.7L1032.6 273L1026 273.8L1014 274.5L984 275.1L954 276.5L951 276.9L943 279L936 279.8L918 280.4L906 280.3L885 278.6L869.3 276L859.5 273L855 271.1L852 269.4L849.2 267L847.4 264L846.9 261L847.8 258L849.7 255L855.7 249L859.6 246L870 239.7L885 233L894 230.3ZM918 236.8L903 239.7L893.8 243L887.6 246L883.2 249L880.3 252L878.7 255L878.9 258L881.9 261L888.6 264L899.8 267L909 268.3L921 269.1L936 268.9L945 267.5L951 265.6L954 265.1L975 264.1L1005 261.4L1008 261L1011 259.8L1013.8 258L1014 255L1010.7 252L1004.8 249L996.6 246L981 241.3L972 239.8L954 238.1L948 236.8L942 236.1L927 235.9ZM985.1 345L1002 343.4L1011 343.3L1023 343.8L1030.8 345L1032 345.8L1033.9 348L1032.5 351L1027.2 354L1017 356.4L1002 357.5L981 357L975 355.8L972 354.7L970.9 354L971 351L975 347.8Z"/>
<path fill="#eeff09" stroke="#eeff09" stroke-width="0.7" d="M916.3 237L927 235.9L942 236.1L948 236.8L954 238.1L972 239.8L981 241.3L996.6 246L1004.8 249L1010.7 252L1014 255L1013.8 258L1011 259.8L1008 261L1005 261.4L975 264.1L954 265.1L951 265.6L945 267.5L936 268.9L921 269.1L909 268.3L899.8 267L888.6 264L881.9 261L878.9 258L878.7 255L880.3 252L883.2 249L887.6 246L893.8 243L903 239.7Z"/>
<use href="#coast"/>
</g><rect x="0" y="0" width="1331" height="655.7" fill="none" stroke="#000" stroke-width="3.33"/></g>
<rect x="78.50" y="1816.55" width="74.54" height="65.60" fill="#00009f"/>
<rect x="152.44" y="1816.55" width="74.54" height="65.60" fill="#0000df"/>
<rect x="226.39" y="1816.55" width="74.54" height="65.60" fill="#000cff"/>
<rect x="300.33" y="1816.55" width="74.54" height="65.60" fill="#0044ff"/>
<rect x="374.28" y="1816.55" width="74.54" height="65.60" fill="#0080ff"/>
<rect x="448.22" y="1816.55" width="74.54" height="65.60" fill="#00b8ff"/>
<rect x="522.17" y="1816.55" width="74.54" height="65.60" fill="#09f0ee"/>
<rect x="596.11" y="1816.55" width="74.54" height="65.60" fill="#36ffc1"/>
<rect x="670.06" y="1816.55" width="74.54" height="65.60" fill="#63ff94"/>
<rect x="744.00" y="1816.55" width="74.54" height="65.60" fill="#94ff63"/>
<rect x="817.94" y="1816.55" width="74.54" height="65.60" fill="#c1ff36"/>
<rect x="891.89" y="1816.55" width="74.54" height="65.60" fill="#eeff09"/>
<rect x="965.83" y="1816.55" width="74.54" height="65.60" fill="#ffcc00"/>
<rect x="1039.78" y="1816.55" width="74.54" height="65.60" fill="#ff9400"/>
<rect x="1113.72" y="1816.55" width="74.54" height="65.60" fill="#ff6000"/>
<rect x="1187.67" y="1816.55" width="74.54" height="65.60" fill="#ff2d00"/>
<rect x="1261.61" y="1816.55" width="74.54" height="65.60" fill="#df0000"/>
<rect x="1335.56" y="1816.55" width="73.94" height="65.60" fill="#9f0000"/>
<rect x="78.5" y="1816.55" width="1331" height="65.6" fill="none" stroke="#000" stroke-width="3.33"/>
<path d="M78.50 1882.15v15.2" stroke="#000" stroke-width="3.33"/>
<text transform="translate(66.28,1943.55) scale(0.9937,1)" font-size="44.2">0</text>
<path d="M226.39 1882.15v15.2" stroke="#000" stroke-width="3.33"/>
<text transform="translate(214.70,1943.55) scale(0.9379,1)" font-size="44.2">5</text>
<path d="M374.28 1882.15v15.2" stroke="#000" stroke-width="3.33"/>
<text transform="translate(348.87,1943.55) scale(1.0364,1)" font-size="44.2">10</text>
<path d="M522.17 1882.15v15.2" stroke="#000" stroke-width="3.33"/>
<text transform="translate(496.81,1943.55) scale(1.0196,1)" font-size="44.2">15</text>
<path d="M670.06 1882.15v15.2" stroke="#000" stroke-width="3.33"/>
<text transform="translate(644.35,1943.55) scale(1.0439,1)" font-size="44.2">20</text>
<path d="M817.94 1882.15v15.2" stroke="#000" stroke-width="3.33"/>
<text transform="translate(792.28,1943.55) scale(1.0276,1)" font-size="44.2">25</text>
<path d="M965.83 1882.15v15.2" stroke="#000" stroke-width="3.33"/>
<text transform="translate(940.72,1943.55) scale(1.0289,1)" font-size="44.2">30</text>
<path d="M1113.72 1882.15v15.2" stroke="#000" stroke-width="3.33"/>
<text transform="translate(1088.63,1943.55) scale(1.0127,1)" font-size="44.2">35</text>
<path d="M1261.61 1882.15v15.2" stroke="#000" stroke-width="3.33"/>
<text transform="translate(1236.10,1943.55) scale(1.0386,1)" font-size="44.2">40</text>
<path d="M1409.50 1882.15v15.2" stroke="#000" stroke-width="3.33"/>
<text transform="translate(1384.00,1943.55) scale(1.0227,1)" font-size="44.2">45</text>
<text transform="translate(88.32,2078.20) scale(1.0684,1)" font-size="53.0">Plasmasphere (h=1500.0 km), 2008-03-19 08:00 UT</text>
<g transform="translate(78.5,2102.4)"><g clip-path="url(#mc)">
<rect width="1331.0" height="655.7" fill="#0000df"/><path fill="#0000df" stroke="#0000df" stroke-width="0.7" d="M0 0L1331 0L1331 130.2L1326 130.4L1296 129.9L1248 130L1227 129.6L1188 131.8L1179 133.3L1167 136.5L1161 138.8L1152 143.8L1146 149.6L1143.5 153L1141.9 156L1141 159L1136.4 177L1133.3 186L1127.9 195L1122.7 201L1115.9 207L1110.9 210L1104.7 213L1095 215.6L1086 216.5L1077 216.3L1065 214.8L1050 211L1044 208.6L1038 207L1022.9 201L966 176.2L945 168.9L936 166.6L927 165L915 163.4L903 162.5L831 158.9L822 157.7L813 157.6L801 156.5L762 156.3L720 157.7L693 159.7L663 162.6L636 164.3L540 164.9L453 166L420 167L411 166.4L402 167.4L393 167.7L357 170.5L342 170.9L312 170.5L282 168.3L230.2 162L144 150.5L82.8 144L39 138L6 132.7L0 131.3ZM1034.7 468L1053 467.2L1080 466.7L1149 466.8L1173 467.5L1188 468.9L1245 477.2L1281 480.8L1331 484.6L1331 655.7L0 655.7L0 491.5L6 492.5L36 499.6L48 502L180 524L234 531.3L279 536L303 537.7L378 542.2L408 543.1L432 541.4L453 538.6L492 532L543 522.2L563.1 519L573 517.9L621 514.5L633 512.9L654 508.9L672 504.8L696 498.7L723 490.6L740.1 486L750 483.6L756 482.7L780 480.5L804 480.1L816 480.2L870 472.9L882 471.6L903 470.3L915 469.9L960 469.9L1023 468.6Z"/>
<path fill="#0080ff" stroke="#0080ff" stroke-width="0.7" d="M0 132L0 131.3L6 132.7L39 138L84 144.2L144 150.5L230.2 162L279.2 168L315 170.7L333 171L354 170.6L393 167.7L402 167.4L411 166.4L420 167L465 165.8L549 164.8L639 164.2L666 162.4L693 159.7L720 157.7L762 156.3L801 156.5L813 157.6L822 157.7L831 158.9L909 162.9L930 165.5L939 167.3L945 168.9L966 176.2L1022.9 201L1038 207L1044 208.6L1050 211L1065 214.8L1077 216.3L1083 216.6L1092 216.1L1098 215L1104 213.3L1113 208.8L1115.9 207L1119.5 204L1125 198.5L1127.9 195L1133.3 186L1136.4 177L1141.9 156L1143.5 153L1146 149.6L1151.7 144L1158 140.2L1167 136.5L1179 133.3L1191 131.5L1230 129.6L1245 130L1293 129.9L1326 130.4L1331 130.2L1331 161L1281 162.2L1263 163.6L1245 166.2L1219.6 174L1206 179.2L1201.4 183L1196.3 186L1194 187.8L1190.1 192L1185 195.3L1182 198L1180 201L1173 206.4L1169.9 210L1158.4 219L1151.5 225L1146 227.3L1137 232.3L1131 233.7L1125 237.2L1119 238.3L1110 242.4L1104 243.1L1098 245.3L1095 245.9L1077 247.2L1062 245.6L1041 240.5L1035 237.7L1026 235.6L1020 232.4L1011 232L1008 231.5L990 227.2L975 224.9L960 223.5L951 223.1L894 223L867 221L852 218.2L831 213.4L822 210.5L813 208.6L801 204.4L788 201L774 198.2L753 194.9L726 195.3L708 197.8L657 207.6L627 214.2L600 220.8L588 224.4L582 226.8L566.3 234L558 238.7L547.7 246L540.6 252L531.3 261L526.5 267L522.9 273L519.9 279L517.6 285L514.4 297L511.7 312L509.3 336L508 354L507 360.7L505.7 366L503.2 372L501 375.6L498 379.2L495 381.6L492 383.2L489 384.1L486 384.5L483 384.4L480 383.7L474 381.2L468 377.2L461.8 372L451.9 360L450.6 357L447.2 345L446.7 342L446.8 336L448.3 330L450.5 324L453.7 318L458.1 312L462 307.6L478.8 291L484.2 285L488.2 279L489.7 276L491.5 270L491.9 264L491.1 258L489 252L485.7 246L481.2 240L478.2 237L471 231.2L465.7 228L453 222L444 218.5L435 216.6L417 214L411 212.3L402 213L396 212.7L381 213.4L339 213.3L318 212.4L279 209.4L237 203.6L186 193.7L147 187.1L84 178.3L0 164.3ZM897.8 414L906 413.8L918 415.5L924 417.5L948 427.6L960 431.8L972 434.8L984 435.8L999 436.2L1014 435.6L1023 436.1L1032 434.6L1050 432.7L1080 430.1L1134 427.3L1185 424.1L1209 424.5L1221 425.6L1230 426L1235.4 429L1239 430.3L1263 437.4L1290 444.2L1331 452.8L1331 484.6L1284 481.1L1251 477.9L1236 476.1L1230 474.9L1185 468.5L1164 467.1L1146 466.8L1077 466.7L1050 467.3L1023 468.6L969 469.8L909 470L888 471.2L864 473.6L831 477.9L819 480L813 480.3L804 480.1L780 480.5L753 483.1L744 485L728.8 489L696 498.7L672 504.8L654 508.9L633 512.9L621 514.5L573 517.9L563.1 519L543 522.2L492 532L453 538.6L432 541.4L408 543.1L378 542.2L303 537.7L279 536L234 531.3L180 524L48 502L36 499.6L6 492.5L0 491.5L0 458.5L30 467.1L51 471.5L63 473.6L99 477.8L147 480.1L159 481.1L180 484.5L222 493.6L255 498.2L285 499.9L312 499.9L411 497.1L417 495.9L444 492.3L456 490.1L471 486.5L482.1 483L490 480L503 474L531 457.7L540 453L549 449.5L558 447.1L564 446.4L573 447.5L579 449L601.4 456L618 459.7L627 460.7L642 461L651 460.7L666 459.1L717 451.6L735 449.6L768 447.4L819 445.1L822 444.5L828 442.2L840 439.4L849 436.4L858 432.6L864 429.5L876 421.8L882 418.5L891 415.2Z"/>
<path fill="#36ffc1" stroke="#36ffc1" stroke-width="0.7" d="M1287.5 162L1331 161L1331 194.8L1308 196.2L1296 197.6L1281 200.8L1266 204.8L1260 206.9L1233 219.2L1197 238.7L1140.5 267L1135.8 270L1132.4 273L1127.3 279L1120.9 288L1117.4 294L1114.6 300L1113.2 306L1113.3 312L1114.7 318L1116.9 324L1122 333L1126.3 339L1129.2 342L1134 345.9L1140 349.5L1146 352.2L1155 354.7L1161 355.8L1164 355.9L1170 355.5L1176 354L1191 348.8L1205.2 342L1209 340.8L1212 340.3L1218 340.2L1224 340.8L1230 342L1239 344.9L1248 349.1L1302 385.1L1326 399.7L1331 402.4L1331 452.8L1290 444.2L1263 437.4L1243.9 432L1236 429.3L1230 426L1227 425.7L1221 425.6L1209 424.5L1185 424.1L1134 427.3L1080 430.1L1050 432.7L1032 434.6L1023 436.1L1014 435.6L999 436.2L984 435.8L972 434.8L960 431.8L948 427.6L924 417.5L918 415.5L909 414L900 413.8L891 415.2L882 418.5L876 421.8L864 429.5L858 432.6L849 436.4L840 439.4L828 442.2L822 444.5L819 445.1L768 447.4L735 449.6L717 451.6L666 459.1L651 460.7L642 461L627 460.7L615 459.2L600 455.6L576 448.1L567 446.6L561 446.7L552 448.6L540 453L531 457.7L503 474L490 480L474 485.7L459 489.5L441 492.7L408 497.4L309 499.9L282 499.8L252 497.8L222 493.6L180 484.5L159 481.1L147 480.1L99 477.8L69 474.5L54 472.1L30 467.1L0 458.5L0 417.9L24 429.4L51 440.1L60 442.3L78 444.5L87 444.8L96 444L114 441.5L141 436.4L150 435.4L159 435L168 435.3L177 436.4L207 442.3L222 446.3L233.9 447L243 448.1L249 448.1L261 447L273 445.4L282 443.8L291 441.3L297 439.2L318 430.5L324 426.9L341 414L345 410.5L350.1 405L356.4 396L359.3 390L360.2 387L360.8 384L361.3 378L360.5 372L358.5 366L357 362.7L353.1 357L344.9 348L336 339.3L318.4 324L310.8 318L291 304.4L279 298.7L270 295.4L252 289.5L248.9 288L246 286L243 285.4L237 285.5L231 283.1L225 283.5L222 282.8L218.8 279L216 276.6L207 271.1L197.4 264L181.9 249L171.7 240L165 235.1L157.8 231L150.9 228L144 225.8L126 221.7L117 220.7L84 218.2L63 215.7L54 214.3L27 207.5L0 198.4L0 164.3L84 178.3L147 187.1L186 193.7L237 203.6L279 209.4L318 212.4L339 213.3L381 213.4L396 212.7L402 213L411 212.3L420 214.6L441 217.7L445.6 219L453 222L468 229.3L474 233.4L478.2 237L481.2 240L485.7 246L489 252L491.1 258L491.9 264L491.5 270L489.7 276L488.2 279L484.2 285L481.7 288L465 304.4L455.7 315L451.9 321L449.3 327L447.5 333L446.6 339L447.2 345L450.6 357L451.9 360L461.8 372L468 377.2L474 381.2L480 383.7L483 384.4L486 384.5L489 384.1L492 383.2L495 381.6L498 379.2L501 375.6L503.2 372L505.7 366L507 360.7L508 354L509.3 336L511.7 312L514.4 297L517.6 285L519.9 279L522.9 273L526.5 267L531.3 261L537.3 255L547.7 246L556 240L564 235.2L579.2 228L588 224.4L595.6 222L619.3 216L654 208.3L708 197.8L726 195.3L753 194.9L774 198.2L788 201L801 204.4L813 208.6L822 210.5L831 213.4L852 218.2L867 221L894 223L951 223.1L960 223.5L975 224.9L990 227.2L1008 231.5L1011 232L1020 232.4L1026 235.6L1035 237.7L1041 240.5L1062 245.6L1077 247.2L1095 245.9L1098 245.3L1104 243.1L1110 242.4L1119 238.3L1125 237.2L1131 233.7L1137 232.3L1146 227.3L1151.5 225L1158.4 219L1169.9 210L1173 206.4L1180 201L1182 198L1185 195.3L1190.1 192L1194 187.8L1201.4 183L1204.7 180L1209 177.9L1221 173.5L1245 166.2L1269 163ZM843 284.9L828 286.9L822 289L813 290.5L810 293.3L807 297L780.5 312L757.3 324L729 335L708 342.2L699 346.9L695.6 348L693 349.5L687 355.2L683.2 357L681 358.6L679.7 360L678 362.9L677.1 366L676.8 369L677.8 375L679 378L680.8 381L683.4 384L686.8 387L696.1 393L702.2 396L709.7 399L719.4 402L729 404.6L741 407.2L753 409.1L769.2 411L783 411.8L804 410.5L819 408L822 406.4L828 400.4L834.8 396L840 390.1L843.9 387L846 384.7L849 378.4L854.3 372L857 366L861.1 360L871.6 339L878.7 330L886.5 318L891.3 309L892.5 306L893.1 303L892.9 300L891.5 297L888.9 294L884.8 291L879 288.5L870 286.2L861 284.7L852 284.3ZM969 260.6L960 263.1L951 266.6L944.3 270L939.7 273L932.4 279L929.6 282L925.5 288L924.5 291L924.7 294L926.2 297L928.9 300L935.4 306L948 315.9L960 323.7L966 326.7L975 330L984 331.4L990 331.1L993 330.6L999 329.1L1005 326.7L1011 323.4L1017 319.5L1026.9 312L1030.2 309L1032.4 306L1035 298.5L1040.4 294L1041 293.1L1041.8 291L1042 288L1041.6 285L1040.5 282L1038.6 279L1032.8 273L1028.9 270L1023.7 267L1017.3 264L1005.8 261L996 259.7L981 259.3L975 259.7Z"/>
<path fill="#c1ff36" stroke="#c1ff36" stroke-width="0.7" d="M1326.3 195L1331 194.8L1331 233.8L1323 233.7L1317 234L1311 234.8L1302 236.7L1290 240.8L1280.5 246L1275 250.1L1270 255L1263.5 264L1260.6 270L1259.6 273L1259 276L1258.5 282L1259.1 288L1260.2 294L1261.2 297L1263 300L1272 312.8L1283.4 324L1296 332.6L1302 335.9L1311 338.7L1317 342.2L1320 343.3L1331 346.1L1331 402.4L1326 399.7L1302 385.1L1251 350.9L1245 347.5L1236 343.8L1229.8 342L1221 340.5L1215 340.2L1209 340.8L1205.2 342L1191 348.8L1176 354L1167 355.8L1161 355.8L1149 353.2L1140 349.5L1134 345.9L1131 343.6L1126.3 339L1123.9 336L1118.4 327L1114.7 318L1113.3 312L1113.1 309L1113.7 303L1114.6 300L1117.4 294L1122.9 285L1129.7 276L1135.8 270L1146.3 264L1197 238.7L1230 220.7L1260 206.9L1272 203.1L1293 198.1L1305 196.4ZM0 201L0 198.4L27 207.5L57 214.9L84 218.2L117 220.7L129 222.2L147 226.7L153 228.8L159 231.6L165 235.1L171.7 240L181.9 249L197.4 264L207 271.1L216 276.6L218.8 279L222 282.8L225 283.5L231 283.1L237 285.5L243 285.4L246 286L248.9 288L252 289.5L270 295.4L282 300L288 302.7L294 306.2L310.8 318L318 323.6L333 336.6L342 345L351 354.5L354 358.1L357 362.7L360 370L361.1 375L361.3 378L360.8 384L360.2 387L359.3 390L357 394.9L351 403.8L344.5 411L325.2 426L318 430.5L297 439.2L285 443L270 445.9L249 448.1L243 448.1L233.9 447L222 446.3L210 443L183 437.4L171 435.6L162 435L153 435.2L144 436L114 441.5L90 444.6L81 444.7L66 443.2L54 441L45.3 438L23.1 429L0 417.9L0 348.1L9 346.2L21 341.2L30 335.5L36.2 330L41 324L42.8 321L46.7 312L48.7 303L49.4 294L48.6 288L46.6 282L45.2 279L39.9 270L35 264L28.6 258L16.6 249L6.8 243L0 240.1ZM967.1 261L972 260L978 259.4L993 259.5L1005 260.9L1017.3 264L1023.7 267L1028.9 270L1032.8 273L1038.6 279L1040.5 282L1041.6 285L1042 288L1041.8 291L1041 293.1L1040.4 294L1035 298.5L1032.4 306L1030.2 309L1026.9 312L1017 319.5L1011 323.4L1005 326.7L996 329.9L987 331.4L978 330.7L969 328L960 323.7L951.1 318L946.7 315L935.4 306L928.9 300L926.2 297L924.7 294L924.5 291L925.5 288L929.6 282L932.4 279L939.7 273L944.3 270L950 267L957.3 264ZM842.2 285L852 284.3L858 284.4L867 285.6L879 288.5L884.8 291L888.9 294L891.5 297L892.9 300L893.1 303L892.5 306L891.3 309L886.5 318L878.7 330L871.6 339L861.1 360L857 366L854.3 372L849 378.4L846 384.7L843.9 387L840 390.1L834.8 396L828 400.4L822 406.4L819 408L804 410.5L783 411.8L769.2 411L753 409.1L741 407.2L729 404.6L719.4 402L709.7 399L702.2 396L696.1 393L686.8 387L683.4 384L680.8 381L679 378L677.8 375L676.8 369L677.1 366L678 362.9L679.7 360L681 358.6L683.2 357L687 355.2L693 349.5L695.6 348L699 346.9L708 342.2L729 335L757.3 324L780.5 312L807 297L810 293.3L813 290.5L822 289L828 286.9Z"/>
<path fill="#ff9400" stroke="#ff9400" stroke-width="0.7" d="M1317.2 234L1323 233.7L1331 233.8L1331 346.1L1320 343.3L1317 342.2L1311 338.7L1302 335.9L1296 332.6L1284 324.5L1274 315L1271.3 312L1267.1 306L1261.2 297L1260.2 294L1259.1 288L1258.6 279L1259.6 273L1260.6 270L1261.9 267L1265.4 261L1270 255L1272.9 252L1276.3 249L1281 245.7L1285.5 243L1292 240L1302 236.7L1311 234.8ZM0 243L0 240.1L6 242.6L12 246L24.8 255L35 264L39.9 270L45.2 279L46.6 282L48.6 288L49.4 294L48.7 303L46.7 312L42.8 321L41 324L36.2 330L30 335.5L21 341.2L9 346.2L0 348.1Z"/>
<use href="#coast"/>
</g><rect x="0" y="0" width="1331" height="655.7" fill="none" stroke="#000" stroke-width="3.33"/></g>
<rect x="78.50" y="2801.50" width="222.43" height="65.60" fill="#0000df"/>
<rect x="300.33" y="2801.50" width="222.43" height="65.60" fill="#0080ff"/>
<rect x="522.17" y="2801.50" width="222.43" height="65.60" fill="#36ffc1"/>
<rect x="744.00" y="2801.50" width="222.43" height="65.60" fill="#c1ff36"/>
<rect x="965.83" y="2801.50" width="222.43" height="65.60" fill="#ff9400"/>
<rect x="1187.67" y="2801.50" width="221.83" height="65.60" fill="#df0000"/>
<rect x="78.5" y="2801.50" width="1331" height="65.6" fill="none" stroke="#000" stroke-width="3.33"/>
<path d="M78.50 2867.10v15.2" stroke="#000" stroke-width="3.33"/>
<text transform="translate(46.31,2928.50) scale(1.0476,1)" font-size="44.2">0.0</text>
<path d="M300.33 2867.10v15.2" stroke="#000" stroke-width="3.33"/>
<text transform="translate(268.02,2928.50) scale(1.0385,1)" font-size="44.2">2.5</text>
<path d="M522.17 2867.10v15.2" stroke="#000" stroke-width="3.33"/>
<text transform="translate(490.42,2928.50) scale(1.0403,1)" font-size="44.2">5.0</text>
<path d="M744.00 2867.10v15.2" stroke="#000" stroke-width="3.33"/>
<text transform="translate(712.01,2928.50) scale(1.0329,1)" font-size="44.2">7.5</text>
<path d="M965.83 2867.10v15.2" stroke="#000" stroke-width="3.33"/>
<text transform="translate(920.48,2928.50) scale(1.0556,1)" font-size="44.2">10.0</text>
<path d="M1187.67 2867.10v15.2" stroke="#000" stroke-width="3.33"/>
<text transform="translate(1142.41,2928.50) scale(1.0465,1)" font-size="44.2">12.5</text>
<path d="M1409.50 2867.10v15.2" stroke="#000" stroke-width="3.33"/>
<text transform="translate(1364.15,2928.50) scale(1.0556,1)" font-size="44.2">15.0</text>
</svg></body></html>
